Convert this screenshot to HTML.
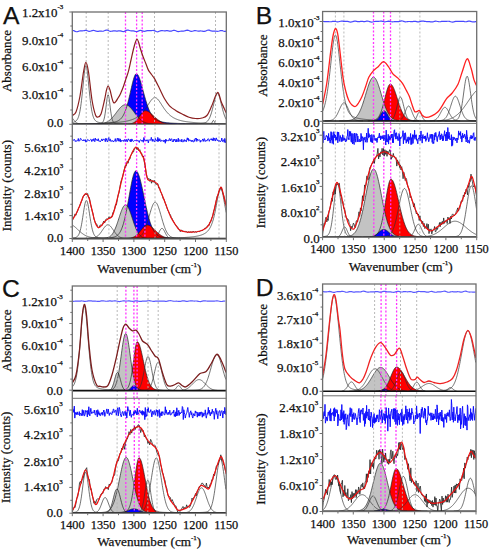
<!DOCTYPE html>
<html><head><meta charset="utf-8"><style>
html,body{margin:0;padding:0;background:#fff;}
svg{display:block;}
text{font-family:"Liberation Serif", serif;fill:#111;stroke:#111;stroke-width:0.25px;}
</style></head><body>
<svg width="492" height="550" viewBox="0 0 492 550">
<rect width="492" height="550" fill="#fff"/>
<clipPath id="clipAT"><rect x="72.3" y="12" width="154" height="112.3"/></clipPath>
<g clip-path="url(#clipAT)">
<path d="M72.3,124.02 L72.7,124.02 L73.1,124.01 L73.5,124.01 L73.9,124.01 L74.3,124 L74.7,124 L75.1,123.99 L75.5,123.99 L75.9,123.99 L76.3,123.98 L76.7,123.98 L77.1,123.97 L77.5,123.97 L77.9,123.96 L78.3,123.96 L78.7,123.96 L79.1,123.95 L79.5,123.95 L79.9,123.94 L80.3,123.94 L80.7,123.93 L81.1,123.93 L81.5,123.92 L81.9,123.91 L82.3,123.91 L82.7,123.9 L83.1,123.9 L83.5,123.89 L83.9,123.89 L84.3,123.88 L84.7,123.87 L85.1,123.87 L85.5,123.86 L85.9,123.85 L86.3,123.85 L86.7,123.84 L87.1,123.83 L87.5,123.82 L87.9,123.82 L88.3,123.81 L88.7,123.8 L89.1,123.79 L89.5,123.78 L89.9,123.77 L90.3,123.77 L90.7,123.76 L91.1,123.75 L91.5,123.74 L91.9,123.73 L92.3,123.72 L92.7,123.71 L93.1,123.7 L93.5,123.69 L93.9,123.67 L94.3,123.66 L94.7,123.65 L95.1,123.64 L95.5,123.63 L95.9,123.61 L96.3,123.6 L96.7,123.59 L97.1,123.57 L97.5,123.56 L97.9,123.54 L98.3,123.53 L98.7,123.51 L99.1,123.49 L99.5,123.48 L99.9,123.46 L100.3,123.44 L100.7,123.42 L101.1,123.41 L101.5,123.39 L101.9,123.37 L102.3,123.34 L102.7,123.32 L103.1,123.3 L103.5,123.28 L103.9,123.25 L104.3,123.23 L104.7,123.2 L105.1,123.18 L105.5,123.15 L105.9,123.12 L106.3,123.09 L106.7,123.06 L107.1,123.03 L107.5,122.99 L107.9,122.96 L108.3,122.92 L108.7,122.88 L109.1,122.84 L109.5,122.8 L109.9,122.76 L110.3,122.71 L110.7,122.66 L111.1,122.61 L111.5,122.56 L111.9,122.5 L112.3,122.44 L112.7,122.38 L113.1,122.31 L113.5,122.24 L113.9,122.16 L114.3,122.08 L114.7,121.99 L115.1,121.89 L115.5,121.78 L115.9,121.66 L116.3,121.54 L116.7,121.4 L117.1,121.24 L117.5,121.07 L117.9,120.88 L118.3,120.68 L118.7,120.45 L119.1,120.2 L119.5,119.92 L119.9,119.61 L120.3,119.27 L120.7,118.89 L121.1,118.48 L121.5,118.02 L121.9,117.52 L122.3,116.96 L122.7,116.36 L123.1,115.7 L123.5,114.98 L123.9,114.2 L124.3,113.36 L124.7,112.44 L125.1,111.46 L125.5,110.41 L125.9,109.29 L126.3,108.09 L126.7,106.82 L127.1,105.48 L127.5,104.07 L127.9,102.59 L128.3,101.05 L128.7,99.46 L129.1,97.81 L129.5,96.11 L129.9,94.38 L130.3,92.63 L130.7,90.86 L131.1,89.08 L131.5,87.32 L131.9,85.58 L132.3,83.89 L132.7,82.26 L133.1,80.72 L133.5,79.28 L133.9,77.96 L134.3,76.79 L134.7,75.8 L135.1,74.98 L135.5,74.37 L135.9,73.98 L136.3,73.81 L136.7,73.85 L137.1,74.05 L137.5,74.41 L137.9,74.92 L138.3,75.58 L138.7,76.38 L139.1,77.3 L139.5,78.33 L139.9,79.47 L140.3,80.69 L140.7,81.99 L141.1,83.35 L141.5,84.76 L141.9,86.2 L142.3,87.68 L142.7,89.17 L143.1,90.67 L143.5,92.17 L143.9,93.65 L144.3,95.13 L144.7,96.58 L145.1,98 L145.5,99.39 L145.9,100.75 L146.3,102.06 L146.7,103.33 L147.1,104.56 L147.5,105.73 L147.9,106.86 L148.3,107.93 L148.7,108.95 L149.1,109.93 L149.5,110.85 L149.9,111.71 L150.3,112.53 L150.7,113.3 L151.1,114.02 L151.5,114.7 L151.9,115.33 L152.3,115.92 L152.7,116.46 L153.1,116.97 L153.5,117.44 L153.9,117.87 L154.3,118.27 L154.7,118.64 L155.1,118.98 L155.5,119.29 L155.9,119.58 L156.3,119.85 L156.7,120.09 L157.1,120.31 L157.5,120.52 L157.9,120.71 L158.3,120.88 L158.7,121.04 L159.1,121.19 L159.5,121.32 L159.9,121.45 L160.3,121.56 L160.7,121.67 L161.1,121.77 L161.5,121.86 L161.9,121.95 L162.3,122.03 L162.7,122.1 L163.1,122.17 L163.5,122.24 L163.9,122.3 L164.3,122.36 L164.7,122.41 L165.1,122.47 L165.5,122.51 L165.9,122.56 L166.3,122.61 L166.7,122.65 L167.1,122.69 L167.5,122.73 L167.9,122.77 L168.3,122.81 L168.7,122.84 L169.1,122.87 L169.5,122.91 L169.9,122.94 L170.3,122.97 L170.7,123 L171.1,123.03 L171.5,123.05 L171.9,123.08 L172.3,123.11 L172.7,123.13 L173.1,123.15 L173.5,123.18 L173.9,123.2 L174.3,123.22 L174.7,123.24 L175.1,123.26 L175.5,123.28 L175.9,123.3 L176.3,123.32 L176.7,123.34 L177.1,123.36 L177.5,123.38 L177.9,123.39 L178.3,123.41 L178.7,123.43 L179.1,123.44 L179.5,123.46 L179.9,123.47 L180.3,123.49 L180.7,123.5 L181.1,123.51 L181.5,123.53 L181.9,123.54 L182.3,123.55 L182.7,123.56 L183.1,123.58 L183.5,123.59 L183.9,123.6 L184.3,123.61 L184.7,123.62 L185.1,123.63 L185.5,123.64 L185.9,123.65 L186.3,123.66 L186.7,123.67 L187.1,123.68 L187.5,123.69 L187.9,123.7 L188.3,123.71 L188.7,123.72 L189.1,123.73 L189.5,123.74 L189.9,123.74 L190.3,123.75 L190.7,123.76 L191.1,123.77 L191.5,123.78 L191.9,123.78 L192.3,123.79 L192.7,123.8 L193.1,123.8 L193.5,123.81 L193.9,123.82 L194.3,123.82 L194.7,123.83 L195.1,123.84 L195.5,123.84 L195.9,123.85 L196.3,123.85 L196.7,123.86 L197.1,123.87 L197.5,123.87 L197.9,123.88 L198.3,123.88 L198.7,123.89 L199.1,123.89 L199.5,123.9 L199.9,123.9 L200.3,123.91 L200.7,123.91 L201.1,123.92 L201.5,123.92 L201.9,123.93 L202.3,123.93 L202.7,123.93 L203.1,123.94 L203.5,123.94 L203.9,123.95 L204.3,123.95 L204.7,123.96 L205.1,123.96 L205.5,123.96 L205.9,123.97 L206.3,123.97 L206.7,123.97 L207.1,123.98 L207.5,123.98 L207.9,123.98 L208.3,123.99 L208.7,123.99 L209.1,124 L209.5,124 L209.9,124 L210.3,124 L210.7,124.01 L211.1,124.01 L211.5,124.01 L211.9,124.02 L212.3,124.02 L212.7,124.02 L213.1,124.03 L213.5,124.03 L213.9,124.03 L214.3,124.03 L214.7,124.04 L215.1,124.04 L215.5,124.04 L215.9,124.04 L216.3,124.05 L216.7,124.05 L217.1,124.05 L217.5,124.05 L217.9,124.06 L218.3,124.06 L218.7,124.06 L219.1,124.06 L219.5,124.07 L219.9,124.07 L220.3,124.07 L220.7,124.07 L221.1,124.07 L221.5,124.08 L221.9,124.08 L222.3,124.08 L222.7,124.08 L223.1,124.08 L223.5,124.09 L223.9,124.09 L224.3,124.09 L224.7,124.09 L225.1,124.09 L225.5,124.1 L225.9,124.1 L226.3,124.1 L226.3,124.3 L72.3,124.3 Z" fill="#0000ff" stroke="none"/>
<path d="M97.9,124.13 L98.3,124.11 L98.7,124.08 L99.1,124.05 L99.5,124.01 L99.9,123.97 L100.3,123.93 L100.7,123.88 L101.1,123.82 L101.5,123.76 L101.9,123.69 L102.3,123.62 L102.7,123.53 L103.1,123.44 L103.5,123.34 L103.9,123.23 L104.3,123.11 L104.7,122.97 L105.1,122.83 L105.5,122.67 L105.9,122.51 L106.3,122.32 L106.7,122.13 L107.1,121.91 L107.5,121.69 L107.9,121.44 L108.3,121.18 L108.7,120.91 L109.1,120.61 L109.5,120.3 L109.9,119.97 L110.3,119.63 L110.7,119.26 L111.1,118.88 L111.5,118.48 L111.9,118.07 L112.3,117.64 L112.7,117.19 L113.1,116.73 L113.5,116.25 L113.9,115.77 L114.3,115.27 L114.7,114.76 L115.1,114.24 L115.5,113.72 L115.9,113.19 L116.3,112.65 L116.7,112.12 L117.1,111.59 L117.5,111.06 L117.9,110.54 L118.3,110.02 L118.7,109.52 L119.1,109.03 L119.5,108.55 L119.9,108.09 L120.3,107.66 L120.7,107.24 L121.1,106.85 L121.5,106.49 L121.9,106.15 L122.3,105.85 L122.7,105.58 L123.1,105.34 L123.5,105.14 L123.9,104.98 L124.3,104.85 L124.7,104.76 L125.1,104.71 L125.5,104.7 L125.9,104.73 L126.3,104.8 L126.7,104.91 L127.1,105.05 L127.5,105.24 L127.9,105.46 L128.3,105.71 L128.7,106 L129.1,106.32 L129.5,106.67 L129.9,107.04 L130.3,107.45 L130.7,107.87 L131.1,108.32 L131.5,108.79 L131.9,109.27 L132.3,109.77 L132.7,110.28 L133.1,110.8 L133.5,111.32 L133.9,111.86 L134.3,112.39 L134.7,112.92 L135.1,113.45 L135.5,113.98 L135.9,114.5 L136.3,115.01 L136.7,115.52 L137.1,116.01 L137.5,116.49 L137.9,116.96 L138.3,117.42 L138.7,117.85 L139.1,118.28 L139.5,118.68 L139.9,119.07 L140.3,119.45 L140.7,119.8 L141.1,120.14 L141.5,120.46 L141.9,120.76 L142.3,121.05 L142.7,121.31 L143.1,121.57 L143.5,121.8 L143.9,122.02 L144.3,122.23 L144.7,122.42 L145.1,122.59 L145.5,122.75 L145.9,122.9 L146.3,123.04 L146.7,123.17 L147.1,123.28 L147.5,123.39 L147.9,123.49 L148.3,123.57 L148.7,123.65 L149.1,123.73 L149.5,123.79 L149.9,123.85 L150.3,123.9 L150.7,123.95 L151.1,123.99 L151.5,124.03 L151.9,124.06 L152.3,124.09 L152.7,124.12 L153.1,124.14 L153.1,124.3 L97.9,124.3 Z" fill="#c3c3c3" stroke="none"/>
<path d="M125.5,124.15 L125.9,124.14 L126.3,124.12 L126.7,124.11 L127.1,124.09 L127.5,124.07 L127.9,124.05 L128.3,124.02 L128.7,123.99 L129.1,123.95 L129.5,123.9 L129.9,123.84 L130.3,123.78 L130.7,123.7 L131.1,123.62 L131.5,123.51 L131.9,123.4 L132.3,123.26 L132.7,123.11 L133.1,122.93 L133.5,122.74 L133.9,122.51 L134.3,122.27 L134.7,121.99 L135.1,121.69 L135.5,121.35 L135.9,120.99 L136.3,120.59 L136.7,120.17 L137.1,119.71 L137.5,119.23 L137.9,118.72 L138.3,118.19 L138.7,117.64 L139.1,117.07 L139.5,116.49 L139.9,115.91 L140.3,115.32 L140.7,114.74 L141.1,114.18 L141.5,113.63 L141.9,113.11 L142.3,112.62 L142.7,112.17 L143.1,111.77 L143.5,111.43 L143.9,111.15 L144.3,110.93 L144.7,110.78 L145.1,110.71 L145.5,110.7 L145.9,110.74 L146.3,110.8 L146.7,110.89 L147.1,111.01 L147.5,111.17 L147.9,111.35 L148.3,111.55 L148.7,111.78 L149.1,112.04 L149.5,112.31 L149.9,112.61 L150.3,112.92 L150.7,113.25 L151.1,113.59 L151.5,113.94 L151.9,114.3 L152.3,114.67 L152.7,115.05 L153.1,115.43 L153.5,115.81 L153.9,116.19 L154.3,116.57 L154.7,116.94 L155.1,117.32 L155.5,117.68 L155.9,118.04 L156.3,118.39 L156.7,118.74 L157.1,119.07 L157.5,119.39 L157.9,119.7 L158.3,120 L158.7,120.29 L159.1,120.56 L159.5,120.82 L159.9,121.07 L160.3,121.31 L160.7,121.53 L161.1,121.74 L161.5,121.94 L161.9,122.13 L162.3,122.3 L162.7,122.46 L163.1,122.61 L163.5,122.75 L163.9,122.88 L164.3,123 L164.7,123.11 L165.1,123.22 L165.5,123.31 L165.9,123.39 L166.3,123.47 L166.7,123.54 L167.1,123.61 L167.5,123.67 L167.9,123.72 L168.3,123.77 L168.7,123.81 L169.1,123.85 L169.5,123.89 L169.9,123.92 L170.3,123.95 L170.7,123.98 L171.1,124 L171.5,124.02 L171.9,124.04 L172.3,124.06 L172.7,124.07 L173.1,124.09 L173.5,124.1 L173.9,124.11 L174.3,124.12 L174.7,124.13 L175.1,124.14 L175.5,124.14 L175.5,124.3 L125.5,124.3 Z" fill="#ff0000" stroke="none"/>
<path d="M72.3,124.02 L72.7,124.02 L73.1,124.01 L73.5,124.01 L73.9,124.01 L74.3,124 L74.7,124 L75.1,123.99 L75.5,123.99 L75.9,123.99 L76.3,123.98 L76.7,123.98 L77.1,123.97 L77.5,123.97 L77.9,123.96 L78.3,123.96 L78.7,123.96 L79.1,123.95 L79.5,123.95 L79.9,123.94 L80.3,123.94 L80.7,123.93 L81.1,123.93 L81.5,123.92 L81.9,123.91 L82.3,123.91 L82.7,123.9 L83.1,123.9 L83.5,123.89 L83.9,123.89 L84.3,123.88 L84.7,123.87 L85.1,123.87 L85.5,123.86 L85.9,123.85 L86.3,123.85 L86.7,123.84 L87.1,123.83 L87.5,123.82 L87.9,123.82 L88.3,123.81 L88.7,123.8 L89.1,123.79 L89.5,123.78 L89.9,123.77 L90.3,123.77 L90.7,123.76 L91.1,123.75 L91.5,123.74 L91.9,123.73 L92.3,123.72 L92.7,123.71 L93.1,123.7 L93.5,123.69 L93.9,123.67 L94.3,123.66 L94.7,123.65 L95.1,123.64 L95.5,123.63 L95.9,123.61 L96.3,123.6 L96.7,123.59 L97.1,123.57 L97.5,123.56 L97.9,123.54 L98.3,123.53 L98.7,123.51 L99.1,123.49 L99.5,123.48 L99.9,123.46 L100.3,123.44 L100.7,123.42 L101.1,123.41 L101.5,123.39 L101.9,123.37 L102.3,123.34 L102.7,123.32 L103.1,123.3 L103.5,123.28 L103.9,123.25 L104.3,123.23 L104.7,123.2 L105.1,123.18 L105.5,123.15 L105.9,123.12 L106.3,123.09 L106.7,123.06 L107.1,123.03 L107.5,122.99 L107.9,122.96 L108.3,122.92 L108.7,122.88 L109.1,122.84 L109.5,122.8 L109.9,122.76 L110.3,122.71 L110.7,122.66 L111.1,122.61 L111.5,122.56 L111.9,122.5 L112.3,122.44 L112.7,122.38 L113.1,122.31 L113.5,122.24 L113.9,122.16 L114.3,122.08 L114.7,121.99 L115.1,121.89 L115.5,121.78 L115.9,121.66 L116.3,121.54 L116.7,121.4 L117.1,121.24 L117.5,121.07 L117.9,120.88 L118.3,120.68 L118.7,120.45 L119.1,120.2 L119.5,119.92 L119.9,119.61 L120.3,119.27 L120.7,118.89 L121.1,118.48 L121.5,118.02 L121.9,117.52 L122.3,116.96 L122.7,116.36 L123.1,115.7 L123.5,114.98 L123.9,114.2 L124.3,113.36 L124.7,112.44 L125.1,111.46 L125.5,110.41 L125.9,109.29 L126.3,108.09 L126.7,106.82 L127.1,105.48 L127.5,104.07 L127.9,102.59 L128.3,101.05 L128.7,99.46 L129.1,97.81 L129.5,96.11 L129.9,94.38 L130.3,92.63 L130.7,90.86 L131.1,89.08 L131.5,87.32 L131.9,85.58 L132.3,83.89 L132.7,82.26 L133.1,80.72 L133.5,79.28 L133.9,77.96 L134.3,76.79 L134.7,75.8 L135.1,74.98 L135.5,74.37 L135.9,73.98 L136.3,73.81 L136.7,73.85 L137.1,74.05 L137.5,74.41 L137.9,74.92 L138.3,75.58 L138.7,76.38 L139.1,77.3 L139.5,78.33 L139.9,79.47 L140.3,80.69 L140.7,81.99 L141.1,83.35 L141.5,84.76 L141.9,86.2 L142.3,87.68 L142.7,89.17 L143.1,90.67 L143.5,92.17 L143.9,93.65 L144.3,95.13 L144.7,96.58 L145.1,98 L145.5,99.39 L145.9,100.75 L146.3,102.06 L146.7,103.33 L147.1,104.56 L147.5,105.73 L147.9,106.86 L148.3,107.93 L148.7,108.95 L149.1,109.93 L149.5,110.85 L149.9,111.71 L150.3,112.53 L150.7,113.3 L151.1,114.02 L151.5,114.7 L151.9,115.33 L152.3,115.92 L152.7,116.46 L153.1,116.97 L153.5,117.44 L153.9,117.87 L154.3,118.27 L154.7,118.64 L155.1,118.98 L155.5,119.29 L155.9,119.58 L156.3,119.85 L156.7,120.09 L157.1,120.31 L157.5,120.52 L157.9,120.71 L158.3,120.88 L158.7,121.04 L159.1,121.19 L159.5,121.32 L159.9,121.45 L160.3,121.56 L160.7,121.67 L161.1,121.77 L161.5,121.86 L161.9,121.95 L162.3,122.03 L162.7,122.1 L163.1,122.17 L163.5,122.24 L163.9,122.3 L164.3,122.36 L164.7,122.41 L165.1,122.47 L165.5,122.51 L165.9,122.56 L166.3,122.61 L166.7,122.65 L167.1,122.69 L167.5,122.73 L167.9,122.77 L168.3,122.81 L168.7,122.84 L169.1,122.87 L169.5,122.91 L169.9,122.94 L170.3,122.97 L170.7,123 L171.1,123.03 L171.5,123.05 L171.9,123.08 L172.3,123.11 L172.7,123.13 L173.1,123.15 L173.5,123.18 L173.9,123.2 L174.3,123.22 L174.7,123.24 L175.1,123.26 L175.5,123.28 L175.9,123.3 L176.3,123.32 L176.7,123.34 L177.1,123.36 L177.5,123.38 L177.9,123.39 L178.3,123.41 L178.7,123.43 L179.1,123.44 L179.5,123.46 L179.9,123.47 L180.3,123.49 L180.7,123.5 L181.1,123.51 L181.5,123.53 L181.9,123.54 L182.3,123.55 L182.7,123.56 L183.1,123.58 L183.5,123.59 L183.9,123.6 L184.3,123.61 L184.7,123.62 L185.1,123.63 L185.5,123.64 L185.9,123.65 L186.3,123.66 L186.7,123.67 L187.1,123.68 L187.5,123.69 L187.9,123.7 L188.3,123.71 L188.7,123.72 L189.1,123.73 L189.5,123.74 L189.9,123.74 L190.3,123.75 L190.7,123.76 L191.1,123.77 L191.5,123.78 L191.9,123.78 L192.3,123.79 L192.7,123.8 L193.1,123.8 L193.5,123.81 L193.9,123.82 L194.3,123.82 L194.7,123.83 L195.1,123.84 L195.5,123.84 L195.9,123.85 L196.3,123.85 L196.7,123.86 L197.1,123.87 L197.5,123.87 L197.9,123.88 L198.3,123.88 L198.7,123.89 L199.1,123.89 L199.5,123.9 L199.9,123.9 L200.3,123.91 L200.7,123.91 L201.1,123.92 L201.5,123.92 L201.9,123.93 L202.3,123.93 L202.7,123.93 L203.1,123.94 L203.5,123.94 L203.9,123.95 L204.3,123.95 L204.7,123.96 L205.1,123.96 L205.5,123.96 L205.9,123.97 L206.3,123.97 L206.7,123.97 L207.1,123.98 L207.5,123.98 L207.9,123.98 L208.3,123.99 L208.7,123.99 L209.1,124 L209.5,124 L209.9,124 L210.3,124 L210.7,124.01 L211.1,124.01 L211.5,124.01 L211.9,124.02 L212.3,124.02 L212.7,124.02 L213.1,124.03 L213.5,124.03 L213.9,124.03 L214.3,124.03 L214.7,124.04 L215.1,124.04 L215.5,124.04 L215.9,124.04 L216.3,124.05 L216.7,124.05 L217.1,124.05 L217.5,124.05 L217.9,124.06 L218.3,124.06 L218.7,124.06 L219.1,124.06 L219.5,124.07 L219.9,124.07 L220.3,124.07 L220.7,124.07 L221.1,124.07 L221.5,124.08 L221.9,124.08 L222.3,124.08 L222.7,124.08 L223.1,124.08 L223.5,124.09 L223.9,124.09 L224.3,124.09 L224.7,124.09 L225.1,124.09 L225.5,124.1 L225.9,124.1 L226.3,124.1" fill="none" stroke="#222" stroke-width="0.7"/>
<path d="M97.9,124.13 L98.3,124.11 L98.7,124.08 L99.1,124.05 L99.5,124.01 L99.9,123.97 L100.3,123.93 L100.7,123.88 L101.1,123.82 L101.5,123.76 L101.9,123.69 L102.3,123.62 L102.7,123.53 L103.1,123.44 L103.5,123.34 L103.9,123.23 L104.3,123.11 L104.7,122.97 L105.1,122.83 L105.5,122.67 L105.9,122.51 L106.3,122.32 L106.7,122.13 L107.1,121.91 L107.5,121.69 L107.9,121.44 L108.3,121.18 L108.7,120.91 L109.1,120.61 L109.5,120.3 L109.9,119.97 L110.3,119.63 L110.7,119.26 L111.1,118.88 L111.5,118.48 L111.9,118.07 L112.3,117.64 L112.7,117.19 L113.1,116.73 L113.5,116.25 L113.9,115.77 L114.3,115.27 L114.7,114.76 L115.1,114.24 L115.5,113.72 L115.9,113.19 L116.3,112.65 L116.7,112.12 L117.1,111.59 L117.5,111.06 L117.9,110.54 L118.3,110.02 L118.7,109.52 L119.1,109.03 L119.5,108.55 L119.9,108.09 L120.3,107.66 L120.7,107.24 L121.1,106.85 L121.5,106.49 L121.9,106.15 L122.3,105.85 L122.7,105.58 L123.1,105.34 L123.5,105.14 L123.9,104.98 L124.3,104.85 L124.7,104.76 L125.1,104.71 L125.5,104.7 L125.9,104.73 L126.3,104.8 L126.7,104.91 L127.1,105.05 L127.5,105.24 L127.9,105.46 L128.3,105.71 L128.7,106 L129.1,106.32 L129.5,106.67 L129.9,107.04 L130.3,107.45 L130.7,107.87 L131.1,108.32 L131.5,108.79 L131.9,109.27 L132.3,109.77 L132.7,110.28 L133.1,110.8 L133.5,111.32 L133.9,111.86 L134.3,112.39 L134.7,112.92 L135.1,113.45 L135.5,113.98 L135.9,114.5 L136.3,115.01 L136.7,115.52 L137.1,116.01 L137.5,116.49 L137.9,116.96 L138.3,117.42 L138.7,117.85 L139.1,118.28 L139.5,118.68 L139.9,119.07 L140.3,119.45 L140.7,119.8 L141.1,120.14 L141.5,120.46 L141.9,120.76 L142.3,121.05 L142.7,121.31 L143.1,121.57 L143.5,121.8 L143.9,122.02 L144.3,122.23 L144.7,122.42 L145.1,122.59 L145.5,122.75 L145.9,122.9 L146.3,123.04 L146.7,123.17 L147.1,123.28 L147.5,123.39 L147.9,123.49 L148.3,123.57 L148.7,123.65 L149.1,123.73 L149.5,123.79 L149.9,123.85 L150.3,123.9 L150.7,123.95 L151.1,123.99 L151.5,124.03 L151.9,124.06 L152.3,124.09 L152.7,124.12 L153.1,124.14" fill="none" stroke="#222" stroke-width="0.7"/>
<path d="M125.5,124.15 L125.9,124.14 L126.3,124.12 L126.7,124.11 L127.1,124.09 L127.5,124.07 L127.9,124.05 L128.3,124.02 L128.7,123.99 L129.1,123.95 L129.5,123.9 L129.9,123.84 L130.3,123.78 L130.7,123.7 L131.1,123.62 L131.5,123.51 L131.9,123.4 L132.3,123.26 L132.7,123.11 L133.1,122.93 L133.5,122.74 L133.9,122.51 L134.3,122.27 L134.7,121.99 L135.1,121.69 L135.5,121.35 L135.9,120.99 L136.3,120.59 L136.7,120.17 L137.1,119.71 L137.5,119.23 L137.9,118.72 L138.3,118.19 L138.7,117.64 L139.1,117.07 L139.5,116.49 L139.9,115.91 L140.3,115.32 L140.7,114.74 L141.1,114.18 L141.5,113.63 L141.9,113.11 L142.3,112.62 L142.7,112.17 L143.1,111.77 L143.5,111.43 L143.9,111.15 L144.3,110.93 L144.7,110.78 L145.1,110.71 L145.5,110.7 L145.9,110.74 L146.3,110.8 L146.7,110.89 L147.1,111.01 L147.5,111.17 L147.9,111.35 L148.3,111.55 L148.7,111.78 L149.1,112.04 L149.5,112.31 L149.9,112.61 L150.3,112.92 L150.7,113.25 L151.1,113.59 L151.5,113.94 L151.9,114.3 L152.3,114.67 L152.7,115.05 L153.1,115.43 L153.5,115.81 L153.9,116.19 L154.3,116.57 L154.7,116.94 L155.1,117.32 L155.5,117.68 L155.9,118.04 L156.3,118.39 L156.7,118.74 L157.1,119.07 L157.5,119.39 L157.9,119.7 L158.3,120 L158.7,120.29 L159.1,120.56 L159.5,120.82 L159.9,121.07 L160.3,121.31 L160.7,121.53 L161.1,121.74 L161.5,121.94 L161.9,122.13 L162.3,122.3 L162.7,122.46 L163.1,122.61 L163.5,122.75 L163.9,122.88 L164.3,123 L164.7,123.11 L165.1,123.22 L165.5,123.31 L165.9,123.39 L166.3,123.47 L166.7,123.54 L167.1,123.61 L167.5,123.67 L167.9,123.72 L168.3,123.77 L168.7,123.81 L169.1,123.85 L169.5,123.89 L169.9,123.92 L170.3,123.95 L170.7,123.98 L171.1,124 L171.5,124.02 L171.9,124.04 L172.3,124.06 L172.7,124.07 L173.1,124.09 L173.5,124.1 L173.9,124.11 L174.3,124.12 L174.7,124.13 L175.1,124.14 L175.5,124.14" fill="none" stroke="#222" stroke-width="0.7"/>
<path d="M72.3,122.6 L72.7,122.5 L73.1,122.39 L73.5,122.27 L73.9,122.13 L74.3,121.97 L74.7,121.79 L75.1,121.59 L75.5,121.34 L75.9,121.05 L76.3,120.7 L76.7,120.28 L77.1,119.76 L77.5,119.13 L77.9,118.36 L78.3,117.41 L78.7,116.27 L79.1,114.9 L79.5,113.27 L79.9,111.34 L80.3,109.11 L80.7,106.54 L81.1,103.64 L81.5,100.4 L81.9,96.87 L82.3,93.07 L82.7,89.08 L83.1,84.98 L83.5,80.88 L83.9,76.93 L84.3,73.3 L84.7,70.17 L85.1,67.76 L85.5,66.23 L85.9,65.7 L86.3,66.23 L86.7,67.76 L87.1,70.17 L87.5,73.3 L87.9,76.93 L88.3,80.88 L88.7,84.98 L89.1,89.08 L89.5,93.07 L89.9,96.87 L90.3,100.4 L90.7,103.64 L91.1,106.54 L91.5,109.11 L91.9,111.34 L92.3,113.27 L92.7,114.9 L93.1,116.27 L93.5,117.41 L93.9,118.36 L94.3,119.13 L94.7,119.76 L95.1,120.28 L95.5,120.7 L95.9,121.05 L96.3,121.34 L96.7,121.59 L97.1,121.79 L97.5,121.97 L97.9,122.13 L98.3,122.27 L98.7,122.39 L99.1,122.5 L99.5,122.6 L99.9,122.69 L100.3,122.77 L100.7,122.85 L101.1,122.92 L101.5,122.99 L101.9,123.05 L102.3,123.11 L102.7,123.16 L103.1,123.21 L103.5,123.26 L103.9,123.3 L104.3,123.34 L104.7,123.38 L105.1,123.42 L105.5,123.45 L105.9,123.48 L106.3,123.51 L106.7,123.54 L107.1,123.57 L107.5,123.6 L107.9,123.62 L108.3,123.64 L108.7,123.67 L109.1,123.69 L109.5,123.71 L109.9,123.73 L110.3,123.74 L110.7,123.76 L111.1,123.78 L111.5,123.79 L111.9,123.81 L112.3,123.82 L112.7,123.84 L113.1,123.85 L113.5,123.86 L113.9,123.88 L114.3,123.89 L114.7,123.9 L115.1,123.91 L115.5,123.92 L115.9,123.93 L116.3,123.94 L116.7,123.95 L117.1,123.96 L117.5,123.97 L117.9,123.97 L118.3,123.98 L118.7,123.99 L119.1,124 L119.5,124 L119.9,124.01 L120.3,124.02 L120.7,124.02 L121.1,124.03 L121.5,124.04 L121.9,124.04 L122.3,124.05 L122.7,124.05 L123.1,124.06 L123.5,124.06 L123.9,124.07 L124.3,124.07 L124.7,124.08 L125.1,124.08 L125.5,124.09 L125.9,124.09 L126.3,124.09 L126.7,124.1 L127.1,124.1 L127.5,124.11 L127.9,124.11 L128.3,124.11 L128.7,124.12 L129.1,124.12 L129.5,124.12 L129.9,124.13 L130.3,124.13 L130.7,124.13 L131.1,124.14 L131.5,124.14 L131.9,124.14 L132.3,124.14 L132.7,124.15 L133.1,124.15" fill="none" stroke="#333" stroke-width="0.7"/>
<path d="M89.9,124.15 L90.3,124.14 L90.7,124.13 L91.1,124.13 L91.5,124.12 L91.9,124.11 L92.3,124.1 L92.7,124.09 L93.1,124.08 L93.5,124.07 L93.9,124.05 L94.3,124.04 L94.7,124.02 L95.1,124.01 L95.5,123.99 L95.9,123.97 L96.3,123.95 L96.7,123.92 L97.1,123.9 L97.5,123.87 L97.9,123.83 L98.3,123.8 L98.7,123.76 L99.1,123.71 L99.5,123.66 L99.9,123.59 L100.3,123.52 L100.7,123.43 L101.1,123.31 L101.5,123.15 L101.9,122.94 L102.3,122.64 L102.7,122.22 L103.1,121.61 L103.5,120.78 L103.9,119.63 L104.3,118.12 L104.7,116.19 L105.1,113.82 L105.5,111.03 L105.9,107.9 L106.3,104.59 L106.7,101.31 L107.1,98.36 L107.5,96.1 L107.9,94.86 L108.3,94.86 L108.7,96.1 L109.1,98.36 L109.5,101.31 L109.9,104.59 L110.3,107.9 L110.7,111.03 L111.1,113.82 L111.5,116.19 L111.9,118.12 L112.3,119.63 L112.7,120.78 L113.1,121.61 L113.5,122.22 L113.9,122.64 L114.3,122.94 L114.7,123.15 L115.1,123.31 L115.5,123.43 L115.9,123.52 L116.3,123.59 L116.7,123.66 L117.1,123.71 L117.5,123.76 L117.9,123.8 L118.3,123.83 L118.7,123.87 L119.1,123.9 L119.5,123.92 L119.9,123.95 L120.3,123.97 L120.7,123.99 L121.1,124.01 L121.5,124.02 L121.9,124.04 L122.3,124.05 L122.7,124.07 L123.1,124.08 L123.5,124.09 L123.9,124.1 L124.3,124.11 L124.7,124.12 L125.1,124.13 L125.5,124.13 L125.9,124.14 L126.3,124.15" fill="none" stroke="#333" stroke-width="0.7"/>
<path d="M72.3,123.88 L72.7,123.88 L73.1,123.87 L73.5,123.87 L73.9,123.86 L74.3,123.86 L74.7,123.86 L75.1,123.85 L75.5,123.85 L75.9,123.84 L76.3,123.84 L76.7,123.83 L77.1,123.83 L77.5,123.82 L77.9,123.82 L78.3,123.81 L78.7,123.81 L79.1,123.8 L79.5,123.8 L79.9,123.79 L80.3,123.79 L80.7,123.78 L81.1,123.78 L81.5,123.77 L81.9,123.77 L82.3,123.76 L82.7,123.75 L83.1,123.75 L83.5,123.74 L83.9,123.74 L84.3,123.73 L84.7,123.72 L85.1,123.72 L85.5,123.71 L85.9,123.7 L86.3,123.7 L86.7,123.69 L87.1,123.68 L87.5,123.68 L87.9,123.67 L88.3,123.66 L88.7,123.65 L89.1,123.65 L89.5,123.64 L89.9,123.63 L90.3,123.62 L90.7,123.61 L91.1,123.61 L91.5,123.6 L91.9,123.59 L92.3,123.58 L92.7,123.57 L93.1,123.56 L93.5,123.55 L93.9,123.54 L94.3,123.53 L94.7,123.52 L95.1,123.51 L95.5,123.5 L95.9,123.49 L96.3,123.48 L96.7,123.47 L97.1,123.46 L97.5,123.45 L97.9,123.44 L98.3,123.43 L98.7,123.41 L99.1,123.4 L99.5,123.39 L99.9,123.38 L100.3,123.36 L100.7,123.35 L101.1,123.34 L101.5,123.32 L101.9,123.31 L102.3,123.29 L102.7,123.28 L103.1,123.26 L103.5,123.25 L103.9,123.23 L104.3,123.22 L104.7,123.2 L105.1,123.18 L105.5,123.16 L105.9,123.15 L106.3,123.13 L106.7,123.11 L107.1,123.09 L107.5,123.07 L107.9,123.05 L108.3,123.03 L108.7,123.01 L109.1,122.99 L109.5,122.97 L109.9,122.95 L110.3,122.92 L110.7,122.9 L111.1,122.87 L111.5,122.85 L111.9,122.82 L112.3,122.8 L112.7,122.77 L113.1,122.74 L113.5,122.72 L113.9,122.69 L114.3,122.66 L114.7,122.63 L115.1,122.59 L115.5,122.56 L115.9,122.53 L116.3,122.49 L116.7,122.46 L117.1,122.42 L117.5,122.39 L117.9,122.35 L118.3,122.31 L118.7,122.27 L119.1,122.23 L119.5,122.18 L119.9,122.14 L120.3,122.09 L120.7,122.04 L121.1,121.99 L121.5,121.94 L121.9,121.89 L122.3,121.84 L122.7,121.78 L123.1,121.72 L123.5,121.66 L123.9,121.6 L124.3,121.54 L124.7,121.47 L125.1,121.4 L125.5,121.33 L125.9,121.26 L126.3,121.18 L126.7,121.1 L127.1,121.02 L127.5,120.93 L127.9,120.84 L128.3,120.74 L128.7,120.65 L129.1,120.54 L129.5,120.44 L129.9,120.33 L130.3,120.21 L130.7,120.09 L131.1,119.97 L131.5,119.83 L131.9,119.7 L132.3,119.55 L132.7,119.4 L133.1,119.25 L133.5,119.08 L133.9,118.91 L134.3,118.73 L134.7,118.55 L135.1,118.35 L135.5,118.14 L135.9,117.93 L136.3,117.71 L136.7,117.47 L137.1,117.22 L137.5,116.97 L137.9,116.7 L138.3,116.42 L138.7,116.12 L139.1,115.82 L139.5,115.5 L139.9,115.16 L140.3,114.81 L140.7,114.45 L141.1,114.07 L141.5,113.67 L141.9,113.26 L142.3,112.83 L142.7,112.39 L143.1,111.92 L143.5,111.45 L143.9,110.95 L144.3,110.44 L144.7,109.91 L145.1,109.36 L145.5,108.8 L145.9,108.23 L146.3,107.64 L146.7,107.04 L147.1,106.43 L147.5,105.81 L147.9,105.18 L148.3,104.55 L148.7,103.92 L149.1,103.3 L149.5,102.68 L149.9,102.07 L150.3,101.48 L150.7,100.91 L151.1,100.37 L151.5,99.87 L151.9,99.4 L152.3,98.97 L152.7,98.6 L153.1,98.28 L153.5,98.01 L153.9,97.81 L154.3,97.68 L154.7,97.61 L155.1,97.61 L155.5,97.68 L155.9,97.81 L156.3,98.01 L156.7,98.28 L157.1,98.6 L157.5,98.97 L157.9,99.4 L158.3,99.87 L158.7,100.37 L159.1,100.91 L159.5,101.48 L159.9,102.07 L160.3,102.68 L160.7,103.3 L161.1,103.92 L161.5,104.55 L161.9,105.18 L162.3,105.81 L162.7,106.43 L163.1,107.04 L163.5,107.64 L163.9,108.23 L164.3,108.8 L164.7,109.36 L165.1,109.91 L165.5,110.44 L165.9,110.95 L166.3,111.45 L166.7,111.92 L167.1,112.39 L167.5,112.83 L167.9,113.26 L168.3,113.67 L168.7,114.07 L169.1,114.45 L169.5,114.81 L169.9,115.16 L170.3,115.5 L170.7,115.82 L171.1,116.12 L171.5,116.42 L171.9,116.7 L172.3,116.97 L172.7,117.22 L173.1,117.47 L173.5,117.71 L173.9,117.93 L174.3,118.14 L174.7,118.35 L175.1,118.55 L175.5,118.73 L175.9,118.91 L176.3,119.08 L176.7,119.25 L177.1,119.4 L177.5,119.55 L177.9,119.7 L178.3,119.83 L178.7,119.97 L179.1,120.09 L179.5,120.21 L179.9,120.33 L180.3,120.44 L180.7,120.54 L181.1,120.65 L181.5,120.74 L181.9,120.84 L182.3,120.93 L182.7,121.02 L183.1,121.1 L183.5,121.18 L183.9,121.26 L184.3,121.33 L184.7,121.4 L185.1,121.47 L185.5,121.54 L185.9,121.6 L186.3,121.66 L186.7,121.72 L187.1,121.78 L187.5,121.84 L187.9,121.89 L188.3,121.94 L188.7,121.99 L189.1,122.04 L189.5,122.09 L189.9,122.14 L190.3,122.18 L190.7,122.23 L191.1,122.27 L191.5,122.31 L191.9,122.35 L192.3,122.39 L192.7,122.42 L193.1,122.46 L193.5,122.49 L193.9,122.53 L194.3,122.56 L194.7,122.59 L195.1,122.63 L195.5,122.66 L195.9,122.69 L196.3,122.72 L196.7,122.74 L197.1,122.77 L197.5,122.8 L197.9,122.82 L198.3,122.85 L198.7,122.87 L199.1,122.9 L199.5,122.92 L199.9,122.95 L200.3,122.97 L200.7,122.99 L201.1,123.01 L201.5,123.03 L201.9,123.05 L202.3,123.07 L202.7,123.09 L203.1,123.11 L203.5,123.13 L203.9,123.15 L204.3,123.16 L204.7,123.18 L205.1,123.2 L205.5,123.22 L205.9,123.23 L206.3,123.25 L206.7,123.26 L207.1,123.28 L207.5,123.29 L207.9,123.31 L208.3,123.32 L208.7,123.34 L209.1,123.35 L209.5,123.36 L209.9,123.38 L210.3,123.39 L210.7,123.4 L211.1,123.41 L211.5,123.43 L211.9,123.44 L212.3,123.45 L212.7,123.46 L213.1,123.47 L213.5,123.48 L213.9,123.49 L214.3,123.5 L214.7,123.51 L215.1,123.52 L215.5,123.53 L215.9,123.54 L216.3,123.55 L216.7,123.56 L217.1,123.57 L217.5,123.58 L217.9,123.59 L218.3,123.6 L218.7,123.61 L219.1,123.61 L219.5,123.62 L219.9,123.63 L220.3,123.64 L220.7,123.65 L221.1,123.65 L221.5,123.66 L221.9,123.67 L222.3,123.68 L222.7,123.68 L223.1,123.69 L223.5,123.7 L223.9,123.7 L224.3,123.71 L224.7,123.72 L225.1,123.72 L225.5,123.73 L225.9,123.74 L226.3,123.74" fill="none" stroke="#333" stroke-width="0.7"/>
<path d="M178.7,124.15 L179.1,124.15 L179.5,124.14 L179.9,124.14 L180.3,124.14 L180.7,124.13 L181.1,124.13 L181.5,124.13 L181.9,124.12 L182.3,124.12 L182.7,124.11 L183.1,124.11 L183.5,124.11 L183.9,124.1 L184.3,124.1 L184.7,124.09 L185.1,124.09 L185.5,124.08 L185.9,124.08 L186.3,124.07 L186.7,124.06 L187.1,124.06 L187.5,124.05 L187.9,124.04 L188.3,124.04 L188.7,124.03 L189.1,124.02 L189.5,124.02 L189.9,124.01 L190.3,124 L190.7,123.99 L191.1,123.98 L191.5,123.97 L191.9,123.96 L192.3,123.95 L192.7,123.94 L193.1,123.93 L193.5,123.92 L193.9,123.9 L194.3,123.89 L194.7,123.88 L195.1,123.86 L195.5,123.85 L195.9,123.83 L196.3,123.81 L196.7,123.8 L197.1,123.78 L197.5,123.76 L197.9,123.74 L198.3,123.71 L198.7,123.69 L199.1,123.66 L199.5,123.64 L199.9,123.61 L200.3,123.58 L200.7,123.54 L201.1,123.5 L201.5,123.46 L201.9,123.42 L202.3,123.37 L202.7,123.31 L203.1,123.24 L203.5,123.16 L203.9,123.08 L204.3,122.97 L204.7,122.85 L205.1,122.71 L205.5,122.54 L205.9,122.34 L206.3,122.11 L206.7,121.83 L207.1,121.5 L207.5,121.11 L207.9,120.67 L208.3,120.14 L208.7,119.54 L209.1,118.85 L209.5,118.07 L209.9,117.19 L210.3,116.2 L210.7,115.11 L211.1,113.91 L211.5,112.6 L211.9,111.21 L212.3,109.72 L212.7,108.16 L213.1,106.55 L213.5,104.89 L213.9,103.23 L214.3,101.59 L214.7,100 L215.1,98.5 L215.5,97.13 L215.9,95.93 L216.3,94.94 L216.7,94.21 L217.1,93.75 L217.5,93.6 L217.9,93.75 L218.3,94.21 L218.7,94.94 L219.1,95.93 L219.5,97.13 L219.9,98.5 L220.3,100 L220.7,101.59 L221.1,103.23 L221.5,104.89 L221.9,106.55 L222.3,108.16 L222.7,109.72 L223.1,111.21 L223.5,112.6 L223.9,113.91 L224.3,115.11 L224.7,116.2 L225.1,117.19 L225.5,118.07 L225.9,118.85 L226.3,119.54" fill="none" stroke="#333" stroke-width="0.7"/>
<path d="M210.7,124.1 L211.1,123.85 L211.5,123.41 L211.9,122.75 L212.3,121.93 L212.7,121.11 L213.1,120.54 L213.5,120.42 L213.9,120.78 L214.3,121.5 L214.7,122.35 L215.1,123.11 L215.5,123.66 L215.9,124" fill="none" stroke="#333" stroke-width="0.7"/>
<path d="M72.3,118.04 L72.7,118.57 L73.1,119.11 L73.5,119.65 L73.9,120.17 L74.3,120.67 L74.7,121.14 L75.1,121.57 L75.5,121.96 L75.9,122.3 L76.3,122.61 L76.7,122.87 L77.1,123.09 L77.5,123.28 L77.9,123.44 L78.3,123.56 L78.7,123.67 L79.1,123.76 L79.5,123.83 L79.9,123.88 L80.3,123.93 L80.7,123.97 L81.1,124 L81.5,124.02 L81.9,124.04 L82.3,124.06 L82.7,124.08 L83.1,124.09 L83.5,124.1 L83.9,124.12 L84.3,124.13 L84.7,124.13 L85.1,124.14 L85.5,124.15" fill="none" stroke="#333" stroke-width="0.7"/>
<line x1="86.2" y1="12" x2="86.2" y2="124.3" stroke="#b0b0b0" stroke-width="0.9" stroke-dasharray="2,2"/>
<line x1="108.2" y1="12" x2="108.2" y2="124.3" stroke="#b0b0b0" stroke-width="0.9" stroke-dasharray="2,2"/>
<line x1="154.5" y1="12" x2="154.5" y2="124.3" stroke="#b0b0b0" stroke-width="0.9" stroke-dasharray="2,2"/>
<line x1="215.5" y1="12" x2="215.5" y2="124.3" stroke="#b0b0b0" stroke-width="0.9" stroke-dasharray="2,2"/>
<line x1="125.5" y1="12" x2="125.5" y2="124.3" stroke="#ff33ff" stroke-width="1.3" stroke-dasharray="2,1.8"/>
<line x1="136.6" y1="12" x2="136.6" y2="124.3" stroke="#ff33ff" stroke-width="1.3" stroke-dasharray="2,1.8"/>
<line x1="142.2" y1="12" x2="142.2" y2="124.3" stroke="#ff33ff" stroke-width="1.3" stroke-dasharray="2,1.8"/>
<line x1="72.3" y1="124.3" x2="226.3" y2="124.3" stroke="#111" stroke-width="1.6"/>
<path d="M72.3,115.5 C72.92,114.92 74.72,115.25 76,112 C77.28,108.75 78.75,102.67 80,96 C81.25,89.33 82.52,77.6 83.5,72 C84.48,66.4 85.07,62.4 85.9,62.4 C86.73,62.4 87.48,65.73 88.5,72 C89.52,78.27 90.83,92.83 92,100 C93.17,107.17 94.5,112.17 95.5,115 C96.5,117.83 97.08,117.17 98,117 C98.92,116.83 99.92,116.83 101,114 C102.08,111.17 103.58,104 104.5,100 C105.42,96 105.9,92.33 106.5,90 C107.1,87.67 107.52,86 108.1,86 C108.68,86 109.07,87.22 110,90 C110.93,92.78 112.27,101.52 113.7,102.7 C115.13,103.88 117.38,98.8 118.6,97.1 C119.82,95.4 120.17,94.35 121,92.5 C121.83,90.65 122.77,88.32 123.6,86 C124.43,83.68 125.18,81.08 126,78.6 C126.82,76.12 127.67,74.2 128.5,71.1 C129.33,68 130.17,63.68 131,60 C131.83,56.32 132.75,52 133.5,49 C134.25,46 134.92,43.67 135.5,42 C136.08,40.33 136.5,39 137,39 C137.5,39 137.92,40.33 138.5,42 C139.08,43.67 139.75,46.58 140.5,49 C141.25,51.42 142.08,54 143,56.5 C143.92,59 145.12,61.77 146,64 C146.88,66.23 147.38,68.15 148.3,69.9 C149.22,71.65 150.47,73.05 151.5,74.5 C152.53,75.95 153.17,76.27 154.5,78.6 C155.83,80.93 157.85,85.18 159.5,88.5 C161.15,91.82 162.73,95.62 164.4,98.5 C166.07,101.38 167.57,103.77 169.5,105.8 C171.43,107.83 173.83,109.3 176,110.7 C178.17,112.1 180.33,113.12 182.5,114.2 C184.67,115.28 186.83,116.48 189,117.2 C191.17,117.92 193.33,118.37 195.5,118.5 C197.67,118.63 200.1,118.5 202,118 C203.9,117.5 205.27,117.53 206.9,115.5 C208.53,113.47 210.03,109.63 211.8,105.8 C213.57,101.97 215.88,93.05 217.5,92.5 C219.12,91.95 220.03,99.08 221.5,102.5 C222.97,105.92 225.5,111.25 226.3,113" fill="none" stroke="#8a1f1f" stroke-width="1.2"/>
<path d="M72.3,30.31 L73.3,30.47 L74.3,30.91 L75.3,31.42 L76.3,31.73 L77.3,31.68 L78.3,31.36 L79.3,30.99 L80.3,30.78 L81.3,30.76 L82.3,30.81 L83.3,30.77 L84.3,30.61 L85.3,30.45 L86.3,30.45 L87.3,30.7 L88.3,31.06 L89.3,31.31 L90.3,31.26 L91.3,30.93 L92.3,30.55 L93.3,30.37 L94.3,30.51 L95.3,30.86 L96.3,31.21 L97.3,31.36 L98.3,31.3 L99.3,31.18 L100.3,31.14 L101.3,31.2 L102.3,31.25 L103.3,31.11 L104.3,30.75 L105.3,30.31 L106.3,30.05 L107.3,30.14 L108.3,30.54 L109.3,31.01 L110.3,31.29 L111.3,31.27 L112.3,31.06 L113.3,30.86 L114.3,30.83 L115.3,30.95 L116.3,31.07 L117.3,31.05 L118.3,30.89 L119.3,30.75 L120.3,30.8 L121.3,31.06 L122.3,31.38 L123.3,31.52 L124.3,31.32 L125.3,30.86 L126.3,30.38 L127.3,30.13 L128.3,30.21 L129.3,30.5 L130.3,30.77 L131.3,30.9 L132.3,30.9 L133.3,30.92 L134.3,31.08 L135.3,31.34 L136.3,31.51 L137.3,31.44 L138.3,31.1 L139.3,30.68 L140.3,30.44 L141.3,30.52 L142.3,30.86 L143.3,31.2 L144.3,31.33 L145.3,31.17 L146.3,30.87 L147.3,30.63 L148.3,30.58 L149.3,30.67 L150.3,30.72 L151.3,30.64 L152.3,30.49 L153.3,30.44 L154.3,30.64 L155.3,31.08 L156.3,31.55 L157.3,31.78 L158.3,31.65 L159.3,31.24 L160.3,30.81 L161.3,30.58 L162.3,30.62 L163.3,30.77 L164.3,30.86 L165.3,30.8 L166.3,30.67 L167.3,30.63 L168.3,30.79 L169.3,31.04 L170.3,31.19 L171.3,31.08 L172.3,30.75 L173.3,30.4 L174.3,30.29 L175.3,30.52 L176.3,30.97 L177.3,31.4 L178.3,31.57 L179.3,31.47 L180.3,31.24 L181.3,31.07 L182.3,31.04 L183.3,31.04 L184.3,30.93 L185.3,30.65 L186.3,30.32 L187.3,30.16 L188.3,30.31 L189.3,30.72 L190.3,31.16 L191.3,31.38 L192.3,31.27 L193.3,30.95 L194.3,30.67 L195.3,30.61 L196.3,30.78 L197.3,31 L198.3,31.11 L199.3,31.06 L200.3,30.97 L201.3,30.99 L202.3,31.18 L203.3,31.4 L204.3,31.44 L205.3,31.18 L206.3,30.68 L207.3,30.22 L208.3,30.03 L209.3,30.2 L210.3,30.59 L211.3,30.95 L212.3,31.11 L213.3,31.07 L214.3,31 L215.3,31.03 L216.3,31.18 L217.3,31.3 L218.3,31.24 L219.3,30.97 L220.3,30.65 L221.3,30.51 L222.3,30.67 L223.3,31.04 L224.3,31.38 L225.3,31.45 L226.3,31.2" fill="none" stroke="#4848ff" stroke-width="1.2"/>
</g>
<line x1="69.3" y1="12" x2="72.3" y2="12" stroke="#6e6e6e" stroke-width="1"/>
<text x="63.3" y="16.6" font-size="12.9" text-anchor="end">1.2x10<tspan font-size="7" dy="-7.3">-3</tspan></text>
<line x1="69.3" y1="40" x2="72.3" y2="40" stroke="#6e6e6e" stroke-width="1"/>
<text x="63.3" y="44.6" font-size="12.9" text-anchor="end">9.0x10<tspan font-size="7" dy="-7.3">-4</tspan></text>
<line x1="69.3" y1="68" x2="72.3" y2="68" stroke="#6e6e6e" stroke-width="1"/>
<text x="63.3" y="71.4" font-size="12.9" text-anchor="end">6.0x10<tspan font-size="7" dy="-7.3">-4</tspan></text>
<line x1="69.3" y1="96" x2="72.3" y2="96" stroke="#6e6e6e" stroke-width="1"/>
<text x="63.3" y="99.4" font-size="12.9" text-anchor="end">3.0x10<tspan font-size="7" dy="-7.3">-4</tspan></text>
<line x1="69.3" y1="124.3" x2="72.3" y2="124.3" stroke="#6e6e6e" stroke-width="1"/>
<text x="63.3" y="126.6" font-size="12.9" text-anchor="end">0.0</text>
<line x1="70.3" y1="26" x2="72.3" y2="26" stroke="#6e6e6e" stroke-width="1"/>
<line x1="70.3" y1="54" x2="72.3" y2="54" stroke="#6e6e6e" stroke-width="1"/>
<line x1="70.3" y1="82" x2="72.3" y2="82" stroke="#6e6e6e" stroke-width="1"/>
<line x1="70.3" y1="110" x2="72.3" y2="110" stroke="#6e6e6e" stroke-width="1"/>
<clipPath id="clipAB"><rect x="72.3" y="124.3" width="154" height="114.7"/></clipPath>
<g clip-path="url(#clipAB)">
<path d="M75.5,238.45 L75.9,238.45 L76.3,238.45 L76.7,238.44 L77.1,238.44 L77.5,238.44 L77.9,238.44 L78.3,238.43 L78.7,238.43 L79.1,238.43 L79.5,238.43 L79.9,238.43 L80.3,238.42 L80.7,238.42 L81.1,238.42 L81.5,238.42 L81.9,238.41 L82.3,238.41 L82.7,238.41 L83.1,238.4 L83.5,238.4 L83.9,238.4 L84.3,238.4 L84.7,238.39 L85.1,238.39 L85.5,238.39 L85.9,238.38 L86.3,238.38 L86.7,238.38 L87.1,238.37 L87.5,238.37 L87.9,238.36 L88.3,238.36 L88.7,238.36 L89.1,238.35 L89.5,238.35 L89.9,238.34 L90.3,238.34 L90.7,238.33 L91.1,238.33 L91.5,238.33 L91.9,238.32 L92.3,238.32 L92.7,238.31 L93.1,238.31 L93.5,238.3 L93.9,238.29 L94.3,238.29 L94.7,238.28 L95.1,238.28 L95.5,238.27 L95.9,238.26 L96.3,238.26 L96.7,238.25 L97.1,238.24 L97.5,238.24 L97.9,238.23 L98.3,238.22 L98.7,238.21 L99.1,238.21 L99.5,238.2 L99.9,238.19 L100.3,238.18 L100.7,238.17 L101.1,238.16 L101.5,238.15 L101.9,238.14 L102.3,238.13 L102.7,238.12 L103.1,238.11 L103.5,238.1 L103.9,238.09 L104.3,238.07 L104.7,238.06 L105.1,238.05 L105.5,238.03 L105.9,238.02 L106.3,238 L106.7,237.98 L107.1,237.96 L107.5,237.94 L107.9,237.92 L108.3,237.9 L108.7,237.87 L109.1,237.85 L109.5,237.82 L109.9,237.78 L110.3,237.75 L110.7,237.7 L111.1,237.66 L111.5,237.61 L111.9,237.55 L112.3,237.49 L112.7,237.41 L113.1,237.33 L113.5,237.24 L113.9,237.13 L114.3,237.01 L114.7,236.87 L115.1,236.72 L115.5,236.54 L115.9,236.34 L116.3,236.12 L116.7,235.86 L117.1,235.57 L117.5,235.25 L117.9,234.89 L118.3,234.48 L118.7,234.03 L119.1,233.52 L119.5,232.96 L119.9,232.34 L120.3,231.66 L120.7,230.91 L121.1,230.08 L121.5,229.18 L121.9,228.2 L122.3,227.13 L122.7,225.98 L123.1,224.74 L123.5,223.4 L123.9,221.98 L124.3,220.46 L124.7,218.86 L125.1,217.16 L125.5,215.37 L125.9,213.5 L126.3,211.56 L126.7,209.53 L127.1,207.44 L127.5,205.29 L127.9,203.1 L128.3,200.86 L128.7,198.6 L129.1,196.33 L129.5,194.05 L129.9,191.79 L130.3,189.56 L130.7,187.38 L131.1,185.26 L131.5,183.23 L131.9,181.29 L132.3,179.47 L132.7,177.78 L133.1,176.25 L133.5,174.88 L133.9,173.7 L134.3,172.71 L134.7,171.92 L135.1,171.36 L135.5,171.01 L135.9,170.9 L136.3,170.98 L136.7,171.23 L137.1,171.64 L137.5,172.2 L137.9,172.92 L138.3,173.79 L138.7,174.79 L139.1,175.93 L139.5,177.19 L139.9,178.56 L140.3,180.03 L140.7,181.6 L141.1,183.25 L141.5,184.97 L141.9,186.75 L142.3,188.58 L142.7,190.44 L143.1,192.34 L143.5,194.26 L143.9,196.19 L144.3,198.11 L144.7,200.03 L145.1,201.94 L145.5,203.82 L145.9,205.67 L146.3,207.49 L146.7,209.26 L147.1,210.98 L147.5,212.66 L147.9,214.28 L148.3,215.84 L148.7,217.34 L149.1,218.77 L149.5,220.14 L149.9,221.45 L150.3,222.69 L150.7,223.86 L151.1,224.97 L151.5,226.01 L151.9,226.99 L152.3,227.91 L152.7,228.77 L153.1,229.57 L153.5,230.31 L153.9,230.99 L154.3,231.63 L154.7,232.22 L155.1,232.76 L155.5,233.25 L155.9,233.71 L156.3,234.12 L156.7,234.5 L157.1,234.85 L157.5,235.16 L157.9,235.44 L158.3,235.7 L158.7,235.93 L159.1,236.15 L159.5,236.34 L159.9,236.51 L160.3,236.66 L160.7,236.8 L161.1,236.92 L161.5,237.04 L161.9,237.14 L162.3,237.23 L162.7,237.31 L163.1,237.38 L163.5,237.45 L163.9,237.51 L164.3,237.56 L164.7,237.61 L165.1,237.65 L165.5,237.69 L165.9,237.73 L166.3,237.76 L166.7,237.79 L167.1,237.82 L167.5,237.84 L167.9,237.87 L168.3,237.89 L168.7,237.91 L169.1,237.93 L169.5,237.95 L169.9,237.96 L170.3,237.98 L170.7,237.99 L171.1,238.01 L171.5,238.02 L171.9,238.03 L172.3,238.05 L172.7,238.06 L173.1,238.07 L173.5,238.08 L173.9,238.09 L174.3,238.1 L174.7,238.11 L175.1,238.12 L175.5,238.13 L175.9,238.14 L176.3,238.15 L176.7,238.16 L177.1,238.16 L177.5,238.17 L177.9,238.18 L178.3,238.19 L178.7,238.2 L179.1,238.2 L179.5,238.21 L179.9,238.22 L180.3,238.22 L180.7,238.23 L181.1,238.24 L181.5,238.24 L181.9,238.25 L182.3,238.25 L182.7,238.26 L183.1,238.26 L183.5,238.27 L183.9,238.27 L184.3,238.28 L184.7,238.29 L185.1,238.29 L185.5,238.29 L185.9,238.3 L186.3,238.3 L186.7,238.31 L187.1,238.31 L187.5,238.32 L187.9,238.32 L188.3,238.33 L188.7,238.33 L189.1,238.33 L189.5,238.34 L189.9,238.34 L190.3,238.34 L190.7,238.35 L191.1,238.35 L191.5,238.36 L191.9,238.36 L192.3,238.36 L192.7,238.37 L193.1,238.37 L193.5,238.37 L193.9,238.37 L194.3,238.38 L194.7,238.38 L195.1,238.38 L195.5,238.39 L195.9,238.39 L196.3,238.39 L196.7,238.39 L197.1,238.4 L197.5,238.4 L197.9,238.4 L198.3,238.4 L198.7,238.41 L199.1,238.41 L199.5,238.41 L199.9,238.41 L200.3,238.42 L200.7,238.42 L201.1,238.42 L201.5,238.42 L201.9,238.42 L202.3,238.43 L202.7,238.43 L203.1,238.43 L203.5,238.43 L203.9,238.43 L204.3,238.44 L204.7,238.44 L205.1,238.44 L205.5,238.44 L205.9,238.44 L206.3,238.45 L206.7,238.45 L207.1,238.45 L207.1,238.6 L75.5,238.6 Z" fill="#0000ff" stroke="none"/>
<path d="M103.9,238.44 L104.3,238.41 L104.7,238.37 L105.1,238.32 L105.5,238.26 L105.9,238.19 L106.3,238.11 L106.7,238.02 L107.1,237.92 L107.5,237.79 L107.9,237.65 L108.3,237.48 L108.7,237.29 L109.1,237.08 L109.5,236.84 L109.9,236.56 L110.3,236.25 L110.7,235.91 L111.1,235.52 L111.5,235.09 L111.9,234.62 L112.3,234.1 L112.7,233.52 L113.1,232.9 L113.5,232.22 L113.9,231.49 L114.3,230.71 L114.7,229.87 L115.1,228.97 L115.5,228.03 L115.9,227.03 L116.3,225.98 L116.7,224.89 L117.1,223.76 L117.5,222.59 L117.9,221.4 L118.3,220.18 L118.7,218.95 L119.1,217.71 L119.5,216.48 L119.9,215.26 L120.3,214.06 L120.7,212.89 L121.1,211.76 L121.5,210.69 L121.9,209.68 L122.3,208.74 L122.7,207.89 L123.1,207.12 L123.5,206.46 L123.9,205.89 L124.3,205.44 L124.7,205.11 L125.1,204.9 L125.5,204.8 L125.9,204.83 L126.3,204.99 L126.7,205.26 L127.1,205.66 L127.5,206.16 L127.9,206.78 L128.3,207.49 L128.7,208.31 L129.1,209.2 L129.5,210.18 L129.9,211.22 L130.3,212.32 L130.7,213.47 L131.1,214.65 L131.5,215.87 L131.9,217.1 L132.3,218.33 L132.7,219.57 L133.1,220.79 L133.5,222 L133.9,223.18 L134.3,224.33 L134.7,225.44 L135.1,226.51 L135.5,227.53 L135.9,228.51 L136.3,229.43 L136.7,230.3 L137.1,231.11 L137.5,231.87 L137.9,232.57 L138.3,233.22 L138.7,233.82 L139.1,234.36 L139.5,234.86 L139.9,235.31 L140.3,235.72 L140.7,236.08 L141.1,236.41 L141.5,236.7 L141.9,236.96 L142.3,237.19 L142.7,237.39 L143.1,237.57 L143.5,237.72 L143.9,237.86 L144.3,237.97 L144.7,238.07 L145.1,238.16 L145.5,238.23 L145.9,238.29 L146.3,238.34 L146.7,238.39 L147.1,238.43 L147.1,238.6 L103.9,238.6 Z" fill="#c3c3c3" stroke="none"/>
<path d="M124.3,238.45 L124.7,238.44 L125.1,238.43 L125.5,238.42 L125.9,238.4 L126.3,238.39 L126.7,238.37 L127.1,238.35 L127.5,238.33 L127.9,238.3 L128.3,238.26 L128.7,238.23 L129.1,238.18 L129.5,238.14 L129.9,238.08 L130.3,238.01 L130.7,237.94 L131.1,237.86 L131.5,237.76 L131.9,237.65 L132.3,237.53 L132.7,237.4 L133.1,237.24 L133.5,237.07 L133.9,236.89 L134.3,236.68 L134.7,236.46 L135.1,236.21 L135.5,235.94 L135.9,235.65 L136.3,235.33 L136.7,234.99 L137.1,234.63 L137.5,234.25 L137.9,233.85 L138.3,233.42 L138.7,232.98 L139.1,232.52 L139.5,232.04 L139.9,231.55 L140.3,231.06 L140.7,230.55 L141.1,230.04 L141.5,229.54 L141.9,229.03 L142.3,228.54 L142.7,228.06 L143.1,227.6 L143.5,227.17 L143.9,226.76 L144.3,226.38 L144.7,226.04 L145.1,225.75 L145.5,225.49 L145.9,225.29 L146.3,225.14 L146.7,225.04 L147.1,225 L147.5,225.01 L147.9,225.05 L148.3,225.13 L148.7,225.24 L149.1,225.39 L149.5,225.56 L149.9,225.77 L150.3,226 L150.7,226.26 L151.1,226.55 L151.5,226.85 L151.9,227.18 L152.3,227.52 L152.7,227.88 L153.1,228.25 L153.5,228.63 L153.9,229.02 L154.3,229.42 L154.7,229.82 L155.1,230.22 L155.5,230.62 L155.9,231.02 L156.3,231.41 L156.7,231.8 L157.1,232.18 L157.5,232.56 L157.9,232.92 L158.3,233.27 L158.7,233.62 L159.1,233.95 L159.5,234.26 L159.9,234.57 L160.3,234.86 L160.7,235.13 L161.1,235.39 L161.5,235.64 L161.9,235.87 L162.3,236.09 L162.7,236.29 L163.1,236.49 L163.5,236.66 L163.9,236.83 L164.3,236.98 L164.7,237.13 L165.1,237.26 L165.5,237.38 L165.9,237.49 L166.3,237.59 L166.7,237.68 L167.1,237.76 L167.5,237.84 L167.9,237.91 L168.3,237.97 L168.7,238.03 L169.1,238.08 L169.5,238.12 L169.9,238.16 L170.3,238.2 L170.7,238.23 L171.1,238.26 L171.5,238.29 L171.9,238.31 L172.3,238.33 L172.7,238.35 L173.1,238.37 L173.5,238.38 L173.9,238.4 L174.3,238.41 L174.7,238.42 L175.1,238.43 L175.5,238.44 L175.9,238.44 L175.9,238.6 L124.3,238.6 Z" fill="#ff0000" stroke="none"/>
<path d="M75.5,238.45 L75.9,238.45 L76.3,238.45 L76.7,238.44 L77.1,238.44 L77.5,238.44 L77.9,238.44 L78.3,238.43 L78.7,238.43 L79.1,238.43 L79.5,238.43 L79.9,238.43 L80.3,238.42 L80.7,238.42 L81.1,238.42 L81.5,238.42 L81.9,238.41 L82.3,238.41 L82.7,238.41 L83.1,238.4 L83.5,238.4 L83.9,238.4 L84.3,238.4 L84.7,238.39 L85.1,238.39 L85.5,238.39 L85.9,238.38 L86.3,238.38 L86.7,238.38 L87.1,238.37 L87.5,238.37 L87.9,238.36 L88.3,238.36 L88.7,238.36 L89.1,238.35 L89.5,238.35 L89.9,238.34 L90.3,238.34 L90.7,238.33 L91.1,238.33 L91.5,238.33 L91.9,238.32 L92.3,238.32 L92.7,238.31 L93.1,238.31 L93.5,238.3 L93.9,238.29 L94.3,238.29 L94.7,238.28 L95.1,238.28 L95.5,238.27 L95.9,238.26 L96.3,238.26 L96.7,238.25 L97.1,238.24 L97.5,238.24 L97.9,238.23 L98.3,238.22 L98.7,238.21 L99.1,238.21 L99.5,238.2 L99.9,238.19 L100.3,238.18 L100.7,238.17 L101.1,238.16 L101.5,238.15 L101.9,238.14 L102.3,238.13 L102.7,238.12 L103.1,238.11 L103.5,238.1 L103.9,238.09 L104.3,238.07 L104.7,238.06 L105.1,238.05 L105.5,238.03 L105.9,238.02 L106.3,238 L106.7,237.98 L107.1,237.96 L107.5,237.94 L107.9,237.92 L108.3,237.9 L108.7,237.87 L109.1,237.85 L109.5,237.82 L109.9,237.78 L110.3,237.75 L110.7,237.7 L111.1,237.66 L111.5,237.61 L111.9,237.55 L112.3,237.49 L112.7,237.41 L113.1,237.33 L113.5,237.24 L113.9,237.13 L114.3,237.01 L114.7,236.87 L115.1,236.72 L115.5,236.54 L115.9,236.34 L116.3,236.12 L116.7,235.86 L117.1,235.57 L117.5,235.25 L117.9,234.89 L118.3,234.48 L118.7,234.03 L119.1,233.52 L119.5,232.96 L119.9,232.34 L120.3,231.66 L120.7,230.91 L121.1,230.08 L121.5,229.18 L121.9,228.2 L122.3,227.13 L122.7,225.98 L123.1,224.74 L123.5,223.4 L123.9,221.98 L124.3,220.46 L124.7,218.86 L125.1,217.16 L125.5,215.37 L125.9,213.5 L126.3,211.56 L126.7,209.53 L127.1,207.44 L127.5,205.29 L127.9,203.1 L128.3,200.86 L128.7,198.6 L129.1,196.33 L129.5,194.05 L129.9,191.79 L130.3,189.56 L130.7,187.38 L131.1,185.26 L131.5,183.23 L131.9,181.29 L132.3,179.47 L132.7,177.78 L133.1,176.25 L133.5,174.88 L133.9,173.7 L134.3,172.71 L134.7,171.92 L135.1,171.36 L135.5,171.01 L135.9,170.9 L136.3,170.98 L136.7,171.23 L137.1,171.64 L137.5,172.2 L137.9,172.92 L138.3,173.79 L138.7,174.79 L139.1,175.93 L139.5,177.19 L139.9,178.56 L140.3,180.03 L140.7,181.6 L141.1,183.25 L141.5,184.97 L141.9,186.75 L142.3,188.58 L142.7,190.44 L143.1,192.34 L143.5,194.26 L143.9,196.19 L144.3,198.11 L144.7,200.03 L145.1,201.94 L145.5,203.82 L145.9,205.67 L146.3,207.49 L146.7,209.26 L147.1,210.98 L147.5,212.66 L147.9,214.28 L148.3,215.84 L148.7,217.34 L149.1,218.77 L149.5,220.14 L149.9,221.45 L150.3,222.69 L150.7,223.86 L151.1,224.97 L151.5,226.01 L151.9,226.99 L152.3,227.91 L152.7,228.77 L153.1,229.57 L153.5,230.31 L153.9,230.99 L154.3,231.63 L154.7,232.22 L155.1,232.76 L155.5,233.25 L155.9,233.71 L156.3,234.12 L156.7,234.5 L157.1,234.85 L157.5,235.16 L157.9,235.44 L158.3,235.7 L158.7,235.93 L159.1,236.15 L159.5,236.34 L159.9,236.51 L160.3,236.66 L160.7,236.8 L161.1,236.92 L161.5,237.04 L161.9,237.14 L162.3,237.23 L162.7,237.31 L163.1,237.38 L163.5,237.45 L163.9,237.51 L164.3,237.56 L164.7,237.61 L165.1,237.65 L165.5,237.69 L165.9,237.73 L166.3,237.76 L166.7,237.79 L167.1,237.82 L167.5,237.84 L167.9,237.87 L168.3,237.89 L168.7,237.91 L169.1,237.93 L169.5,237.95 L169.9,237.96 L170.3,237.98 L170.7,237.99 L171.1,238.01 L171.5,238.02 L171.9,238.03 L172.3,238.05 L172.7,238.06 L173.1,238.07 L173.5,238.08 L173.9,238.09 L174.3,238.1 L174.7,238.11 L175.1,238.12 L175.5,238.13 L175.9,238.14 L176.3,238.15 L176.7,238.16 L177.1,238.16 L177.5,238.17 L177.9,238.18 L178.3,238.19 L178.7,238.2 L179.1,238.2 L179.5,238.21 L179.9,238.22 L180.3,238.22 L180.7,238.23 L181.1,238.24 L181.5,238.24 L181.9,238.25 L182.3,238.25 L182.7,238.26 L183.1,238.26 L183.5,238.27 L183.9,238.27 L184.3,238.28 L184.7,238.29 L185.1,238.29 L185.5,238.29 L185.9,238.3 L186.3,238.3 L186.7,238.31 L187.1,238.31 L187.5,238.32 L187.9,238.32 L188.3,238.33 L188.7,238.33 L189.1,238.33 L189.5,238.34 L189.9,238.34 L190.3,238.34 L190.7,238.35 L191.1,238.35 L191.5,238.36 L191.9,238.36 L192.3,238.36 L192.7,238.37 L193.1,238.37 L193.5,238.37 L193.9,238.37 L194.3,238.38 L194.7,238.38 L195.1,238.38 L195.5,238.39 L195.9,238.39 L196.3,238.39 L196.7,238.39 L197.1,238.4 L197.5,238.4 L197.9,238.4 L198.3,238.4 L198.7,238.41 L199.1,238.41 L199.5,238.41 L199.9,238.41 L200.3,238.42 L200.7,238.42 L201.1,238.42 L201.5,238.42 L201.9,238.42 L202.3,238.43 L202.7,238.43 L203.1,238.43 L203.5,238.43 L203.9,238.43 L204.3,238.44 L204.7,238.44 L205.1,238.44 L205.5,238.44 L205.9,238.44 L206.3,238.45 L206.7,238.45 L207.1,238.45" fill="none" stroke="#222" stroke-width="0.7"/>
<path d="M103.9,238.44 L104.3,238.41 L104.7,238.37 L105.1,238.32 L105.5,238.26 L105.9,238.19 L106.3,238.11 L106.7,238.02 L107.1,237.92 L107.5,237.79 L107.9,237.65 L108.3,237.48 L108.7,237.29 L109.1,237.08 L109.5,236.84 L109.9,236.56 L110.3,236.25 L110.7,235.91 L111.1,235.52 L111.5,235.09 L111.9,234.62 L112.3,234.1 L112.7,233.52 L113.1,232.9 L113.5,232.22 L113.9,231.49 L114.3,230.71 L114.7,229.87 L115.1,228.97 L115.5,228.03 L115.9,227.03 L116.3,225.98 L116.7,224.89 L117.1,223.76 L117.5,222.59 L117.9,221.4 L118.3,220.18 L118.7,218.95 L119.1,217.71 L119.5,216.48 L119.9,215.26 L120.3,214.06 L120.7,212.89 L121.1,211.76 L121.5,210.69 L121.9,209.68 L122.3,208.74 L122.7,207.89 L123.1,207.12 L123.5,206.46 L123.9,205.89 L124.3,205.44 L124.7,205.11 L125.1,204.9 L125.5,204.8 L125.9,204.83 L126.3,204.99 L126.7,205.26 L127.1,205.66 L127.5,206.16 L127.9,206.78 L128.3,207.49 L128.7,208.31 L129.1,209.2 L129.5,210.18 L129.9,211.22 L130.3,212.32 L130.7,213.47 L131.1,214.65 L131.5,215.87 L131.9,217.1 L132.3,218.33 L132.7,219.57 L133.1,220.79 L133.5,222 L133.9,223.18 L134.3,224.33 L134.7,225.44 L135.1,226.51 L135.5,227.53 L135.9,228.51 L136.3,229.43 L136.7,230.3 L137.1,231.11 L137.5,231.87 L137.9,232.57 L138.3,233.22 L138.7,233.82 L139.1,234.36 L139.5,234.86 L139.9,235.31 L140.3,235.72 L140.7,236.08 L141.1,236.41 L141.5,236.7 L141.9,236.96 L142.3,237.19 L142.7,237.39 L143.1,237.57 L143.5,237.72 L143.9,237.86 L144.3,237.97 L144.7,238.07 L145.1,238.16 L145.5,238.23 L145.9,238.29 L146.3,238.34 L146.7,238.39 L147.1,238.43" fill="none" stroke="#222" stroke-width="0.7"/>
<path d="M124.3,238.45 L124.7,238.44 L125.1,238.43 L125.5,238.42 L125.9,238.4 L126.3,238.39 L126.7,238.37 L127.1,238.35 L127.5,238.33 L127.9,238.3 L128.3,238.26 L128.7,238.23 L129.1,238.18 L129.5,238.14 L129.9,238.08 L130.3,238.01 L130.7,237.94 L131.1,237.86 L131.5,237.76 L131.9,237.65 L132.3,237.53 L132.7,237.4 L133.1,237.24 L133.5,237.07 L133.9,236.89 L134.3,236.68 L134.7,236.46 L135.1,236.21 L135.5,235.94 L135.9,235.65 L136.3,235.33 L136.7,234.99 L137.1,234.63 L137.5,234.25 L137.9,233.85 L138.3,233.42 L138.7,232.98 L139.1,232.52 L139.5,232.04 L139.9,231.55 L140.3,231.06 L140.7,230.55 L141.1,230.04 L141.5,229.54 L141.9,229.03 L142.3,228.54 L142.7,228.06 L143.1,227.6 L143.5,227.17 L143.9,226.76 L144.3,226.38 L144.7,226.04 L145.1,225.75 L145.5,225.49 L145.9,225.29 L146.3,225.14 L146.7,225.04 L147.1,225 L147.5,225.01 L147.9,225.05 L148.3,225.13 L148.7,225.24 L149.1,225.39 L149.5,225.56 L149.9,225.77 L150.3,226 L150.7,226.26 L151.1,226.55 L151.5,226.85 L151.9,227.18 L152.3,227.52 L152.7,227.88 L153.1,228.25 L153.5,228.63 L153.9,229.02 L154.3,229.42 L154.7,229.82 L155.1,230.22 L155.5,230.62 L155.9,231.02 L156.3,231.41 L156.7,231.8 L157.1,232.18 L157.5,232.56 L157.9,232.92 L158.3,233.27 L158.7,233.62 L159.1,233.95 L159.5,234.26 L159.9,234.57 L160.3,234.86 L160.7,235.13 L161.1,235.39 L161.5,235.64 L161.9,235.87 L162.3,236.09 L162.7,236.29 L163.1,236.49 L163.5,236.66 L163.9,236.83 L164.3,236.98 L164.7,237.13 L165.1,237.26 L165.5,237.38 L165.9,237.49 L166.3,237.59 L166.7,237.68 L167.1,237.76 L167.5,237.84 L167.9,237.91 L168.3,237.97 L168.7,238.03 L169.1,238.08 L169.5,238.12 L169.9,238.16 L170.3,238.2 L170.7,238.23 L171.1,238.26 L171.5,238.29 L171.9,238.31 L172.3,238.33 L172.7,238.35 L173.1,238.37 L173.5,238.38 L173.9,238.4 L174.3,238.41 L174.7,238.42 L175.1,238.43 L175.5,238.44 L175.9,238.44" fill="none" stroke="#222" stroke-width="0.7"/>
<path d="M72.3,238.03 L72.7,237.99 L73.1,237.95 L73.5,237.91 L73.9,237.86 L74.3,237.79 L74.7,237.72 L75.1,237.63 L75.5,237.52 L75.9,237.37 L76.3,237.2 L76.7,236.97 L77.1,236.69 L77.5,236.33 L77.9,235.88 L78.3,235.32 L78.7,234.63 L79.1,233.8 L79.5,232.79 L79.9,231.6 L80.3,230.21 L80.7,228.6 L81.1,226.78 L81.5,224.74 L81.9,222.52 L82.3,220.12 L82.7,217.59 L83.1,214.99 L83.5,212.36 L83.9,209.79 L84.3,207.37 L84.7,205.17 L85.1,203.29 L85.5,201.82 L85.9,200.85 L86.3,200.42 L86.7,200.56 L87.1,201.27 L87.5,202.5 L87.9,204.18 L88.3,206.23 L88.7,208.56 L89.1,211.07 L89.5,213.67 L89.9,216.3 L90.3,218.87 L90.7,221.34 L91.1,223.65 L91.5,225.79 L91.9,227.72 L92.3,229.43 L92.7,230.93 L93.1,232.22 L93.5,233.32 L93.9,234.24 L94.3,234.99 L94.7,235.61 L95.1,236.12 L95.5,236.52 L95.9,236.84 L96.3,237.09 L96.7,237.29 L97.1,237.45 L97.5,237.57 L97.9,237.68 L98.3,237.76 L98.7,237.83 L99.1,237.88 L99.5,237.93 L99.9,237.97 L100.3,238.01 L100.7,238.04 L101.1,238.07 L101.5,238.1 L101.9,238.12 L102.3,238.14 L102.7,238.17 L103.1,238.19 L103.5,238.2 L103.9,238.22 L104.3,238.24 L104.7,238.25 L105.1,238.27 L105.5,238.28 L105.9,238.29 L106.3,238.3 L106.7,238.31 L107.1,238.32 L107.5,238.33 L107.9,238.34 L108.3,238.35 L108.7,238.36 L109.1,238.37 L109.5,238.38 L109.9,238.38 L110.3,238.39 L110.7,238.4 L111.1,238.4 L111.5,238.41 L111.9,238.42 L112.3,238.42 L112.7,238.43 L113.1,238.43 L113.5,238.44 L113.9,238.44 L114.3,238.45" fill="none" stroke="#333" stroke-width="0.7"/>
<path d="M88.3,238.44 L88.7,238.43 L89.1,238.41 L89.5,238.4 L89.9,238.38 L90.3,238.36 L90.7,238.33 L91.1,238.3 L91.5,238.26 L91.9,238.22 L92.3,238.17 L92.7,238.11 L93.1,238.04 L93.5,237.95 L93.9,237.86 L94.3,237.75 L94.7,237.62 L95.1,237.47 L95.5,237.31 L95.9,237.12 L96.3,236.9 L96.7,236.67 L97.1,236.4 L97.5,236.11 L97.9,235.78 L98.3,235.43 L98.7,235.04 L99.1,234.63 L99.5,234.18 L99.9,233.7 L100.3,233.2 L100.7,232.67 L101.1,232.12 L101.5,231.56 L101.9,230.97 L102.3,230.38 L102.7,229.79 L103.1,229.2 L103.5,228.61 L103.9,228.05 L104.3,227.5 L104.7,226.99 L105.1,226.52 L105.5,226.09 L105.9,225.71 L106.3,225.39 L106.7,225.14 L107.1,224.95 L107.5,224.84 L107.9,224.8 L108.3,224.84 L108.7,224.95 L109.1,225.14 L109.5,225.39 L109.9,225.71 L110.3,226.09 L110.7,226.52 L111.1,226.99 L111.5,227.5 L111.9,228.05 L112.3,228.61 L112.7,229.2 L113.1,229.79 L113.5,230.38 L113.9,230.97 L114.3,231.56 L114.7,232.12 L115.1,232.67 L115.5,233.2 L115.9,233.7 L116.3,234.18 L116.7,234.63 L117.1,235.04 L117.5,235.43 L117.9,235.78 L118.3,236.11 L118.7,236.4 L119.1,236.67 L119.5,236.9 L119.9,237.12 L120.3,237.31 L120.7,237.47 L121.1,237.62 L121.5,237.75 L121.9,237.86 L122.3,237.95 L122.7,238.04 L123.1,238.11 L123.5,238.17 L123.9,238.22 L124.3,238.26 L124.7,238.3 L125.1,238.33 L125.5,238.36 L125.9,238.38 L126.3,238.4 L126.7,238.41 L127.1,238.43 L127.5,238.44" fill="none" stroke="#333" stroke-width="0.7"/>
<path d="M72.3,225.16 L72.7,225.37 L73.1,225.6 L73.5,225.86 L73.9,226.14 L74.3,226.43 L74.7,226.75 L75.1,227.08 L75.5,227.43 L75.9,227.79 L76.3,228.15 L76.7,228.52 L77.1,228.9 L77.5,229.28 L77.9,229.66 L78.3,230.03 L78.7,230.41 L79.1,230.78 L79.5,231.15 L79.9,231.51 L80.3,231.86 L80.7,232.21 L81.1,232.55 L81.5,232.87 L81.9,233.19 L82.3,233.49 L82.7,233.79 L83.1,234.07 L83.5,234.34 L83.9,234.6 L84.3,234.85 L84.7,235.08 L85.1,235.3 L85.5,235.51 L85.9,235.71 L86.3,235.9 L86.7,236.07 L87.1,236.24 L87.5,236.39 L87.9,236.54 L88.3,236.67 L88.7,236.8 L89.1,236.91 L89.5,237.02 L89.9,237.12 L90.3,237.22 L90.7,237.3 L91.1,237.38 L91.5,237.46 L91.9,237.52 L92.3,237.58 L92.7,237.64 L93.1,237.69 L93.5,237.74 L93.9,237.79 L94.3,237.83 L94.7,237.87 L95.1,237.9 L95.5,237.93 L95.9,237.96 L96.3,237.99 L96.7,238.01 L97.1,238.04 L97.5,238.06 L97.9,238.08 L98.3,238.1 L98.7,238.11 L99.1,238.13 L99.5,238.14 L99.9,238.16 L100.3,238.17 L100.7,238.18 L101.1,238.19 L101.5,238.21 L101.9,238.22 L102.3,238.23 L102.7,238.23 L103.1,238.24 L103.5,238.25 L103.9,238.26 L104.3,238.27 L104.7,238.28 L105.1,238.28 L105.5,238.29 L105.9,238.3 L106.3,238.3 L106.7,238.31 L107.1,238.31 L107.5,238.32 L107.9,238.33 L108.3,238.33 L108.7,238.34 L109.1,238.34 L109.5,238.35 L109.9,238.35 L110.3,238.36 L110.7,238.36 L111.1,238.37 L111.5,238.37 L111.9,238.37 L112.3,238.38 L112.7,238.38 L113.1,238.39 L113.5,238.39 L113.9,238.39 L114.3,238.4 L114.7,238.4 L115.1,238.4 L115.5,238.41 L115.9,238.41 L116.3,238.41 L116.7,238.42 L117.1,238.42 L117.5,238.42 L117.9,238.42 L118.3,238.43 L118.7,238.43 L119.1,238.43 L119.5,238.44 L119.9,238.44 L120.3,238.44 L120.7,238.44 L121.1,238.45 L121.5,238.45 L121.9,238.45" fill="none" stroke="#333" stroke-width="0.7"/>
<path d="M120.7,238.45 L121.1,238.44 L121.5,238.44 L121.9,238.44 L122.3,238.43 L122.7,238.43 L123.1,238.43 L123.5,238.42 L123.9,238.42 L124.3,238.41 L124.7,238.41 L125.1,238.4 L125.5,238.4 L125.9,238.39 L126.3,238.39 L126.7,238.38 L127.1,238.37 L127.5,238.37 L127.9,238.36 L128.3,238.35 L128.7,238.35 L129.1,238.34 L129.5,238.33 L129.9,238.32 L130.3,238.31 L130.7,238.3 L131.1,238.29 L131.5,238.27 L131.9,238.26 L132.3,238.24 L132.7,238.22 L133.1,238.2 L133.5,238.18 L133.9,238.15 L134.3,238.12 L134.7,238.08 L135.1,238.04 L135.5,237.99 L135.9,237.93 L136.3,237.86 L136.7,237.78 L137.1,237.69 L137.5,237.59 L137.9,237.46 L138.3,237.32 L138.7,237.16 L139.1,236.97 L139.5,236.75 L139.9,236.51 L140.3,236.23 L140.7,235.91 L141.1,235.55 L141.5,235.15 L141.9,234.7 L142.3,234.2 L142.7,233.64 L143.1,233.02 L143.5,232.35 L143.9,231.61 L144.3,230.8 L144.7,229.93 L145.1,229 L145.5,228 L145.9,226.93 L146.3,225.8 L146.7,224.61 L147.1,223.37 L147.5,222.08 L147.9,220.74 L148.3,219.37 L148.7,217.97 L149.1,216.56 L149.5,215.15 L149.9,213.74 L150.3,212.35 L150.7,210.99 L151.1,209.69 L151.5,208.44 L151.9,207.27 L152.3,206.19 L152.7,205.22 L153.1,204.36 L153.5,203.63 L153.9,203.05 L154.3,202.61 L154.7,202.33 L155.1,202.21 L155.5,202.25 L155.9,202.45 L156.3,202.81 L156.7,203.32 L157.1,203.98 L157.5,204.77 L157.9,205.69 L158.3,206.72 L158.7,207.85 L159.1,209.05 L159.5,210.33 L159.9,211.67 L160.3,213.04 L160.7,214.44 L161.1,215.85 L161.5,217.27 L161.9,218.67 L162.3,220.06 L162.7,221.41 L163.1,222.73 L163.5,224 L163.9,225.21 L164.3,226.37 L164.7,227.47 L165.1,228.51 L165.5,229.47 L165.9,230.38 L166.3,231.21 L166.7,231.99 L167.1,232.69 L167.5,233.34 L167.9,233.92 L168.3,234.45 L168.7,234.93 L169.1,235.36 L169.5,235.74 L169.9,236.07 L170.3,236.37 L170.7,236.64 L171.1,236.87 L171.5,237.07 L171.9,237.24 L172.3,237.4 L172.7,237.53 L173.1,237.64 L173.5,237.74 L173.9,237.82 L174.3,237.9 L174.7,237.96 L175.1,238.01 L175.5,238.06 L175.9,238.1 L176.3,238.14 L176.7,238.17 L177.1,238.19 L177.5,238.21 L177.9,238.23 L178.3,238.25 L178.7,238.27 L179.1,238.28 L179.5,238.29 L179.9,238.31 L180.3,238.32 L180.7,238.33 L181.1,238.33 L181.5,238.34 L181.9,238.35 L182.3,238.36 L182.7,238.37 L183.1,238.37 L183.5,238.38 L183.9,238.38 L184.3,238.39 L184.7,238.4 L185.1,238.4 L185.5,238.41 L185.9,238.41 L186.3,238.41 L186.7,238.42 L187.1,238.42 L187.5,238.43 L187.9,238.43 L188.3,238.44 L188.7,238.44 L189.1,238.44 L189.5,238.45 L189.9,238.45" fill="none" stroke="#333" stroke-width="0.7"/>
<path d="M153.5,238.39 L153.9,238.29 L154.3,238.17 L154.7,238.01 L155.1,237.8 L155.5,237.54 L155.9,237.21 L156.3,236.81 L156.7,236.33 L157.1,235.78 L157.5,235.15 L157.9,234.45 L158.3,233.7 L158.7,232.9 L159.1,232.09 L159.5,231.3 L159.9,230.54 L160.3,229.86 L160.7,229.28 L161.1,228.83 L161.5,228.54 L161.9,228.41 L162.3,228.45 L162.7,228.66 L163.1,229.04 L163.5,229.56 L163.9,230.19 L164.3,230.91 L164.7,231.69 L165.1,232.5 L165.5,233.3 L165.9,234.08 L166.3,234.81 L166.7,235.47 L167.1,236.06 L167.5,236.58 L167.9,237.01 L168.3,237.38 L168.7,237.68 L169.1,237.91 L169.5,238.1 L169.9,238.24 L170.3,238.34 L170.7,238.42" fill="none" stroke="#333" stroke-width="0.7"/>
<path d="M122.7,238.45 L123.1,238.45 L123.5,238.45 L123.9,238.45 L124.3,238.44 L124.7,238.44 L125.1,238.44 L125.5,238.44 L125.9,238.44 L126.3,238.44 L126.7,238.44 L127.1,238.43 L127.5,238.43 L127.9,238.43 L128.3,238.43 L128.7,238.43 L129.1,238.43 L129.5,238.43 L129.9,238.42 L130.3,238.42 L130.7,238.42 L131.1,238.42 L131.5,238.42 L131.9,238.42 L132.3,238.41 L132.7,238.41 L133.1,238.41 L133.5,238.41 L133.9,238.41 L134.3,238.41 L134.7,238.4 L135.1,238.4 L135.5,238.4 L135.9,238.4 L136.3,238.4 L136.7,238.39 L137.1,238.39 L137.5,238.39 L137.9,238.39 L138.3,238.39 L138.7,238.38 L139.1,238.38 L139.5,238.38 L139.9,238.38 L140.3,238.38 L140.7,238.37 L141.1,238.37 L141.5,238.37 L141.9,238.37 L142.3,238.36 L142.7,238.36 L143.1,238.36 L143.5,238.36 L143.9,238.35 L144.3,238.35 L144.7,238.35 L145.1,238.35 L145.5,238.34 L145.9,238.34 L146.3,238.34 L146.7,238.34 L147.1,238.33 L147.5,238.33 L147.9,238.33 L148.3,238.32 L148.7,238.32 L149.1,238.32 L149.5,238.31 L149.9,238.31 L150.3,238.31 L150.7,238.3 L151.1,238.3 L151.5,238.3 L151.9,238.29 L152.3,238.29 L152.7,238.29 L153.1,238.28 L153.5,238.28 L153.9,238.28 L154.3,238.27 L154.7,238.27 L155.1,238.26 L155.5,238.26 L155.9,238.26 L156.3,238.25 L156.7,238.25 L157.1,238.24 L157.5,238.24 L157.9,238.23 L158.3,238.23 L158.7,238.22 L159.1,238.22 L159.5,238.21 L159.9,238.21 L160.3,238.2 L160.7,238.2 L161.1,238.19 L161.5,238.19 L161.9,238.18 L162.3,238.18 L162.7,238.17 L163.1,238.17 L163.5,238.16 L163.9,238.15 L164.3,238.15 L164.7,238.14 L165.1,238.13 L165.5,238.13 L165.9,238.12 L166.3,238.11 L166.7,238.11 L167.1,238.1 L167.5,238.09 L167.9,238.08 L168.3,238.08 L168.7,238.07 L169.1,238.06 L169.5,238.05 L169.9,238.04 L170.3,238.03 L170.7,238.02 L171.1,238.02 L171.5,238.01 L171.9,238 L172.3,237.99 L172.7,237.98 L173.1,237.97 L173.5,237.95 L173.9,237.94 L174.3,237.93 L174.7,237.92 L175.1,237.91 L175.5,237.9 L175.9,237.89 L176.3,237.87 L176.7,237.86 L177.1,237.85 L177.5,237.83 L177.9,237.82 L178.3,237.8 L178.7,237.79 L179.1,237.77 L179.5,237.76 L179.9,237.74 L180.3,237.72 L180.7,237.71 L181.1,237.69 L181.5,237.67 L181.9,237.65 L182.3,237.63 L182.7,237.61 L183.1,237.59 L183.5,237.57 L183.9,237.55 L184.3,237.53 L184.7,237.5 L185.1,237.48 L185.5,237.45 L185.9,237.43 L186.3,237.4 L186.7,237.37 L187.1,237.34 L187.5,237.31 L187.9,237.28 L188.3,237.25 L188.7,237.22 L189.1,237.18 L189.5,237.15 L189.9,237.11 L190.3,237.07 L190.7,237.03 L191.1,236.99 L191.5,236.95 L191.9,236.91 L192.3,236.86 L192.7,236.81 L193.1,236.76 L193.5,236.71 L193.9,236.65 L194.3,236.6 L194.7,236.54 L195.1,236.48 L195.5,236.41 L195.9,236.34 L196.3,236.27 L196.7,236.2 L197.1,236.12 L197.5,236.04 L197.9,235.95 L198.3,235.86 L198.7,235.77 L199.1,235.67 L199.5,235.57 L199.9,235.46 L200.3,235.34 L200.7,235.22 L201.1,235.09 L201.5,234.95 L201.9,234.8 L202.3,234.65 L202.7,234.49 L203.1,234.31 L203.5,234.13 L203.9,233.93 L204.3,233.72 L204.7,233.49 L205.1,233.24 L205.5,232.98 L205.9,232.69 L206.3,232.39 L206.7,232.05 L207.1,231.69 L207.5,231.3 L207.9,230.87 L208.3,230.41 L208.7,229.9 L209.1,229.34 L209.5,228.74 L209.9,228.07 L210.3,227.35 L210.7,226.56 L211.1,225.69 L211.5,224.74 L211.9,223.71 L212.3,222.59 L212.7,221.37 L213.1,220.05 L213.5,218.62 L213.9,217.08 L214.3,215.43 L214.7,213.66 L215.1,211.78 L215.5,209.79 L215.9,207.7 L216.3,205.53 L216.7,203.29 L217.1,201.03 L217.5,198.76 L217.9,196.55 L218.3,194.45 L218.7,192.53 L219.1,190.85 L219.5,189.49 L219.9,188.5 L220.3,187.93 L220.7,187.81 L221.1,188.16 L221.5,188.94 L221.9,190.13 L222.3,191.66 L222.7,193.47 L223.1,195.49 L223.5,197.65 L223.9,199.89 L224.3,202.16 L224.7,204.42 L225.1,206.63 L225.5,208.76 L225.9,210.8 L226.3,212.73" fill="none" stroke="#333" stroke-width="0.7"/>
<line x1="86.4" y1="124.3" x2="86.4" y2="239" stroke="#b0b0b0" stroke-width="0.9" stroke-dasharray="2,2"/>
<line x1="108.9" y1="124.3" x2="108.9" y2="239" stroke="#b0b0b0" stroke-width="0.9" stroke-dasharray="2,2"/>
<line x1="155" y1="124.3" x2="155" y2="239" stroke="#b0b0b0" stroke-width="0.9" stroke-dasharray="2,2"/>
<line x1="219" y1="124.3" x2="219" y2="239" stroke="#b0b0b0" stroke-width="0.9" stroke-dasharray="2,2"/>
<line x1="125.5" y1="124.3" x2="125.5" y2="239" stroke="#ff33ff" stroke-width="1.3" stroke-dasharray="2,1.8"/>
<line x1="136.6" y1="124.3" x2="136.6" y2="239" stroke="#ff33ff" stroke-width="1.3" stroke-dasharray="2,1.8"/>
<line x1="144.9" y1="124.3" x2="144.9" y2="239" stroke="#ff33ff" stroke-width="1.3" stroke-dasharray="2,1.8"/>
<line x1="72.3" y1="238.6" x2="226.3" y2="238.6" stroke="#111" stroke-width="1.8"/>
<path d="M72.3,220.85 L73.2,217.7 L74.1,216.97 L75,213.91 L75.9,215.21 L76.8,212.6 L77.7,210.77 L78.6,208.03 L79.5,206.7 L80.4,203.92 L81.3,201.71 L82.2,199.86 L83.1,196.69 L84,195.31 L84.9,195.1 L85.8,193.64 L86.7,194.85 L87.6,193.52 L88.5,197.78 L89.4,197.61 L90.3,203.76 L91.2,207.23 L92.1,210.58 L93,213.78 L93.9,218.72 L94.8,221.18 L95.7,223.48 L96.6,223.93 L97.5,226.18 L98.4,227.81 L99.3,226.95 L100.2,225.03 L101.1,225.07 L102,225.66 L102.9,223.11 L103.8,221.08 L104.7,223.02 L105.6,219.95 L106.5,218.82 L107.4,219.23 L108.3,218.37 L109.2,216.76 L110.1,218.11 L111,216.54 L111.9,217.2 L112.8,212.9 L113.7,211.26 L114.6,209 L115.5,204.57 L116.4,204.91 L117.3,199.7 L118.2,194.99 L119.1,192.6 L120,186.45 L120.9,181.66 L121.8,179.17 L122.7,176.56 L123.6,172.56 L124.5,168.52 L125.4,165.15 L126.3,165.91 L127.2,161.24 L128.1,163.2 L129,159.23 L129.9,159.13 L130.8,155.37 L131.7,154.14 L132.6,151.65 L133.5,152.04 L134.4,148.63 L135.3,148.3 L136.2,147.28 L137.1,149.75 L138,147.69 L138.9,150.89 L139.8,149.72 L140.7,153.08 L141.6,153.09 L142.5,156.96 L143.4,155.95 L144.3,162.05 L145.2,166.03 L146.1,173.4 L147,176.57 L147.9,179.6 L148.8,178.36 L149.7,181.36 L150.6,179.09 L151.5,183.23 L152.4,180.61 L153.3,182.23 L154.2,180.29 L155.1,183.04 L156,184.52 L156.9,183.91 L157.8,183.67 L158.7,188.12 L159.6,187.87 L160.5,191.61 L161.4,193.11 L162.3,195.61 L163.2,198.86 L164.1,199.32 L165,202.44 L165.9,204.52 L166.8,207.51 L167.7,210.1 L168.6,211.45 L169.5,213.77 L170.4,214.57 L171.3,217.73 L172.2,218.62 L173.1,220.98 L174,222.48 L174.9,224.43 L175.8,224.91 L176.7,226.58 L177.6,226.9 L178.5,228.96 L179.4,229.58 L180.3,231.68 L181.2,230 L182.1,230.7 L183,231 L183.9,231.56 L184.8,231.39 L185.7,231.46 L186.6,231.56 L187.5,232.56 L188.4,231.9 L189.3,232.37 L190.2,231.74 L191.1,232.44 L192,231.74 L192.9,231.85 L193.8,231.35 L194.7,232.44 L195.6,231.64 L196.5,232.37 L197.4,231.42 L198.3,231.4 L199.2,231.59 L200.1,231.45 L201,230.51 L201.9,230.65 L202.8,230.39 L203.7,229.35 L204.6,228.38 L205.5,228.73 L206.4,226.92 L207.3,226.82 L208.2,224.94 L209.1,225.59 L210,222.01 L210.9,221.69 L211.8,217.97 L212.7,216 L213.6,211.14 L214.5,208.98 L215.4,205.08 L216.3,200.21 L217.2,196.06 L218.1,195.37 L219,191.51 L219.9,190.25 L220.8,186.92 L221.7,188.97 L222.6,192.39 L223.5,194.87 L224.4,198.45 L225.3,202.19 L226.2,205.1" fill="none" stroke="#222" stroke-width="0.8"/>
<path d="M72.3,220 C72.92,219 74.72,216.5 76,214 C77.28,211.5 78.75,208 80,205 C81.25,202 82.43,197.87 83.5,196 C84.57,194.13 85.48,193.47 86.4,193.8 C87.32,194.13 88.07,195.3 89,198 C89.93,200.7 91,206 92,210 C93,214 93.93,219.07 95,222 C96.07,224.93 97.23,227.1 98.4,227.6 C99.57,228.1 100.9,226.08 102,225 C103.1,223.92 104,222.1 105,221.1 C106,220.1 106.78,219.85 108,219 C109.22,218.15 110.97,218.5 112.3,216 C113.63,213.5 114.78,208.48 116,204 C117.22,199.52 118.52,193.6 119.6,189.1 C120.68,184.6 121.53,180.77 122.5,177 C123.47,173.23 124.43,169.22 125.4,166.5 C126.37,163.78 127.2,162.95 128.3,160.7 C129.4,158.45 130.8,155.25 132,153 C133.2,150.75 134.33,147.7 135.5,147.2 C136.67,146.7 137.92,148.7 139,150 C140.08,151.3 141.12,153.22 142,155 C142.88,156.78 143.43,156.83 144.3,160.7 C145.17,164.57 146.25,174.9 147.2,178.2 C148.15,181.5 149.03,180.02 150,180.5 C150.97,180.98 151.77,180.52 153,181.1 C154.23,181.68 156.18,182.42 157.4,184 C158.62,185.58 159.37,188.43 160.3,190.6 C161.23,192.77 162.05,194.6 163,197 C163.95,199.4 164.73,201.72 166,205 C167.27,208.28 169.1,213.53 170.6,216.7 C172.1,219.87 173.55,221.82 175,224 C176.45,226.18 177.47,228.47 179.3,229.8 C181.13,231.13 183.45,231.63 186,232 C188.55,232.37 192.27,232.17 194.6,232 C196.93,231.83 198.18,231.58 200,231 C201.82,230.42 204.17,229.3 205.5,228.5 C206.83,227.7 207.17,227.37 208,226.2 C208.83,225.03 209.68,223.33 210.5,221.5 C211.32,219.67 211.88,218.88 212.9,215.2 C213.92,211.52 215.28,204.07 216.6,199.4 C217.92,194.73 219.65,187.93 220.8,187.2 C221.95,186.47 222.58,191.75 223.5,195 C224.42,198.25 225.83,204.75 226.3,206.7" fill="none" stroke="#ee1111" stroke-width="1.2"/>
<path d="M72.3,140.02 L72.8,140.85 L73.3,140.06 L73.8,139.96 L74.3,139.3 L74.8,140.07 L75.3,141.5 L75.8,140.76 L76.3,141.42 L76.8,140.57 L77.3,140.73 L77.8,140.5 L78.3,138.5 L78.8,141.22 L79.3,140.85 L79.8,140.84 L80.3,138.47 L80.8,138.42 L81.3,139.34 L81.8,139.79 L82.3,140.63 L82.8,140.25 L83.3,140.86 L83.8,139.61 L84.3,140.63 L84.8,140.73 L85.3,139.59 L85.8,142.15 L86.3,140.9 L86.8,141.59 L87.3,139.63 L87.8,139.5 L88.3,139.93 L88.8,140.19 L89.3,140.98 L89.8,140.57 L90.3,139.82 L90.8,139.27 L91.3,139.74 L91.8,141.62 L92.3,139.43 L92.8,140.56 L93.3,140.76 L93.8,138.69 L94.3,140.35 L94.8,141.71 L95.3,138.12 L95.8,139.95 L96.3,140.19 L96.8,139.42 L97.3,140.84 L97.8,140.23 L98.3,138.72 L98.8,141.19 L99.3,141.02 L99.8,141.32 L100.3,141.86 L100.8,140.69 L101.3,140.43 L101.8,138.9 L102.3,140.96 L102.8,139.64 L103.3,139.81 L103.8,138.93 L104.3,139.25 L104.8,139.73 L105.3,141.69 L105.8,138.11 L106.3,138.73 L106.8,140.56 L107.3,141.86 L107.8,140.92 L108.3,138.25 L108.8,137.58 L109.3,140.69 L109.8,139.5 L110.3,139.09 L110.8,141.36 L111.3,141.49 L111.8,140.47 L112.3,140.57 L112.8,140.77 L113.3,142.02 L113.8,140.97 L114.3,140.86 L114.8,140.89 L115.3,138.61 L115.8,141.68 L116.3,141.33 L116.8,140.87 L117.3,138.17 L117.8,139.62 L118.3,141.21 L118.8,138.34 L119.3,140.1 L119.8,141.4 L120.3,138.88 L120.8,142.04 L121.3,140.9 L121.8,140.14 L122.3,140.65 L122.8,141 L123.3,140.43 L123.8,141.54 L124.3,139.59 L124.8,139.85 L125.3,141.43 L125.8,140.33 L126.3,139.35 L126.8,141.32 L127.3,141.88 L127.8,139.82 L128.3,138.81 L128.8,140.15 L129.3,140.14 L129.8,139.98 L130.3,141.82 L130.8,139.19 L131.3,141.66 L131.8,138.93 L132.3,139.45 L132.8,140.98 L133.3,141.52 L133.8,141.23 L134.3,140.67 L134.8,140.45 L135.3,140.46 L135.8,140.92 L136.3,140.11 L136.8,140.6 L137.3,140.92 L137.8,140.3 L138.3,141.13 L138.8,140.91 L139.3,142.47 L139.8,140.65 L140.3,139.84 L140.8,139.9 L141.3,140.29 L141.8,141.3 L142.3,139.94 L142.8,140.72 L143.3,142.28 L143.8,137.53 L144.3,139.09 L144.8,140.56 L145.3,140.73 L145.8,140.56 L146.3,139.83 L146.8,141.01 L147.3,140.6 L147.8,139.74 L148.3,142.92 L148.8,140.68 L149.3,139.7 L149.8,140.19 L150.3,140.06 L150.8,140.23 L151.3,137.35 L151.8,139.77 L152.3,141.39 L152.8,139.04 L153.3,140.23 L153.8,141.33 L154.3,141.22 L154.8,141.91 L155.3,138.46 L155.8,139.92 L156.3,139.93 L156.8,140.97 L157.3,141.48 L157.8,137.4 L158.3,141.48 L158.8,138.74 L159.3,141.04 L159.8,138.69 L160.3,140.49 L160.8,141.59 L161.3,140.14 L161.8,140.51 L162.3,141.16 L162.8,140.45 L163.3,140.2 L163.8,141.96 L164.3,141.43 L164.8,139.98 L165.3,143.26 L165.8,139.06 L166.3,141.29 L166.8,140.01 L167.3,140.44 L167.8,141.06 L168.3,140.54 L168.8,140.99 L169.3,138.65 L169.8,138.67 L170.3,140.96 L170.8,139.26 L171.3,139.19 L171.8,138.71 L172.3,141.67 L172.8,141.11 L173.3,141.89 L173.8,139.29 L174.3,140.3 L174.8,139.07 L175.3,141.13 L175.8,142.02 L176.3,139.34 L176.8,141.99 L177.3,141.37 L177.8,140.11 L178.3,138.17 L178.8,141.82 L179.3,140.2 L179.8,139.65 L180.3,140.73 L180.8,140.74 L181.3,141.92 L181.8,139.2 L182.3,141.53 L182.8,141.91 L183.3,141.87 L183.8,140.1 L184.3,139.5 L184.8,141.4 L185.3,140.42 L185.8,140.43 L186.3,141.84 L186.8,140.02 L187.3,137.82 L187.8,139.88 L188.3,138.3 L188.8,141.18 L189.3,140.64 L189.8,139.64 L190.3,140.29 L190.8,141.2 L191.3,140.39 L191.8,141.73 L192.3,140.23 L192.8,141.42 L193.3,141.91 L193.8,142.04 L194.3,139.57 L194.8,141.25 L195.3,138.27 L195.8,139.13 L196.3,138.18 L196.8,141.45 L197.3,138.97 L197.8,140.29 L198.3,140.09 L198.8,140.27 L199.3,139.66 L199.8,140.55 L200.3,142.23 L200.8,140.35 L201.3,140.87 L201.8,141.38 L202.3,140.09 L202.8,138.94 L203.3,139.7 L203.8,141.46 L204.3,138.52 L204.8,139.65 L205.3,141.39 L205.8,141.16 L206.3,140.31 L206.8,141.17 L207.3,140.48 L207.8,139.03 L208.3,138.61 L208.8,139.61 L209.3,141.3 L209.8,139.69 L210.3,139.33 L210.8,139.47 L211.3,138.65 L211.8,140.17 L212.3,139.03 L212.8,140.69 L213.3,137.75 L213.8,140.65 L214.3,139.61 L214.8,138.2 L215.3,141.08 L215.8,140 L216.3,137.89 L216.8,139.35 L217.3,140.61 L217.8,139.8 L218.3,141.14 L218.8,141.11 L219.3,141.02 L219.8,140.65 L220.3,141.74 L220.8,141.01 L221.3,140.79 L221.8,138.05 L222.3,141.27 L222.8,141.71 L223.3,139.98 L223.8,139.79 L224.3,142.4 L224.8,138.4 L225.3,140.81 L225.8,142.92 L226.3,139.3" fill="none" stroke="#1515ff" stroke-width="1.0"/>
</g>
<line x1="69.3" y1="147.5" x2="72.3" y2="147.5" stroke="#6e6e6e" stroke-width="1"/>
<text x="63.3" y="152.1" font-size="12.9" text-anchor="end">5.6x10<tspan font-size="7" dy="-7.3">3</tspan></text>
<line x1="69.3" y1="170.2" x2="72.3" y2="170.2" stroke="#6e6e6e" stroke-width="1"/>
<text x="63.3" y="174.8" font-size="12.9" text-anchor="end">4.2x10<tspan font-size="7" dy="-7.3">3</tspan></text>
<line x1="69.3" y1="192.9" x2="72.3" y2="192.9" stroke="#6e6e6e" stroke-width="1"/>
<text x="63.3" y="197.5" font-size="12.9" text-anchor="end">2.8x10<tspan font-size="7" dy="-7.3">3</tspan></text>
<line x1="69.3" y1="215.6" x2="72.3" y2="215.6" stroke="#6e6e6e" stroke-width="1"/>
<text x="63.3" y="220.2" font-size="12.9" text-anchor="end">1.4x10<tspan font-size="7" dy="-7.3">3</tspan></text>
<line x1="69.3" y1="238.5" x2="72.3" y2="238.5" stroke="#6e6e6e" stroke-width="1"/>
<text x="63.3" y="242.1" font-size="12.9" text-anchor="end">0.0</text>
<line x1="70.3" y1="158.85" x2="72.3" y2="158.85" stroke="#6e6e6e" stroke-width="1"/>
<line x1="70.3" y1="181.55" x2="72.3" y2="181.55" stroke="#6e6e6e" stroke-width="1"/>
<line x1="70.3" y1="204.25" x2="72.3" y2="204.25" stroke="#6e6e6e" stroke-width="1"/>
<line x1="70.3" y1="226.95" x2="72.3" y2="226.95" stroke="#6e6e6e" stroke-width="1"/>
<line x1="70.3" y1="136.15" x2="72.3" y2="136.15" stroke="#6e6e6e" stroke-width="1"/>
<rect x="72.3" y="12" width="154" height="227" fill="none" stroke="#6e6e6e" stroke-width="1.3"/>
<line x1="72.3" y1="124.3" x2="226.3" y2="124.3" stroke="#6e6e6e" stroke-width="1"/>
<line x1="72.3" y1="239" x2="72.3" y2="242" stroke="#6e6e6e" stroke-width="1"/>
<text x="72.3" y="255" font-size="12.3" text-anchor="middle">1400</text>
<line x1="87.7" y1="239" x2="87.7" y2="241" stroke="#6e6e6e" stroke-width="1"/>
<line x1="103.1" y1="239" x2="103.1" y2="242" stroke="#6e6e6e" stroke-width="1"/>
<text x="103.1" y="255" font-size="12.3" text-anchor="middle">1350</text>
<line x1="118.5" y1="239" x2="118.5" y2="241" stroke="#6e6e6e" stroke-width="1"/>
<line x1="133.9" y1="239" x2="133.9" y2="242" stroke="#6e6e6e" stroke-width="1"/>
<text x="133.9" y="255" font-size="12.3" text-anchor="middle">1300</text>
<line x1="149.3" y1="239" x2="149.3" y2="241" stroke="#6e6e6e" stroke-width="1"/>
<line x1="164.7" y1="239" x2="164.7" y2="242" stroke="#6e6e6e" stroke-width="1"/>
<text x="164.7" y="255" font-size="12.3" text-anchor="middle">1250</text>
<line x1="180.1" y1="239" x2="180.1" y2="241" stroke="#6e6e6e" stroke-width="1"/>
<line x1="195.5" y1="239" x2="195.5" y2="242" stroke="#6e6e6e" stroke-width="1"/>
<text x="195.5" y="255" font-size="12.3" text-anchor="middle">1200</text>
<line x1="210.9" y1="239" x2="210.9" y2="241" stroke="#6e6e6e" stroke-width="1"/>
<line x1="226.3" y1="239" x2="226.3" y2="242" stroke="#6e6e6e" stroke-width="1"/>
<text x="226.3" y="255" font-size="12.3" text-anchor="middle">1150</text>
<text x="149.3" y="272.8" font-size="13.2" text-anchor="middle">Wavenumber (cm<tspan font-size="7" dy="-6">-1</tspan><tspan dy="6">)</tspan></text>
<text transform="translate(11.2,61) rotate(-90)" font-size="13" text-anchor="middle">Absorbance</text>
<text transform="translate(10.8,185.7) rotate(-90)" font-size="13" text-anchor="middle">Intensity (counts)</text>
<text x="2.9" y="23.6" font-size="24.7" style="font-family:'Liberation Sans', sans-serif" fill="#000" stroke="#000" stroke-width="0.35">A</text>
<clipPath id="clipBT"><rect x="322.6" y="11.5" width="154.1" height="111.9"/></clipPath>
<g clip-path="url(#clipBT)">
<path d="M367.8,120.85 L368.2,120.84 L368.6,120.83 L369,120.82 L369.4,120.81 L369.8,120.8 L370.2,120.78 L370.6,120.76 L371,120.73 L371.4,120.7 L371.8,120.67 L372.2,120.63 L372.6,120.58 L373,120.51 L373.4,120.44 L373.8,120.35 L374.2,120.24 L374.6,120.12 L375,119.96 L375.4,119.79 L375.8,119.58 L376.2,119.33 L376.6,119.05 L377,118.72 L377.4,118.34 L377.8,117.91 L378.2,117.41 L378.6,116.85 L379,116.23 L379.4,115.52 L379.8,114.74 L380.2,113.88 L380.6,112.94 L381,111.91 L381.4,110.8 L381.8,109.6 L382.2,108.33 L382.6,106.98 L383,105.56 L383.4,104.08 L383.8,102.55 L384.2,100.98 L384.6,99.39 L385,97.78 L385.4,96.18 L385.8,94.61 L386.2,93.07 L386.6,91.6 L387,90.21 L387.4,88.92 L387.8,87.75 L388.2,86.72 L388.6,85.84 L389,85.13 L389.4,84.6 L389.8,84.25 L390.2,84.11 L390.6,84.13 L391,84.29 L391.4,84.56 L391.8,84.94 L392.2,85.44 L392.6,86.05 L393,86.76 L393.4,87.56 L393.8,88.44 L394.2,89.41 L394.6,90.44 L395,91.53 L395.4,92.68 L395.8,93.86 L396.2,95.08 L396.6,96.32 L397,97.57 L397.4,98.83 L397.8,100.08 L398.2,101.32 L398.6,102.55 L399,103.75 L399.4,104.93 L399.8,106.06 L400.2,107.16 L400.6,108.22 L401,109.23 L401.4,110.19 L401.8,111.1 L402.2,111.96 L402.6,112.77 L403,113.53 L403.4,114.24 L403.8,114.89 L404.2,115.5 L404.6,116.06 L405,116.57 L405.4,117.04 L405.8,117.46 L406.2,117.85 L406.6,118.2 L407,118.52 L407.4,118.8 L407.8,119.05 L408.2,119.28 L408.6,119.48 L409,119.66 L409.4,119.81 L409.8,119.95 L410.2,120.07 L410.6,120.18 L411,120.27 L411.4,120.36 L411.8,120.43 L412.2,120.49 L412.6,120.54 L413,120.59 L413.4,120.63 L413.8,120.66 L414.2,120.69 L414.6,120.72 L415,120.74 L415.4,120.76 L415.8,120.77 L416.2,120.79 L416.6,120.8 L417,120.81 L417.4,120.82 L417.8,120.83 L418.2,120.84 L418.6,120.84 L419,120.85 L419,121 L367.8,121 Z" fill="#ff0000" stroke="none"/>
<path d="M339.4,120.85 L339.8,120.84 L340.2,120.84 L340.6,120.84 L341,120.83 L341.4,120.82 L341.8,120.82 L342.2,120.81 L342.6,120.8 L343,120.8 L343.4,120.79 L343.8,120.78 L344.2,120.77 L344.6,120.75 L345,120.74 L345.4,120.72 L345.8,120.7 L346.2,120.68 L346.6,120.66 L347,120.63 L347.4,120.6 L347.8,120.56 L348.2,120.52 L348.6,120.48 L349,120.42 L349.4,120.36 L349.8,120.29 L350.2,120.22 L350.6,120.13 L351,120.03 L351.4,119.91 L351.8,119.79 L352.2,119.64 L352.6,119.48 L353,119.3 L353.4,119.1 L353.8,118.87 L354.2,118.62 L354.6,118.35 L355,118.04 L355.4,117.71 L355.8,117.34 L356.2,116.93 L356.6,116.49 L357,116 L357.4,115.48 L357.8,114.91 L358.2,114.3 L358.6,113.64 L359,112.93 L359.4,112.18 L359.8,111.37 L360.2,110.52 L360.6,109.61 L361,108.66 L361.4,107.65 L361.8,106.6 L362.2,105.5 L362.6,104.36 L363,103.18 L363.4,101.96 L363.8,100.71 L364.2,99.42 L364.6,98.12 L365,96.79 L365.4,95.45 L365.8,94.11 L366.2,92.76 L366.6,91.42 L367,90.1 L367.4,88.8 L367.8,87.53 L368.2,86.3 L368.6,85.11 L369,83.98 L369.4,82.91 L369.8,81.92 L370.2,81 L370.6,80.17 L371,79.43 L371.4,78.78 L371.8,78.25 L372.2,77.81 L372.6,77.5 L373,77.29 L373.4,77.2 L373.8,77.23 L374.2,77.38 L374.6,77.64 L375,78.02 L375.4,78.5 L375.8,79.09 L376.2,79.79 L376.6,80.57 L377,81.45 L377.4,82.41 L377.8,83.44 L378.2,84.54 L378.6,85.7 L379,86.91 L379.4,88.16 L379.8,89.45 L380.2,90.76 L380.6,92.09 L381,93.43 L381.4,94.78 L381.8,96.12 L382.2,97.46 L382.6,98.77 L383,100.07 L383.4,101.34 L383.8,102.57 L384.2,103.78 L384.6,104.94 L385,106.06 L385.4,107.13 L385.8,108.16 L386.2,109.14 L386.6,110.07 L387,110.95 L387.4,111.78 L387.8,112.56 L388.2,113.29 L388.6,113.98 L389,114.61 L389.4,115.2 L389.8,115.75 L390.2,116.25 L390.6,116.71 L391,117.14 L391.4,117.52 L391.8,117.88 L392.2,118.2 L392.6,118.49 L393,118.75 L393.4,118.99 L393.8,119.2 L394.2,119.39 L394.6,119.56 L395,119.72 L395.4,119.85 L395.8,119.97 L396.2,120.08 L396.6,120.17 L397,120.26 L397.4,120.33 L397.8,120.4 L398.2,120.45 L398.6,120.5 L399,120.55 L399.4,120.58 L399.8,120.62 L400.2,120.65 L400.6,120.67 L401,120.69 L401.4,120.71 L401.8,120.73 L402.2,120.75 L402.6,120.76 L403,120.77 L403.4,120.78 L403.8,120.79 L404.2,120.8 L404.6,120.81 L405,120.82 L405.4,120.82 L405.8,120.83 L406.2,120.83 L406.6,120.84 L407,120.84 L407.4,120.85 L407.4,121 L339.4,121 Z" fill="#c3c3c3" stroke="none"/>
<path d="M373.8,120.84 L374.2,120.78 L374.6,120.71 L375,120.61 L375.4,120.48 L375.8,120.32 L376.2,120.12 L376.6,119.88 L377,119.59 L377.4,119.25 L377.8,118.86 L378.2,118.4 L378.6,117.89 L379,117.33 L379.4,116.72 L379.8,116.07 L380.2,115.39 L380.6,114.7 L381,114.01 L381.4,113.34 L381.8,112.71 L382.2,112.15 L382.6,111.66 L383,111.27 L383.4,110.99 L383.8,110.84 L384.2,110.8 L384.6,110.9 L385,111.12 L385.4,111.46 L385.8,111.89 L386.2,112.42 L386.6,113.02 L387,113.67 L387.4,114.35 L387.8,115.04 L388.2,115.73 L388.6,116.4 L389,117.03 L389.4,117.62 L389.8,118.15 L390.2,118.64 L390.6,119.06 L391,119.43 L391.4,119.74 L391.8,120.01 L392.2,120.23 L392.6,120.4 L393,120.55 L393.4,120.66 L393.8,120.75 L394.2,120.81 L394.2,121 L373.8,121 Z" fill="#0000ff" stroke="none"/>
<path d="M367.8,120.85 L368.2,120.84 L368.6,120.83 L369,120.82 L369.4,120.81 L369.8,120.8 L370.2,120.78 L370.6,120.76 L371,120.73 L371.4,120.7 L371.8,120.67 L372.2,120.63 L372.6,120.58 L373,120.51 L373.4,120.44 L373.8,120.35 L374.2,120.24 L374.6,120.12 L375,119.96 L375.4,119.79 L375.8,119.58 L376.2,119.33 L376.6,119.05 L377,118.72 L377.4,118.34 L377.8,117.91 L378.2,117.41 L378.6,116.85 L379,116.23 L379.4,115.52 L379.8,114.74 L380.2,113.88 L380.6,112.94 L381,111.91 L381.4,110.8 L381.8,109.6 L382.2,108.33 L382.6,106.98 L383,105.56 L383.4,104.08 L383.8,102.55 L384.2,100.98 L384.6,99.39 L385,97.78 L385.4,96.18 L385.8,94.61 L386.2,93.07 L386.6,91.6 L387,90.21 L387.4,88.92 L387.8,87.75 L388.2,86.72 L388.6,85.84 L389,85.13 L389.4,84.6 L389.8,84.25 L390.2,84.11 L390.6,84.13 L391,84.29 L391.4,84.56 L391.8,84.94 L392.2,85.44 L392.6,86.05 L393,86.76 L393.4,87.56 L393.8,88.44 L394.2,89.41 L394.6,90.44 L395,91.53 L395.4,92.68 L395.8,93.86 L396.2,95.08 L396.6,96.32 L397,97.57 L397.4,98.83 L397.8,100.08 L398.2,101.32 L398.6,102.55 L399,103.75 L399.4,104.93 L399.8,106.06 L400.2,107.16 L400.6,108.22 L401,109.23 L401.4,110.19 L401.8,111.1 L402.2,111.96 L402.6,112.77 L403,113.53 L403.4,114.24 L403.8,114.89 L404.2,115.5 L404.6,116.06 L405,116.57 L405.4,117.04 L405.8,117.46 L406.2,117.85 L406.6,118.2 L407,118.52 L407.4,118.8 L407.8,119.05 L408.2,119.28 L408.6,119.48 L409,119.66 L409.4,119.81 L409.8,119.95 L410.2,120.07 L410.6,120.18 L411,120.27 L411.4,120.36 L411.8,120.43 L412.2,120.49 L412.6,120.54 L413,120.59 L413.4,120.63 L413.8,120.66 L414.2,120.69 L414.6,120.72 L415,120.74 L415.4,120.76 L415.8,120.77 L416.2,120.79 L416.6,120.8 L417,120.81 L417.4,120.82 L417.8,120.83 L418.2,120.84 L418.6,120.84 L419,120.85" fill="none" stroke="#222" stroke-width="0.7"/>
<path d="M339.4,120.85 L339.8,120.84 L340.2,120.84 L340.6,120.84 L341,120.83 L341.4,120.82 L341.8,120.82 L342.2,120.81 L342.6,120.8 L343,120.8 L343.4,120.79 L343.8,120.78 L344.2,120.77 L344.6,120.75 L345,120.74 L345.4,120.72 L345.8,120.7 L346.2,120.68 L346.6,120.66 L347,120.63 L347.4,120.6 L347.8,120.56 L348.2,120.52 L348.6,120.48 L349,120.42 L349.4,120.36 L349.8,120.29 L350.2,120.22 L350.6,120.13 L351,120.03 L351.4,119.91 L351.8,119.79 L352.2,119.64 L352.6,119.48 L353,119.3 L353.4,119.1 L353.8,118.87 L354.2,118.62 L354.6,118.35 L355,118.04 L355.4,117.71 L355.8,117.34 L356.2,116.93 L356.6,116.49 L357,116 L357.4,115.48 L357.8,114.91 L358.2,114.3 L358.6,113.64 L359,112.93 L359.4,112.18 L359.8,111.37 L360.2,110.52 L360.6,109.61 L361,108.66 L361.4,107.65 L361.8,106.6 L362.2,105.5 L362.6,104.36 L363,103.18 L363.4,101.96 L363.8,100.71 L364.2,99.42 L364.6,98.12 L365,96.79 L365.4,95.45 L365.8,94.11 L366.2,92.76 L366.6,91.42 L367,90.1 L367.4,88.8 L367.8,87.53 L368.2,86.3 L368.6,85.11 L369,83.98 L369.4,82.91 L369.8,81.92 L370.2,81 L370.6,80.17 L371,79.43 L371.4,78.78 L371.8,78.25 L372.2,77.81 L372.6,77.5 L373,77.29 L373.4,77.2 L373.8,77.23 L374.2,77.38 L374.6,77.64 L375,78.02 L375.4,78.5 L375.8,79.09 L376.2,79.79 L376.6,80.57 L377,81.45 L377.4,82.41 L377.8,83.44 L378.2,84.54 L378.6,85.7 L379,86.91 L379.4,88.16 L379.8,89.45 L380.2,90.76 L380.6,92.09 L381,93.43 L381.4,94.78 L381.8,96.12 L382.2,97.46 L382.6,98.77 L383,100.07 L383.4,101.34 L383.8,102.57 L384.2,103.78 L384.6,104.94 L385,106.06 L385.4,107.13 L385.8,108.16 L386.2,109.14 L386.6,110.07 L387,110.95 L387.4,111.78 L387.8,112.56 L388.2,113.29 L388.6,113.98 L389,114.61 L389.4,115.2 L389.8,115.75 L390.2,116.25 L390.6,116.71 L391,117.14 L391.4,117.52 L391.8,117.88 L392.2,118.2 L392.6,118.49 L393,118.75 L393.4,118.99 L393.8,119.2 L394.2,119.39 L394.6,119.56 L395,119.72 L395.4,119.85 L395.8,119.97 L396.2,120.08 L396.6,120.17 L397,120.26 L397.4,120.33 L397.8,120.4 L398.2,120.45 L398.6,120.5 L399,120.55 L399.4,120.58 L399.8,120.62 L400.2,120.65 L400.6,120.67 L401,120.69 L401.4,120.71 L401.8,120.73 L402.2,120.75 L402.6,120.76 L403,120.77 L403.4,120.78 L403.8,120.79 L404.2,120.8 L404.6,120.81 L405,120.82 L405.4,120.82 L405.8,120.83 L406.2,120.83 L406.6,120.84 L407,120.84 L407.4,120.85" fill="none" stroke="#222" stroke-width="0.7"/>
<path d="M373.8,120.84 L374.2,120.78 L374.6,120.71 L375,120.61 L375.4,120.48 L375.8,120.32 L376.2,120.12 L376.6,119.88 L377,119.59 L377.4,119.25 L377.8,118.86 L378.2,118.4 L378.6,117.89 L379,117.33 L379.4,116.72 L379.8,116.07 L380.2,115.39 L380.6,114.7 L381,114.01 L381.4,113.34 L381.8,112.71 L382.2,112.15 L382.6,111.66 L383,111.27 L383.4,110.99 L383.8,110.84 L384.2,110.8 L384.6,110.9 L385,111.12 L385.4,111.46 L385.8,111.89 L386.2,112.42 L386.6,113.02 L387,113.67 L387.4,114.35 L387.8,115.04 L388.2,115.73 L388.6,116.4 L389,117.03 L389.4,117.62 L389.8,118.15 L390.2,118.64 L390.6,119.06 L391,119.43 L391.4,119.74 L391.8,120.01 L392.2,120.23 L392.6,120.4 L393,120.55 L393.4,120.66 L393.8,120.75 L394.2,120.81" fill="none" stroke="#222" stroke-width="0.7"/>
<path d="M322.6,111.18 L323,110.3 L323.4,109.32 L323.8,108.22 L324.2,107 L324.6,105.63 L325,104.13 L325.4,102.46 L325.8,100.63 L326.2,98.63 L326.6,96.46 L327,94.1 L327.4,91.56 L327.8,88.84 L328.2,85.95 L328.6,82.89 L329,79.66 L329.4,76.3 L329.8,72.82 L330.2,69.23 L330.6,65.58 L331,61.9 L331.4,58.23 L331.8,54.61 L332.2,51.12 L332.6,47.79 L333,44.71 L333.4,41.94 L333.8,39.55 L334.2,37.61 L334.6,36.18 L335,35.3 L335.4,35 L335.8,35.3 L336.2,36.18 L336.6,37.61 L337,39.55 L337.4,41.94 L337.8,44.71 L338.2,47.79 L338.6,51.12 L339,54.61 L339.4,58.23 L339.8,61.9 L340.2,65.58 L340.6,69.23 L341,72.82 L341.4,76.3 L341.8,79.66 L342.2,82.89 L342.6,85.95 L343,88.84 L343.4,91.56 L343.8,94.1 L344.2,96.46 L344.6,98.63 L345,100.63 L345.4,102.46 L345.8,104.13 L346.2,105.63 L346.6,107 L347,108.22 L347.4,109.32 L347.8,110.3 L348.2,111.18 L348.6,111.96 L349,112.66 L349.4,113.27 L349.8,113.82 L350.2,114.31 L350.6,114.75 L351,115.13 L351.4,115.48 L351.8,115.79 L352.2,116.07 L352.6,116.32 L353,116.55 L353.4,116.76 L353.8,116.95 L354.2,117.12 L354.6,117.28 L355,117.43 L355.4,117.57 L355.8,117.7 L356.2,117.82 L356.6,117.94 L357,118.04 L357.4,118.14 L357.8,118.24 L358.2,118.33 L358.6,118.42 L359,118.5 L359.4,118.58 L359.8,118.65 L360.2,118.72 L360.6,118.79 L361,118.86 L361.4,118.92 L361.8,118.98 L362.2,119.03 L362.6,119.09 L363,119.14 L363.4,119.19 L363.8,119.24 L364.2,119.29 L364.6,119.33 L365,119.37 L365.4,119.41 L365.8,119.45 L366.2,119.49 L366.6,119.53 L367,119.57 L367.4,119.6 L367.8,119.63 L368.2,119.66 L368.6,119.7 L369,119.73 L369.4,119.75 L369.8,119.78 L370.2,119.81 L370.6,119.84 L371,119.86 L371.4,119.89 L371.8,119.91 L372.2,119.93 L372.6,119.95 L373,119.98 L373.4,120 L373.8,120.02 L374.2,120.04 L374.6,120.06 L375,120.07 L375.4,120.09 L375.8,120.11 L376.2,120.13 L376.6,120.14 L377,120.16 L377.4,120.17 L377.8,120.19 L378.2,120.2 L378.6,120.22 L379,120.23 L379.4,120.25 L379.8,120.26 L380.2,120.27 L380.6,120.29 L381,120.3 L381.4,120.31 L381.8,120.32 L382.2,120.33 L382.6,120.34 L383,120.35 L383.4,120.36 L383.8,120.38 L384.2,120.39 L384.6,120.4 L385,120.4 L385.4,120.41 L385.8,120.42 L386.2,120.43 L386.6,120.44 L387,120.45 L387.4,120.46 L387.8,120.47 L388.2,120.47 L388.6,120.48 L389,120.49 L389.4,120.5 L389.8,120.5 L390.2,120.51 L390.6,120.52 L391,120.52 L391.4,120.53 L391.8,120.54 L392.2,120.54 L392.6,120.55 L393,120.56 L393.4,120.56 L393.8,120.57 L394.2,120.57 L394.6,120.58 L395,120.59 L395.4,120.59 L395.8,120.6 L396.2,120.6 L396.6,120.61 L397,120.61 L397.4,120.62 L397.8,120.62 L398.2,120.63 L398.6,120.63 L399,120.64 L399.4,120.64 L399.8,120.64 L400.2,120.65 L400.6,120.65 L401,120.66 L401.4,120.66 L401.8,120.67 L402.2,120.67 L402.6,120.67 L403,120.68 L403.4,120.68 L403.8,120.68 L404.2,120.69 L404.6,120.69 L405,120.7 L405.4,120.7 L405.8,120.7 L406.2,120.71 L406.6,120.71 L407,120.71 L407.4,120.72 L407.8,120.72 L408.2,120.72 L408.6,120.72 L409,120.73 L409.4,120.73 L409.8,120.73 L410.2,120.74 L410.6,120.74 L411,120.74 L411.4,120.74 L411.8,120.75 L412.2,120.75 L412.6,120.75 L413,120.75 L413.4,120.76 L413.8,120.76 L414.2,120.76 L414.6,120.76 L415,120.77 L415.4,120.77 L415.8,120.77 L416.2,120.77 L416.6,120.78 L417,120.78 L417.4,120.78 L417.8,120.78 L418.2,120.78 L418.6,120.79 L419,120.79 L419.4,120.79 L419.8,120.79 L420.2,120.79 L420.6,120.8 L421,120.8 L421.4,120.8 L421.8,120.8 L422.2,120.8 L422.6,120.81 L423,120.81 L423.4,120.81 L423.8,120.81 L424.2,120.81 L424.6,120.81 L425,120.82 L425.4,120.82 L425.8,120.82 L426.2,120.82 L426.6,120.82 L427,120.82 L427.4,120.83 L427.8,120.83 L428.2,120.83 L428.6,120.83 L429,120.83 L429.4,120.83 L429.8,120.83 L430.2,120.84 L430.6,120.84 L431,120.84 L431.4,120.84 L431.8,120.84 L432.2,120.84 L432.6,120.84 L433,120.84 L433.4,120.85 L433.8,120.85 L434.2,120.85 L434.6,120.85" fill="none" stroke="#333" stroke-width="0.7"/>
<path d="M325,120.85 L325.4,120.84 L325.8,120.83 L326.2,120.82 L326.6,120.81 L327,120.79 L327.4,120.78 L327.8,120.76 L328.2,120.73 L328.6,120.7 L329,120.66 L329.4,120.62 L329.8,120.57 L330.2,120.5 L330.6,120.42 L331,120.32 L331.4,120.21 L331.8,120.07 L332.2,119.91 L332.6,119.72 L333,119.5 L333.4,119.24 L333.8,118.94 L334.2,118.59 L334.6,118.2 L335,117.76 L335.4,117.26 L335.8,116.72 L336.2,116.11 L336.6,115.45 L337,114.74 L337.4,113.98 L337.8,113.18 L338.2,112.33 L338.6,111.46 L339,110.56 L339.4,109.65 L339.8,108.74 L340.2,107.85 L340.6,106.98 L341,106.16 L341.4,105.4 L341.8,104.71 L342.2,104.1 L342.6,103.6 L343,103.21 L343.4,102.95 L343.8,102.82 L344.2,102.82 L344.6,102.95 L345,103.21 L345.4,103.6 L345.8,104.1 L346.2,104.71 L346.6,105.4 L347,106.16 L347.4,106.98 L347.8,107.85 L348.2,108.74 L348.6,109.65 L349,110.56 L349.4,111.46 L349.8,112.33 L350.2,113.18 L350.6,113.98 L351,114.74 L351.4,115.45 L351.8,116.11 L352.2,116.72 L352.6,117.26 L353,117.76 L353.4,118.2 L353.8,118.59 L354.2,118.94 L354.6,119.24 L355,119.5 L355.4,119.72 L355.8,119.91 L356.2,120.07 L356.6,120.21 L357,120.32 L357.4,120.42 L357.8,120.5 L358.2,120.57 L358.6,120.62 L359,120.66 L359.4,120.7 L359.8,120.73 L360.2,120.76 L360.6,120.78 L361,120.79 L361.4,120.81 L361.8,120.82 L362.2,120.83 L362.6,120.84 L363,120.85" fill="none" stroke="#333" stroke-width="0.7"/>
<path d="M385,120.85 L385.4,120.84 L385.8,120.83 L386.2,120.82 L386.6,120.81 L387,120.79 L387.4,120.78 L387.8,120.76 L388.2,120.73 L388.6,120.7 L389,120.66 L389.4,120.61 L389.8,120.53 L390.2,120.44 L390.6,120.32 L391,120.16 L391.4,119.96 L391.8,119.7 L392.2,119.37 L392.6,118.95 L393,118.44 L393.4,117.82 L393.8,117.08 L394.2,116.21 L394.6,115.2 L395,114.04 L395.4,112.75 L395.8,111.33 L396.2,109.8 L396.6,108.18 L397,106.52 L397.4,104.84 L397.8,103.2 L398.2,101.64 L398.6,100.23 L399,99.02 L399.4,98.06 L399.8,97.39 L400.2,97.04 L400.6,97.04 L401,97.39 L401.4,98.06 L401.8,99.02 L402.2,100.23 L402.6,101.64 L403,103.2 L403.4,104.84 L403.8,106.52 L404.2,108.18 L404.6,109.8 L405,111.33 L405.4,112.75 L405.8,114.04 L406.2,115.2 L406.6,116.21 L407,117.08 L407.4,117.82 L407.8,118.44 L408.2,118.95 L408.6,119.37 L409,119.7 L409.4,119.96 L409.8,120.16 L410.2,120.32 L410.6,120.44 L411,120.53 L411.4,120.61 L411.8,120.66 L412.2,120.7 L412.6,120.73 L413,120.76 L413.4,120.78 L413.8,120.79 L414.2,120.81 L414.6,120.82 L415,120.83 L415.4,120.84 L415.8,120.85" fill="none" stroke="#333" stroke-width="0.7"/>
<path d="M396.2,120.84 L396.6,120.82 L397,120.8 L397.4,120.77 L397.8,120.73 L398.2,120.68 L398.6,120.62 L399,120.53 L399.4,120.42 L399.8,120.27 L400.2,120.09 L400.6,119.86 L401,119.57 L401.4,119.22 L401.8,118.79 L402.2,118.29 L402.6,117.7 L403,117.02 L403.4,116.26 L403.8,115.41 L404.2,114.49 L404.6,113.5 L405,112.47 L405.4,111.42 L405.8,110.38 L406.2,109.38 L406.6,108.45 L407,107.62 L407.4,106.94 L407.8,106.43 L408.2,106.11 L408.6,106 L409,106.11 L409.4,106.43 L409.8,106.94 L410.2,107.62 L410.6,108.45 L411,109.38 L411.4,110.38 L411.8,111.42 L412.2,112.47 L412.6,113.5 L413,114.49 L413.4,115.41 L413.8,116.26 L414.2,117.02 L414.6,117.7 L415,118.29 L415.4,118.79 L415.8,119.22 L416.2,119.57 L416.6,119.86 L417,120.09 L417.4,120.27 L417.8,120.42 L418.2,120.53 L418.6,120.62 L419,120.68 L419.4,120.73 L419.8,120.77 L420.2,120.8 L420.6,120.82 L421,120.84" fill="none" stroke="#333" stroke-width="0.7"/>
<path d="M413,120.84 L413.4,120.74 L413.8,120.59 L414.2,120.38 L414.6,120.08 L415,119.69 L415.4,119.18 L415.8,118.55 L416.2,117.8 L416.6,116.95 L417,116.03 L417.4,115.08 L417.8,114.16 L418.2,113.34 L418.6,112.67 L419,112.21 L419.4,112.01 L419.8,112.08 L420.2,112.41 L420.6,112.98 L421,113.73 L421.4,114.61 L421.8,115.56 L422.2,116.5 L422.6,117.39 L423,118.19 L423.4,118.88 L423.8,119.45 L424.2,119.9 L424.6,120.24 L425,120.49 L425.4,120.67 L425.8,120.79" fill="none" stroke="#333" stroke-width="0.7"/>
<path d="M429.8,120.84 L430.2,120.83 L430.6,120.81 L431,120.78 L431.4,120.76 L431.8,120.72 L432.2,120.68 L432.6,120.62 L433,120.55 L433.4,120.47 L433.8,120.36 L434.2,120.24 L434.6,120.09 L435,119.91 L435.4,119.69 L435.8,119.44 L436.2,119.15 L436.6,118.81 L437,118.42 L437.4,117.99 L437.8,117.5 L438.2,116.96 L438.6,116.37 L439,115.73 L439.4,115.05 L439.8,114.33 L440.2,113.59 L440.6,112.83 L441,112.06 L441.4,111.3 L441.8,110.56 L442.2,109.87 L442.6,109.22 L443,108.65 L443.4,108.16 L443.8,107.77 L444.2,107.49 L444.6,107.34 L445,107.3 L445.4,107.4 L445.8,107.62 L446.2,107.95 L446.6,108.39 L447,108.92 L447.4,109.54 L447.8,110.21 L448.2,110.93 L448.6,111.68 L449,112.44 L449.4,113.21 L449.8,113.96 L450.2,114.7 L450.6,115.4 L451,116.05 L451.4,116.67 L451.8,117.23 L452.2,117.75 L452.6,118.21 L453,118.62 L453.4,118.98 L453.8,119.3 L454.2,119.57 L454.6,119.8 L455,120 L455.4,120.17 L455.8,120.3 L456.2,120.42 L456.6,120.51 L457,120.59 L457.4,120.65 L457.8,120.7 L458.2,120.74 L458.6,120.77 L459,120.8 L459.4,120.82 L459.8,120.84 L460.2,120.85" fill="none" stroke="#333" stroke-width="0.7"/>
<path d="M433.8,120.85 L434.2,120.84 L434.6,120.84 L435,120.83 L435.4,120.82 L435.8,120.82 L436.2,120.81 L436.6,120.8 L437,120.79 L437.4,120.77 L437.8,120.76 L438.2,120.74 L438.6,120.73 L439,120.7 L439.4,120.67 L439.8,120.64 L440.2,120.6 L440.6,120.55 L441,120.49 L441.4,120.42 L441.8,120.33 L442.2,120.22 L442.6,120.09 L443,119.93 L443.4,119.75 L443.8,119.52 L444.2,119.26 L444.6,118.95 L445,118.59 L445.4,118.17 L445.8,117.69 L446.2,117.14 L446.6,116.52 L447,115.82 L447.4,115.05 L447.8,114.21 L448.2,113.28 L448.6,112.28 L449,111.22 L449.4,110.09 L449.8,108.9 L450.2,107.68 L450.6,106.43 L451,105.16 L451.4,103.91 L451.8,102.68 L452.2,101.5 L452.6,100.38 L453,99.36 L453.4,98.44 L453.8,97.67 L454.2,97.04 L454.6,96.58 L455,96.29 L455.4,96.2 L455.8,96.29 L456.2,96.58 L456.6,97.04 L457,97.67 L457.4,98.44 L457.8,99.36 L458.2,100.38 L458.6,101.5 L459,102.68 L459.4,103.91 L459.8,105.16 L460.2,106.43 L460.6,107.68 L461,108.9 L461.4,110.09 L461.8,111.22 L462.2,112.28 L462.6,113.28 L463,114.21 L463.4,115.05 L463.8,115.82 L464.2,116.52 L464.6,117.14 L465,117.69 L465.4,118.17 L465.8,118.59 L466.2,118.95 L466.6,119.26 L467,119.52 L467.4,119.75 L467.8,119.93 L468.2,120.09 L468.6,120.22 L469,120.33 L469.4,120.42 L469.8,120.49 L470.2,120.55 L470.6,120.6 L471,120.64 L471.4,120.67 L471.8,120.7 L472.2,120.73 L472.6,120.74 L473,120.76 L473.4,120.77 L473.8,120.79 L474.2,120.8 L474.6,120.81 L475,120.82 L475.4,120.82 L475.8,120.83 L476.2,120.84 L476.6,120.84" fill="none" stroke="#333" stroke-width="0.7"/>
<path d="M444.6,120.85 L445,120.84 L445.4,120.84 L445.8,120.83 L446.2,120.83 L446.6,120.82 L447,120.81 L447.4,120.81 L447.8,120.8 L448.2,120.79 L448.6,120.78 L449,120.77 L449.4,120.76 L449.8,120.75 L450.2,120.74 L450.6,120.73 L451,120.71 L451.4,120.7 L451.8,120.68 L452.2,120.66 L452.6,120.64 L453,120.62 L453.4,120.59 L453.8,120.56 L454.2,120.51 L454.6,120.46 L455,120.39 L455.4,120.3 L455.8,120.19 L456.2,120.04 L456.6,119.85 L457,119.61 L457.4,119.3 L457.8,118.9 L458.2,118.4 L458.6,117.77 L459,117 L459.4,116.06 L459.8,114.93 L460.2,113.6 L460.6,112.04 L461,110.24 L461.4,108.2 L461.8,105.93 L462.2,103.45 L462.6,100.76 L463,97.93 L463.4,94.99 L463.8,92.01 L464.2,89.06 L464.6,86.23 L465,83.59 L465.4,81.25 L465.8,79.28 L466.2,77.76 L466.6,76.76 L467,76.32 L467.4,76.46 L467.8,77.19 L468.2,78.45 L468.6,80.21 L469,82.38 L469.4,84.88 L469.8,87.63 L470.2,90.53 L470.6,93.5 L471,96.47 L471.4,99.36 L471.8,102.13 L472.2,104.72 L472.6,107.1 L473,109.25 L473.4,111.17 L473.8,112.84 L474.2,114.29 L474.6,115.52 L475,116.55 L475.4,117.4 L475.8,118.1 L476.2,118.66 L476.6,119.11" fill="none" stroke="#333" stroke-width="0.7"/>
<path d="M437.4,120.85 L437.8,120.83 L438.2,120.82 L438.6,120.8 L439,120.78 L439.4,120.76 L439.8,120.73 L440.2,120.71 L440.6,120.68 L441,120.65 L441.4,120.62 L441.8,120.58 L442.2,120.55 L442.6,120.51 L443,120.46 L443.4,120.42 L443.8,120.37 L444.2,120.31 L444.6,120.25 L445,120.19 L445.4,120.12 L445.8,120.05 L446.2,119.97 L446.6,119.89 L447,119.8 L447.4,119.71 L447.8,119.61 L448.2,119.5 L448.6,119.39 L449,119.27 L449.4,119.14 L449.8,119.01 L450.2,118.86 L450.6,118.71 L451,118.55 L451.4,118.39 L451.8,118.21 L452.2,118.02 L452.6,117.82 L453,117.61 L453.4,117.4 L453.8,117.17 L454.2,116.93 L454.6,116.68 L455,116.42 L455.4,116.14 L455.8,115.86 L456.2,115.56 L456.6,115.25 L457,114.92 L457.4,114.59 L457.8,114.24 L458.2,113.88 L458.6,113.51 L459,113.12 L459.4,112.72 L459.8,112.31 L460.2,111.89 L460.6,111.45 L461,111 L461.4,110.54 L461.8,110.07 L462.2,109.58 L462.6,109.09 L463,108.58 L463.4,108.07 L463.8,107.54 L464.2,107.01 L464.6,106.46 L465,105.91 L465.4,105.35 L465.8,104.79 L466.2,104.21 L466.6,103.64 L467,103.06 L467.4,102.47 L467.8,101.88 L468.2,101.3 L468.6,100.71 L469,100.12 L469.4,99.53 L469.8,98.95 L470.2,98.36 L470.6,97.79 L471,97.22 L471.4,96.66 L471.8,96.1 L472.2,95.56 L472.6,95.02 L473,94.5 L473.4,93.99 L473.8,93.49 L474.2,93.01 L474.6,92.55 L475,92.1 L475.4,91.67 L475.8,91.26 L476.2,90.87 L476.6,90.51" fill="none" stroke="#333" stroke-width="0.7"/>
<line x1="335.4" y1="11.5" x2="335.4" y2="123.4" stroke="#b0b0b0" stroke-width="0.9" stroke-dasharray="2,2"/>
<line x1="343.9" y1="11.5" x2="343.9" y2="123.4" stroke="#b0b0b0" stroke-width="0.9" stroke-dasharray="2,2"/>
<line x1="399.8" y1="11.5" x2="399.8" y2="123.4" stroke="#b0b0b0" stroke-width="0.9" stroke-dasharray="2,2"/>
<line x1="419.9" y1="11.5" x2="419.9" y2="123.4" stroke="#b0b0b0" stroke-width="0.9" stroke-dasharray="2,2"/>
<line x1="373.5" y1="11.5" x2="373.5" y2="123.4" stroke="#ff33ff" stroke-width="1.3" stroke-dasharray="2,1.8"/>
<line x1="383.7" y1="11.5" x2="383.7" y2="123.4" stroke="#ff33ff" stroke-width="1.3" stroke-dasharray="2,1.8"/>
<line x1="390.5" y1="11.5" x2="390.5" y2="123.4" stroke="#ff33ff" stroke-width="1.3" stroke-dasharray="2,1.8"/>
<line x1="322.6" y1="121" x2="476.7" y2="121" stroke="#111" stroke-width="1.6"/>
<path d="M322.6,104.5 C323.3,100.92 325.47,91.68 326.8,83 C328.13,74.32 329.57,60.23 330.6,52.4 C331.63,44.57 332.2,39.97 333,36 C333.8,32.03 334.65,29.1 335.4,28.6 C336.15,28.1 336.87,30.3 337.5,33 C338.13,35.7 338.28,37.42 339.2,44.8 C340.12,52.18 341.87,69.43 343,77.3 C344.13,85.17 345.05,88.18 346,92 C346.95,95.82 347.7,98.03 348.7,100.2 C349.7,102.37 350.88,103.95 352,105 C353.12,106.05 354.32,106.83 355.4,106.5 C356.48,106.17 357.38,104.7 358.5,103 C359.62,101.3 360.93,98.97 362.1,96.3 C363.27,93.63 364.38,90.17 365.5,87 C366.62,83.83 367.47,80.03 368.8,77.3 C370.13,74.57 371.9,72.42 373.5,70.6 C375.1,68.78 376.75,67.9 378.4,66.4 C380.05,64.9 381.77,61.62 383.4,61.6 C385.03,61.58 386.62,64.27 388.2,66.3 C389.78,68.33 391.32,71.87 392.9,73.8 C394.48,75.73 396.1,76.3 397.7,77.9 C399.3,79.5 401.02,81.23 402.5,83.4 C403.98,85.57 405.47,88.75 406.6,90.9 C407.73,93.05 408.4,94.03 409.3,96.3 C410.2,98.57 411.1,101.97 412,104.5 C412.9,107.03 413.78,110.37 414.7,111.5 C415.62,112.63 416.7,111.45 417.5,111.3 C418.3,111.15 418.72,109.95 419.5,110.6 C420.28,111.25 421.07,114.07 422.2,115.2 C423.33,116.33 424.7,117.3 426.3,117.4 C427.9,117.5 429.9,116.7 431.8,115.8 C433.7,114.9 436,113.62 437.7,112 C439.4,110.38 440.55,108.28 442,106.1 C443.45,103.92 444.7,101.08 446.4,98.9 C448.1,96.72 450.27,95.43 452.2,93 C454.13,90.57 456.3,87.93 458,84.3 C459.7,80.67 460.88,75.45 462.4,71.2 C463.92,66.95 465.65,59.28 467.1,58.8 C468.55,58.32 469.95,64.78 471.1,68.3 C472.25,71.82 473.07,76.98 474,79.9 C474.93,82.82 476.25,84.82 476.7,85.8" fill="none" stroke="#ff2020" stroke-width="1.3"/>
<path d="M322.6,21.22 L323.6,21.51 L324.6,21.68 L325.6,21.7 L326.6,21.63 L327.6,21.59 L328.6,21.64 L329.6,21.73 L330.6,21.74 L331.6,21.61 L332.6,21.4 L333.6,21.25 L334.6,21.28 L335.6,21.49 L336.6,21.74 L337.6,21.86 L338.6,21.76 L339.6,21.5 L340.6,21.23 L341.6,21.11 L342.6,21.16 L343.6,21.29 L344.6,21.38 L345.6,21.4 L346.6,21.38 L347.6,21.46 L348.6,21.65 L349.6,21.9 L350.6,22.04 L351.6,21.97 L352.6,21.69 L353.6,21.37 L354.6,21.18 L355.6,21.2 L356.6,21.37 L357.6,21.55 L358.6,21.61 L359.6,21.53 L360.6,21.42 L361.6,21.38 L362.6,21.45 L363.6,21.53 L364.6,21.53 L365.6,21.39 L366.6,21.22 L367.6,21.14 L368.6,21.28 L369.6,21.58 L370.6,21.91 L371.6,22.06 L372.6,21.99 L373.6,21.75 L374.6,21.51 L375.6,21.39 L376.6,21.38 L377.6,21.41 L378.6,21.36 L379.6,21.25 L380.6,21.16 L381.6,21.2 L382.6,21.4 L383.6,21.66 L384.6,21.81 L385.6,21.75 L386.6,21.52 L387.6,21.28 L388.6,21.19 L389.6,21.3 L390.6,21.54 L391.6,21.74 L392.6,21.8 L393.6,21.73 L394.6,21.65 L395.6,21.63 L396.6,21.68 L397.6,21.7 L398.6,21.58 L399.6,21.32 L400.6,21.05 L401.6,20.91 L402.6,21.02 L403.6,21.32 L404.6,21.63 L405.6,21.8 L406.6,21.76 L407.6,21.62 L408.6,21.5 L409.6,21.5 L410.6,21.58 L411.6,21.64 L412.6,21.59 L413.6,21.45 L414.6,21.36 L415.6,21.41 L416.6,21.6 L417.6,21.81 L418.6,21.87 L419.6,21.71 L420.6,21.4 L421.6,21.1 L422.6,20.99 L423.6,21.08 L424.6,21.29 L425.6,21.46 L426.6,21.53 L427.6,21.53 L428.6,21.56 L429.6,21.68 L430.6,21.85 L431.6,21.94 L432.6,21.84 L433.6,21.58 L434.6,21.29 L435.6,21.15 L436.6,21.24 L437.6,21.47 L438.6,21.68 L439.6,21.74 L440.6,21.62 L441.6,21.43 L442.6,21.31 L443.6,21.31 L444.6,21.38 L445.6,21.41 L446.6,21.35 L447.6,21.24 L448.6,21.23 L449.6,21.4 L450.6,21.7 L451.6,21.99 L452.6,22.1 L453.6,21.96 L454.6,21.66 L455.6,21.38 L456.6,21.26 L457.6,21.29 L458.6,21.39 L459.6,21.43 L460.6,21.38 L461.6,21.3 L462.6,21.32 L463.6,21.45 L464.6,21.64 L465.6,21.73 L466.6,21.63 L467.6,21.4 L468.6,21.18 L469.6,21.14 L470.6,21.32 L471.6,21.62 L472.6,21.86 L473.6,21.93 L474.6,21.83 L475.6,21.68 L476.6,21.58" fill="none" stroke="#4848ff" stroke-width="1.2"/>
</g>
<line x1="319.6" y1="21.5" x2="322.6" y2="21.5" stroke="#6e6e6e" stroke-width="1"/>
<text x="319.6" y="26.8" font-size="12.9" text-anchor="end">1.0x10<tspan font-size="7" dy="-7.3">-3</tspan></text>
<line x1="319.6" y1="41.5" x2="322.6" y2="41.5" stroke="#6e6e6e" stroke-width="1"/>
<text x="319.6" y="46.8" font-size="12.9" text-anchor="end">8.0x10<tspan font-size="7" dy="-7.3">-4</tspan></text>
<line x1="319.6" y1="61.5" x2="322.6" y2="61.5" stroke="#6e6e6e" stroke-width="1"/>
<text x="319.6" y="66.8" font-size="12.9" text-anchor="end">6.0x10<tspan font-size="7" dy="-7.3">-4</tspan></text>
<line x1="319.6" y1="81.5" x2="322.6" y2="81.5" stroke="#6e6e6e" stroke-width="1"/>
<text x="319.6" y="86.8" font-size="12.9" text-anchor="end">4.0x10<tspan font-size="7" dy="-7.3">-4</tspan></text>
<line x1="319.6" y1="101.5" x2="322.6" y2="101.5" stroke="#6e6e6e" stroke-width="1"/>
<text x="319.6" y="106.8" font-size="12.9" text-anchor="end">2.0x10<tspan font-size="7" dy="-7.3">-4</tspan></text>
<line x1="319.6" y1="121.3" x2="322.6" y2="121.3" stroke="#6e6e6e" stroke-width="1"/>
<text x="319.6" y="126.6" font-size="12.9" text-anchor="end">0.0</text>
<line x1="320.6" y1="31.5" x2="322.6" y2="31.5" stroke="#6e6e6e" stroke-width="1"/>
<line x1="320.6" y1="51.5" x2="322.6" y2="51.5" stroke="#6e6e6e" stroke-width="1"/>
<line x1="320.6" y1="71.5" x2="322.6" y2="71.5" stroke="#6e6e6e" stroke-width="1"/>
<line x1="320.6" y1="91.5" x2="322.6" y2="91.5" stroke="#6e6e6e" stroke-width="1"/>
<line x1="320.6" y1="111.5" x2="322.6" y2="111.5" stroke="#6e6e6e" stroke-width="1"/>
<clipPath id="clipBB"><rect x="322.6" y="123.4" width="154.1" height="113.8"/></clipPath>
<g clip-path="url(#clipBB)">
<path d="M363.4,236.85 L363.8,236.84 L364.2,236.84 L364.6,236.83 L365,236.83 L365.4,236.82 L365.8,236.82 L366.2,236.81 L366.6,236.81 L367,236.8 L367.4,236.79 L367.8,236.78 L368.2,236.77 L368.6,236.76 L369,236.75 L369.4,236.73 L369.8,236.72 L370.2,236.7 L370.6,236.67 L371,236.65 L371.4,236.61 L371.8,236.57 L372.2,236.52 L372.6,236.47 L373,236.4 L373.4,236.31 L373.8,236.21 L374.2,236.09 L374.6,235.94 L375,235.77 L375.4,235.56 L375.8,235.31 L376.2,235.02 L376.6,234.68 L377,234.28 L377.4,233.82 L377.8,233.29 L378.2,232.67 L378.6,231.97 L379,231.17 L379.4,230.27 L379.8,229.26 L380.2,228.13 L380.6,226.88 L381,225.5 L381.4,223.99 L381.8,222.34 L382.2,220.57 L382.6,218.66 L383,216.64 L383.4,214.49 L383.8,212.24 L384.2,209.9 L384.6,207.49 L385,205.02 L385.4,202.52 L385.8,200 L386.2,197.5 L386.6,195.05 L387,192.67 L387.4,190.4 L387.8,188.26 L388.2,186.28 L388.6,184.5 L389,182.94 L389.4,181.62 L389.8,180.58 L390.2,179.82 L390.6,179.35 L391,179.2 L391.4,179.28 L391.8,179.51 L392.2,179.89 L392.6,180.42 L393,181.1 L393.4,181.91 L393.8,182.86 L394.2,183.93 L394.6,185.11 L395,186.4 L395.4,187.79 L395.8,189.26 L396.2,190.81 L396.6,192.42 L397,194.08 L397.4,195.79 L397.8,197.53 L398.2,199.29 L398.6,201.07 L399,202.84 L399.4,204.61 L399.8,206.37 L400.2,208.1 L400.6,209.8 L401,211.47 L401.4,213.09 L401.8,214.66 L402.2,216.18 L402.6,217.64 L403,219.05 L403.4,220.39 L403.8,221.66 L404.2,222.87 L404.6,224.02 L405,225.1 L405.4,226.11 L405.8,227.06 L406.2,227.95 L406.6,228.77 L407,229.53 L407.4,230.24 L407.8,230.89 L408.2,231.49 L408.6,232.04 L409,232.53 L409.4,232.99 L409.8,233.4 L410.2,233.78 L410.6,234.12 L411,234.42 L411.4,234.69 L411.8,234.94 L412.2,235.16 L412.6,235.35 L413,235.53 L413.4,235.68 L413.8,235.82 L414.2,235.94 L414.6,236.04 L415,236.14 L415.4,236.22 L415.8,236.29 L416.2,236.36 L416.6,236.41 L417,236.46 L417.4,236.5 L417.8,236.54 L418.2,236.57 L418.6,236.6 L419,236.63 L419.4,236.65 L419.8,236.67 L420.2,236.69 L420.6,236.7 L421,236.72 L421.4,236.73 L421.8,236.74 L422.2,236.75 L422.6,236.76 L423,236.77 L423.4,236.77 L423.8,236.78 L424.2,236.79 L424.6,236.79 L425,236.8 L425.4,236.8 L425.8,236.81 L426.2,236.81 L426.6,236.82 L427,236.82 L427.4,236.83 L427.8,236.83 L428.2,236.83 L428.6,236.84 L429,236.84 L429.4,236.84 L429.8,236.85 L430.2,236.85 L430.2,237 L363.4,237 Z" fill="#ff0000" stroke="none"/>
<path d="M339.8,236.85 L340.2,236.84 L340.6,236.84 L341,236.83 L341.4,236.83 L341.8,236.82 L342.2,236.81 L342.6,236.8 L343,236.79 L343.4,236.78 L343.8,236.77 L344.2,236.75 L344.6,236.73 L345,236.71 L345.4,236.69 L345.8,236.66 L346.2,236.63 L346.6,236.59 L347,236.55 L347.4,236.5 L347.8,236.45 L348.2,236.38 L348.6,236.31 L349,236.23 L349.4,236.13 L349.8,236.03 L350.2,235.9 L350.6,235.76 L351,235.6 L351.4,235.43 L351.8,235.22 L352.2,235 L352.6,234.74 L353,234.46 L353.4,234.14 L353.8,233.78 L354.2,233.39 L354.6,232.95 L355,232.47 L355.4,231.94 L355.8,231.36 L356.2,230.72 L356.6,230.02 L357,229.27 L357.4,228.44 L357.8,227.55 L358.2,226.6 L358.6,225.57 L359,224.46 L359.4,223.28 L359.8,222.03 L360.2,220.69 L360.6,219.28 L361,217.8 L361.4,216.24 L361.8,214.61 L362.2,212.91 L362.6,211.14 L363,209.31 L363.4,207.42 L363.8,205.48 L364.2,203.5 L364.6,201.48 L365,199.44 L365.4,197.37 L365.8,195.3 L366.2,193.22 L366.6,191.16 L367,189.12 L367.4,187.12 L367.8,185.16 L368.2,183.26 L368.6,181.43 L369,179.69 L369.4,178.04 L369.8,176.5 L370.2,175.08 L370.6,173.78 L371,172.63 L371.4,171.62 L371.8,170.76 L372.2,170.07 L372.6,169.55 L373,169.2 L373.4,169.02 L373.8,169.02 L374.2,169.2 L374.6,169.55 L375,170.07 L375.4,170.76 L375.8,171.62 L376.2,172.63 L376.6,173.78 L377,175.08 L377.4,176.5 L377.8,178.04 L378.2,179.69 L378.6,181.43 L379,183.26 L379.4,185.16 L379.8,187.12 L380.2,189.12 L380.6,191.16 L381,193.22 L381.4,195.3 L381.8,197.37 L382.2,199.44 L382.6,201.48 L383,203.5 L383.4,205.48 L383.8,207.42 L384.2,209.31 L384.6,211.14 L385,212.91 L385.4,214.61 L385.8,216.24 L386.2,217.8 L386.6,219.28 L387,220.69 L387.4,222.03 L387.8,223.28 L388.2,224.46 L388.6,225.57 L389,226.6 L389.4,227.55 L389.8,228.44 L390.2,229.27 L390.6,230.02 L391,230.72 L391.4,231.36 L391.8,231.94 L392.2,232.47 L392.6,232.95 L393,233.39 L393.4,233.78 L393.8,234.14 L394.2,234.46 L394.6,234.74 L395,235 L395.4,235.22 L395.8,235.43 L396.2,235.6 L396.6,235.76 L397,235.9 L397.4,236.03 L397.8,236.13 L398.2,236.23 L398.6,236.31 L399,236.38 L399.4,236.45 L399.8,236.5 L400.2,236.55 L400.6,236.59 L401,236.63 L401.4,236.66 L401.8,236.69 L402.2,236.71 L402.6,236.73 L403,236.75 L403.4,236.77 L403.8,236.78 L404.2,236.79 L404.6,236.8 L405,236.81 L405.4,236.82 L405.8,236.83 L406.2,236.83 L406.6,236.84 L407,236.84 L407.4,236.85 L407.4,237 L339.8,237 Z" fill="#c3c3c3" stroke="none"/>
<path d="M369.8,236.83 L370.2,236.78 L370.6,236.73 L371,236.68 L371.4,236.61 L371.8,236.53 L372.2,236.43 L372.6,236.32 L373,236.2 L373.4,236.05 L373.8,235.89 L374.2,235.71 L374.6,235.51 L375,235.29 L375.4,235.05 L375.8,234.78 L376.2,234.5 L376.6,234.2 L377,233.88 L377.4,233.55 L377.8,233.2 L378.2,232.84 L378.6,232.48 L379,232.12 L379.4,231.76 L379.8,231.42 L380.2,231.08 L380.6,230.76 L381,230.46 L381.4,230.2 L381.8,229.96 L382.2,229.77 L382.6,229.61 L383,229.49 L383.4,229.42 L383.8,229.4 L384.2,229.42 L384.6,229.49 L385,229.61 L385.4,229.77 L385.8,229.96 L386.2,230.2 L386.6,230.46 L387,230.76 L387.4,231.08 L387.8,231.42 L388.2,231.76 L388.6,232.12 L389,232.48 L389.4,232.84 L389.8,233.2 L390.2,233.55 L390.6,233.88 L391,234.2 L391.4,234.5 L391.8,234.78 L392.2,235.05 L392.6,235.29 L393,235.51 L393.4,235.71 L393.8,235.89 L394.2,236.05 L394.6,236.2 L395,236.32 L395.4,236.43 L395.8,236.52 L396.2,236.61 L396.6,236.68 L397,236.73 L397.4,236.78 L397.8,236.83 L397.8,237 L369.8,237 Z" fill="#0000ff" stroke="none"/>
<path d="M363.4,236.85 L363.8,236.84 L364.2,236.84 L364.6,236.83 L365,236.83 L365.4,236.82 L365.8,236.82 L366.2,236.81 L366.6,236.81 L367,236.8 L367.4,236.79 L367.8,236.78 L368.2,236.77 L368.6,236.76 L369,236.75 L369.4,236.73 L369.8,236.72 L370.2,236.7 L370.6,236.67 L371,236.65 L371.4,236.61 L371.8,236.57 L372.2,236.52 L372.6,236.47 L373,236.4 L373.4,236.31 L373.8,236.21 L374.2,236.09 L374.6,235.94 L375,235.77 L375.4,235.56 L375.8,235.31 L376.2,235.02 L376.6,234.68 L377,234.28 L377.4,233.82 L377.8,233.29 L378.2,232.67 L378.6,231.97 L379,231.17 L379.4,230.27 L379.8,229.26 L380.2,228.13 L380.6,226.88 L381,225.5 L381.4,223.99 L381.8,222.34 L382.2,220.57 L382.6,218.66 L383,216.64 L383.4,214.49 L383.8,212.24 L384.2,209.9 L384.6,207.49 L385,205.02 L385.4,202.52 L385.8,200 L386.2,197.5 L386.6,195.05 L387,192.67 L387.4,190.4 L387.8,188.26 L388.2,186.28 L388.6,184.5 L389,182.94 L389.4,181.62 L389.8,180.58 L390.2,179.82 L390.6,179.35 L391,179.2 L391.4,179.28 L391.8,179.51 L392.2,179.89 L392.6,180.42 L393,181.1 L393.4,181.91 L393.8,182.86 L394.2,183.93 L394.6,185.11 L395,186.4 L395.4,187.79 L395.8,189.26 L396.2,190.81 L396.6,192.42 L397,194.08 L397.4,195.79 L397.8,197.53 L398.2,199.29 L398.6,201.07 L399,202.84 L399.4,204.61 L399.8,206.37 L400.2,208.1 L400.6,209.8 L401,211.47 L401.4,213.09 L401.8,214.66 L402.2,216.18 L402.6,217.64 L403,219.05 L403.4,220.39 L403.8,221.66 L404.2,222.87 L404.6,224.02 L405,225.1 L405.4,226.11 L405.8,227.06 L406.2,227.95 L406.6,228.77 L407,229.53 L407.4,230.24 L407.8,230.89 L408.2,231.49 L408.6,232.04 L409,232.53 L409.4,232.99 L409.8,233.4 L410.2,233.78 L410.6,234.12 L411,234.42 L411.4,234.69 L411.8,234.94 L412.2,235.16 L412.6,235.35 L413,235.53 L413.4,235.68 L413.8,235.82 L414.2,235.94 L414.6,236.04 L415,236.14 L415.4,236.22 L415.8,236.29 L416.2,236.36 L416.6,236.41 L417,236.46 L417.4,236.5 L417.8,236.54 L418.2,236.57 L418.6,236.6 L419,236.63 L419.4,236.65 L419.8,236.67 L420.2,236.69 L420.6,236.7 L421,236.72 L421.4,236.73 L421.8,236.74 L422.2,236.75 L422.6,236.76 L423,236.77 L423.4,236.77 L423.8,236.78 L424.2,236.79 L424.6,236.79 L425,236.8 L425.4,236.8 L425.8,236.81 L426.2,236.81 L426.6,236.82 L427,236.82 L427.4,236.83 L427.8,236.83 L428.2,236.83 L428.6,236.84 L429,236.84 L429.4,236.84 L429.8,236.85 L430.2,236.85" fill="none" stroke="#222" stroke-width="0.7"/>
<path d="M339.8,236.85 L340.2,236.84 L340.6,236.84 L341,236.83 L341.4,236.83 L341.8,236.82 L342.2,236.81 L342.6,236.8 L343,236.79 L343.4,236.78 L343.8,236.77 L344.2,236.75 L344.6,236.73 L345,236.71 L345.4,236.69 L345.8,236.66 L346.2,236.63 L346.6,236.59 L347,236.55 L347.4,236.5 L347.8,236.45 L348.2,236.38 L348.6,236.31 L349,236.23 L349.4,236.13 L349.8,236.03 L350.2,235.9 L350.6,235.76 L351,235.6 L351.4,235.43 L351.8,235.22 L352.2,235 L352.6,234.74 L353,234.46 L353.4,234.14 L353.8,233.78 L354.2,233.39 L354.6,232.95 L355,232.47 L355.4,231.94 L355.8,231.36 L356.2,230.72 L356.6,230.02 L357,229.27 L357.4,228.44 L357.8,227.55 L358.2,226.6 L358.6,225.57 L359,224.46 L359.4,223.28 L359.8,222.03 L360.2,220.69 L360.6,219.28 L361,217.8 L361.4,216.24 L361.8,214.61 L362.2,212.91 L362.6,211.14 L363,209.31 L363.4,207.42 L363.8,205.48 L364.2,203.5 L364.6,201.48 L365,199.44 L365.4,197.37 L365.8,195.3 L366.2,193.22 L366.6,191.16 L367,189.12 L367.4,187.12 L367.8,185.16 L368.2,183.26 L368.6,181.43 L369,179.69 L369.4,178.04 L369.8,176.5 L370.2,175.08 L370.6,173.78 L371,172.63 L371.4,171.62 L371.8,170.76 L372.2,170.07 L372.6,169.55 L373,169.2 L373.4,169.02 L373.8,169.02 L374.2,169.2 L374.6,169.55 L375,170.07 L375.4,170.76 L375.8,171.62 L376.2,172.63 L376.6,173.78 L377,175.08 L377.4,176.5 L377.8,178.04 L378.2,179.69 L378.6,181.43 L379,183.26 L379.4,185.16 L379.8,187.12 L380.2,189.12 L380.6,191.16 L381,193.22 L381.4,195.3 L381.8,197.37 L382.2,199.44 L382.6,201.48 L383,203.5 L383.4,205.48 L383.8,207.42 L384.2,209.31 L384.6,211.14 L385,212.91 L385.4,214.61 L385.8,216.24 L386.2,217.8 L386.6,219.28 L387,220.69 L387.4,222.03 L387.8,223.28 L388.2,224.46 L388.6,225.57 L389,226.6 L389.4,227.55 L389.8,228.44 L390.2,229.27 L390.6,230.02 L391,230.72 L391.4,231.36 L391.8,231.94 L392.2,232.47 L392.6,232.95 L393,233.39 L393.4,233.78 L393.8,234.14 L394.2,234.46 L394.6,234.74 L395,235 L395.4,235.22 L395.8,235.43 L396.2,235.6 L396.6,235.76 L397,235.9 L397.4,236.03 L397.8,236.13 L398.2,236.23 L398.6,236.31 L399,236.38 L399.4,236.45 L399.8,236.5 L400.2,236.55 L400.6,236.59 L401,236.63 L401.4,236.66 L401.8,236.69 L402.2,236.71 L402.6,236.73 L403,236.75 L403.4,236.77 L403.8,236.78 L404.2,236.79 L404.6,236.8 L405,236.81 L405.4,236.82 L405.8,236.83 L406.2,236.83 L406.6,236.84 L407,236.84 L407.4,236.85" fill="none" stroke="#222" stroke-width="0.7"/>
<path d="M369.8,236.83 L370.2,236.78 L370.6,236.73 L371,236.68 L371.4,236.61 L371.8,236.53 L372.2,236.43 L372.6,236.32 L373,236.2 L373.4,236.05 L373.8,235.89 L374.2,235.71 L374.6,235.51 L375,235.29 L375.4,235.05 L375.8,234.78 L376.2,234.5 L376.6,234.2 L377,233.88 L377.4,233.55 L377.8,233.2 L378.2,232.84 L378.6,232.48 L379,232.12 L379.4,231.76 L379.8,231.42 L380.2,231.08 L380.6,230.76 L381,230.46 L381.4,230.2 L381.8,229.96 L382.2,229.77 L382.6,229.61 L383,229.49 L383.4,229.42 L383.8,229.4 L384.2,229.42 L384.6,229.49 L385,229.61 L385.4,229.77 L385.8,229.96 L386.2,230.2 L386.6,230.46 L387,230.76 L387.4,231.08 L387.8,231.42 L388.2,231.76 L388.6,232.12 L389,232.48 L389.4,232.84 L389.8,233.2 L390.2,233.55 L390.6,233.88 L391,234.2 L391.4,234.5 L391.8,234.78 L392.2,235.05 L392.6,235.29 L393,235.51 L393.4,235.71 L393.8,235.89 L394.2,236.05 L394.6,236.2 L395,236.32 L395.4,236.43 L395.8,236.52 L396.2,236.61 L396.6,236.68 L397,236.73 L397.4,236.78 L397.8,236.83" fill="none" stroke="#222" stroke-width="0.7"/>
<path d="M322.6,236.61 L323,236.59 L323.4,236.57 L323.8,236.53 L324.2,236.5 L324.6,236.45 L325,236.4 L325.4,236.33 L325.8,236.24 L326.2,236.12 L326.6,235.97 L327,235.77 L327.4,235.51 L327.8,235.18 L328.2,234.75 L328.6,234.2 L329,233.51 L329.4,232.65 L329.8,231.59 L330.2,230.31 L330.6,228.77 L331,226.95 L331.4,224.84 L331.8,222.43 L332.2,219.72 L332.6,216.72 L333,213.46 L333.4,210 L333.8,206.39 L334.2,202.7 L334.6,199.04 L335,195.5 L335.4,192.2 L335.8,189.25 L336.2,186.76 L336.6,184.84 L337,183.58 L337.4,183.02 L337.8,183.21 L338.2,184.13 L338.6,185.73 L339,187.94 L339.4,190.68 L339.8,193.82 L340.2,197.25 L340.6,200.86 L341,204.55 L341.4,208.21 L341.8,211.75 L342.2,215.12 L342.6,218.25 L343,221.11 L343.4,223.67 L343.8,225.93 L344.2,227.89 L344.6,229.57 L345,230.98 L345.4,232.15 L345.8,233.1 L346.2,233.87 L346.6,234.49 L347,234.98 L347.4,235.36 L347.8,235.65 L348.2,235.88 L348.6,236.05 L349,236.18 L349.4,236.29 L349.8,236.37 L350.2,236.43 L350.6,236.48 L351,236.52 L351.4,236.55 L351.8,236.58 L352.2,236.6 L352.6,236.63 L353,236.64 L353.4,236.66 L353.8,236.68 L354.2,236.69 L354.6,236.71 L355,236.72 L355.4,236.73 L355.8,236.74 L356.2,236.75 L356.6,236.76 L357,236.77 L357.4,236.78 L357.8,236.79 L358.2,236.8 L358.6,236.8 L359,236.81 L359.4,236.82 L359.8,236.82 L360.2,236.83 L360.6,236.84 L361,236.84 L361.4,236.85" fill="none" stroke="#333" stroke-width="0.7"/>
<path d="M337.4,236.83 L337.8,236.74 L338.2,236.61 L338.6,236.43 L339,236.18 L339.4,235.85 L339.8,235.43 L340.2,234.9 L340.6,234.26 L341,233.52 L341.4,232.68 L341.8,231.77 L342.2,230.82 L342.6,229.88 L343,229 L343.4,228.22 L343.8,227.6 L344.2,227.19 L344.6,227.01 L345,227.07 L345.4,227.37 L345.8,227.89 L346.2,228.59 L346.6,229.43 L347,230.35 L347.4,231.3 L347.8,232.23 L348.2,233.11 L348.6,233.9 L349,234.59 L349.4,235.18 L349.8,235.65 L350.2,236.03 L350.6,236.32 L351,236.53 L351.4,236.68 L351.8,236.79" fill="none" stroke="#333" stroke-width="0.7"/>
<path d="M377.8,236.85 L378.2,236.84 L378.6,236.84 L379,236.83 L379.4,236.82 L379.8,236.82 L380.2,236.81 L380.6,236.8 L381,236.79 L381.4,236.78 L381.8,236.77 L382.2,236.76 L382.6,236.74 L383,236.72 L383.4,236.7 L383.8,236.67 L384.2,236.63 L384.6,236.6 L385,236.55 L385.4,236.49 L385.8,236.43 L386.2,236.35 L386.6,236.25 L387,236.14 L387.4,236.01 L387.8,235.85 L388.2,235.67 L388.6,235.45 L389,235.2 L389.4,234.91 L389.8,234.58 L390.2,234.2 L390.6,233.75 L391,233.25 L391.4,232.69 L391.8,232.05 L392.2,231.33 L392.6,230.53 L393,229.64 L393.4,228.66 L393.8,227.59 L394.2,226.42 L394.6,225.15 L395,223.78 L395.4,222.31 L395.8,220.76 L396.2,219.11 L396.6,217.38 L397,215.57 L397.4,213.7 L397.8,211.78 L398.2,209.82 L398.6,207.84 L399,205.86 L399.4,203.88 L399.8,201.94 L400.2,200.05 L400.6,198.24 L401,196.52 L401.4,194.92 L401.8,193.46 L402.2,192.16 L402.6,191.03 L403,190.09 L403.4,189.36 L403.8,188.85 L404.2,188.56 L404.6,188.51 L405,188.68 L405.4,189.08 L405.8,189.7 L406.2,190.54 L406.6,191.57 L407,192.79 L407.4,194.17 L407.8,195.71 L408.2,197.37 L408.6,199.14 L409,200.99 L409.4,202.91 L409.8,204.87 L410.2,206.85 L410.6,208.84 L411,210.81 L411.4,212.75 L411.8,214.65 L412.2,216.48 L412.6,218.25 L413,219.94 L413.4,221.55 L413.8,223.06 L414.2,224.48 L414.6,225.79 L415,227.01 L415.4,228.14 L415.8,229.16 L416.2,230.09 L416.6,230.94 L417,231.7 L417.4,232.37 L417.8,232.98 L418.2,233.51 L418.6,233.98 L419,234.39 L419.4,234.75 L419.8,235.06 L420.2,235.33 L420.6,235.57 L421,235.76 L421.4,235.93 L421.8,236.08 L422.2,236.2 L422.6,236.3 L423,236.39 L423.4,236.46 L423.8,236.52 L424.2,236.57 L424.6,236.62 L425,236.65 L425.4,236.68 L425.8,236.71 L426.2,236.73 L426.6,236.75 L427,236.76 L427.4,236.78 L427.8,236.79 L428.2,236.8 L428.6,236.81 L429,236.81 L429.4,236.82 L429.8,236.83 L430.2,236.83 L430.6,236.84 L431,236.84 L431.4,236.85" fill="none" stroke="#333" stroke-width="0.7"/>
<path d="M408.2,236.85 L408.6,236.78 L409,236.7 L409.4,236.59 L409.8,236.44 L410.2,236.26 L410.6,236.03 L411,235.74 L411.4,235.39 L411.8,234.96 L412.2,234.47 L412.6,233.89 L413,233.24 L413.4,232.51 L413.8,231.72 L414.2,230.87 L414.6,229.98 L415,229.08 L415.4,228.18 L415.8,227.31 L416.2,226.51 L416.6,225.79 L417,225.2 L417.4,224.74 L417.8,224.44 L418.2,224.31 L418.6,224.35 L419,224.57 L419.4,224.95 L419.8,225.48 L420.2,226.14 L420.6,226.9 L421,227.74 L421.4,228.62 L421.8,229.53 L422.2,230.43 L422.6,231.3 L423,232.12 L423.4,232.88 L423.8,233.57 L424.2,234.19 L424.6,234.72 L425,235.18 L425.4,235.57 L425.8,235.89 L426.2,236.15 L426.6,236.36 L427,236.52 L427.4,236.65 L427.8,236.75 L428.2,236.82" fill="none" stroke="#333" stroke-width="0.7"/>
<path d="M421.4,236.85 L421.8,236.83 L422.2,236.81 L422.6,236.79 L423,236.76 L423.4,236.74 L423.8,236.71 L424.2,236.68 L424.6,236.64 L425,236.61 L425.4,236.57 L425.8,236.52 L426.2,236.47 L426.6,236.42 L427,236.37 L427.4,236.31 L427.8,236.24 L428.2,236.17 L428.6,236.09 L429,236.01 L429.4,235.93 L429.8,235.83 L430.2,235.73 L430.6,235.63 L431,235.51 L431.4,235.39 L431.8,235.26 L432.2,235.13 L432.6,234.98 L433,234.83 L433.4,234.67 L433.8,234.5 L434.2,234.32 L434.6,234.13 L435,233.94 L435.4,233.73 L435.8,233.52 L436.2,233.29 L436.6,233.06 L437,232.82 L437.4,232.56 L437.8,232.3 L438.2,232.04 L438.6,231.76 L439,231.47 L439.4,231.18 L439.8,230.87 L440.2,230.57 L440.6,230.25 L441,229.93 L441.4,229.6 L441.8,229.27 L442.2,228.93 L442.6,228.59 L443,228.25 L443.4,227.9 L443.8,227.55 L444.2,227.21 L444.6,226.86 L445,226.52 L445.4,226.17 L445.8,225.83 L446.2,225.5 L446.6,225.17 L447,224.85 L447.4,224.53 L447.8,224.23 L448.2,223.93 L448.6,223.64 L449,223.37 L449.4,223.11 L449.8,222.86 L450.2,222.62 L450.6,222.41 L451,222.2 L451.4,222.02 L451.8,221.85 L452.2,221.7 L452.6,221.57 L453,221.46 L453.4,221.37 L453.8,221.29 L454.2,221.24 L454.6,221.21 L455,221.2 L455.4,221.21 L455.8,221.24 L456.2,221.29 L456.6,221.37 L457,221.46 L457.4,221.57 L457.8,221.7 L458.2,221.85 L458.6,222.02 L459,222.2 L459.4,222.41 L459.8,222.62 L460.2,222.86 L460.6,223.11 L461,223.37 L461.4,223.64 L461.8,223.93 L462.2,224.23 L462.6,224.53 L463,224.85 L463.4,225.17 L463.8,225.5 L464.2,225.83 L464.6,226.17 L465,226.52 L465.4,226.86 L465.8,227.21 L466.2,227.55 L466.6,227.9 L467,228.25 L467.4,228.59 L467.8,228.93 L468.2,229.27 L468.6,229.6 L469,229.93 L469.4,230.25 L469.8,230.57 L470.2,230.87 L470.6,231.18 L471,231.47 L471.4,231.76 L471.8,232.04 L472.2,232.3 L472.6,232.56 L473,232.82 L473.4,233.06 L473.8,233.29 L474.2,233.52 L474.6,233.73 L475,233.94 L475.4,234.13 L475.8,234.32 L476.2,234.5 L476.6,234.67" fill="none" stroke="#333" stroke-width="0.7"/>
<path d="M449.4,236.85 L449.8,236.84 L450.2,236.84 L450.6,236.83 L451,236.82 L451.4,236.81 L451.8,236.81 L452.2,236.8 L452.6,236.78 L453,236.77 L453.4,236.75 L453.8,236.73 L454.2,236.71 L454.6,236.68 L455,236.64 L455.4,236.59 L455.8,236.53 L456.2,236.46 L456.6,236.37 L457,236.25 L457.4,236.11 L457.8,235.94 L458.2,235.72 L458.6,235.46 L459,235.14 L459.4,234.76 L459.8,234.3 L460.2,233.76 L460.6,233.11 L461,232.36 L461.4,231.49 L461.8,230.48 L462.2,229.33 L462.6,228.03 L463,226.58 L463.4,224.96 L463.8,223.17 L464.2,221.23 L464.6,219.13 L465,216.88 L465.4,214.51 L465.8,212.03 L466.2,209.47 L466.6,206.86 L467,204.23 L467.4,201.61 L467.8,199.06 L468.2,196.62 L468.6,194.32 L469,192.22 L469.4,190.36 L469.8,188.77 L470.2,187.5 L470.6,186.56 L471,185.99 L471.4,185.8 L471.8,185.99 L472.2,186.56 L472.6,187.5 L473,188.77 L473.4,190.36 L473.8,192.22 L474.2,194.32 L474.6,196.62 L475,199.06 L475.4,201.61 L475.8,204.23 L476.2,206.86 L476.6,209.47" fill="none" stroke="#333" stroke-width="0.7"/>
<line x1="335.3" y1="123.4" x2="335.3" y2="237.2" stroke="#b0b0b0" stroke-width="0.9" stroke-dasharray="2,2"/>
<line x1="344.7" y1="123.4" x2="344.7" y2="237.2" stroke="#b0b0b0" stroke-width="0.9" stroke-dasharray="2,2"/>
<line x1="399.8" y1="123.4" x2="399.8" y2="237.2" stroke="#b0b0b0" stroke-width="0.9" stroke-dasharray="2,2"/>
<line x1="419.9" y1="123.4" x2="419.9" y2="237.2" stroke="#b0b0b0" stroke-width="0.9" stroke-dasharray="2,2"/>
<line x1="373.8" y1="123.4" x2="373.8" y2="237.2" stroke="#ff33ff" stroke-width="1.3" stroke-dasharray="2,1.8"/>
<line x1="383.8" y1="123.4" x2="383.8" y2="237.2" stroke="#ff33ff" stroke-width="1.3" stroke-dasharray="2,1.8"/>
<line x1="390.7" y1="123.4" x2="390.7" y2="237.2" stroke="#ff33ff" stroke-width="1.3" stroke-dasharray="2,1.8"/>
<line x1="322.6" y1="237" x2="476.7" y2="237" stroke="#111" stroke-width="1.4"/>
<path d="M322.6,233.81 L323.3,227.95 L324,223.53 L324.7,224.33 L325.4,219.4 L326.1,217.12 L326.8,221.94 L327.5,218.57 L328.2,220.46 L328.9,211.35 L329.6,209.77 L330.3,206.7 L331,202.44 L331.7,198.16 L332.4,201.37 L333.1,191.81 L333.8,194.98 L334.5,188.59 L335.2,194.01 L335.9,184.41 L336.6,184.5 L337.3,184.69 L338,184.43 L338.7,183.55 L339.4,183.32 L340.1,191.78 L340.8,196.12 L341.5,195.27 L342.2,203.26 L342.9,201.61 L343.6,208.33 L344.3,208.11 L345,210.68 L345.7,216.08 L346.4,218.05 L347.1,218.16 L347.8,220.06 L348.5,219.75 L349.2,223.39 L349.9,224.33 L350.6,230.71 L351.3,226.33 L352,228.23 L352.7,225.96 L353.4,223.12 L354.1,224.3 L354.8,227.18 L355.5,227.42 L356.2,221.12 L356.9,220.52 L357.6,222.09 L358.3,216.29 L359,211.8 L359.7,216.39 L360.4,207.9 L361.1,210.94 L361.8,204.69 L362.5,195.71 L363.2,201.01 L363.9,197.35 L364.6,184.92 L365.3,186.25 L366,184.55 L366.7,176.1 L367.4,176.58 L368.1,179.78 L368.8,178.32 L369.5,168.89 L370.2,166.93 L370.9,165.95 L371.6,164.3 L372.3,163.23 L373,163.21 L373.7,159.59 L374.4,163.32 L375.1,157.98 L375.8,157.19 L376.5,156.27 L377.2,153.86 L377.9,148.39 L378.6,158.94 L379.3,153.59 L380,156.86 L380.7,151.78 L381.4,153.38 L382.1,148.32 L382.8,154.85 L383.5,148.54 L384.2,156.22 L384.9,149.7 L385.6,154.33 L386.3,150.67 L387,156.33 L387.7,151.21 L388.4,154 L389.1,151.37 L389.8,149.64 L390.5,153.14 L391.2,159.25 L391.9,156.57 L392.6,157.23 L393.3,153.43 L394,156.85 L394.7,156.74 L395.4,158.54 L396.1,157.73 L396.8,166.08 L397.5,159.86 L398.2,164.16 L398.9,161.66 L399.6,167.54 L400.3,164.88 L401,169.96 L401.7,166.61 L402.4,171.89 L403.1,178.73 L403.8,172.24 L404.5,175.66 L405.2,180.53 L405.9,178.12 L406.6,179.44 L407.3,184.68 L408,187.02 L408.7,188.24 L409.4,189.42 L410.1,197.69 L410.8,196.26 L411.5,198.17 L412.2,200.81 L412.9,202 L413.6,207.08 L414.3,203.52 L415,208.54 L415.7,211.05 L416.4,213.99 L417.1,213.03 L417.8,214.82 L418.5,213.93 L419.2,220.48 L419.9,215.86 L420.6,220.57 L421.3,220.3 L422,223.83 L422.7,221.27 L423.4,226.55 L424.1,223.36 L424.8,228.56 L425.5,227.58 L426.2,228.03 L426.9,223.61 L427.6,229.6 L428.3,224.19 L429,233.62 L429.7,229.29 L430.4,229.5 L431.1,228.88 L431.8,233.91 L432.5,230.99 L433.2,229.66 L433.9,229.74 L434.6,226.47 L435.3,231.69 L436,231.49 L436.7,226.97 L437.4,229.46 L438.1,227.3 L438.8,226.41 L439.5,222.55 L440.2,226.76 L440.9,222.2 L441.6,224.81 L442.3,221.27 L443,224.15 L443.7,217.93 L444.4,223.4 L445.1,220.75 L445.8,221.42 L446.5,220.15 L447.2,223.56 L447.9,217.02 L448.6,219.42 L449.3,217.8 L450,223.48 L450.7,216.22 L451.4,218.99 L452.1,214.72 L452.8,213.89 L453.5,215.12 L454.2,216.01 L454.9,214.86 L455.6,214.3 L456.3,211.44 L457,210.12 L457.7,207.89 L458.4,211.15 L459.1,209.49 L459.8,208.43 L460.5,203.64 L461.2,201.06 L461.9,200.65 L462.6,201.28 L463.3,195.06 L464,196.89 L464.7,192.47 L465.4,194.05 L466.1,189.12 L466.8,190.54 L467.5,194.82 L468.2,185.33 L468.9,187.43 L469.6,182.64 L470.3,181.81 L471,174.14 L471.7,179.51 L472.4,181.37 L473.1,186.07 L473.8,186.97 L474.5,184.97 L475.2,187.73 L475.9,192.02 L476.6,197.04" fill="none" stroke="#222" stroke-width="0.8"/>
<path d="M322.6,231 C323.08,229.5 324.38,225.35 325.5,222 C326.62,218.65 328.05,215.57 329.3,210.9 C330.55,206.23 331.97,198.32 333,194 C334.03,189.68 334.75,186.88 335.5,185 C336.25,183.12 336.75,181.87 337.5,182.7 C338.25,183.53 338.95,185.9 340,190 C341.05,194.1 342.72,202.63 343.8,207.3 C344.88,211.97 345.58,214.97 346.5,218 C347.42,221.03 348.08,223.65 349.3,225.5 C350.52,227.35 352.52,229.68 353.8,229.1 C355.08,228.52 355.93,224.73 357,222 C358.07,219.27 359.12,216.87 360.2,212.7 C361.28,208.53 362.45,202.15 363.5,197 C364.55,191.85 365.42,186.47 366.5,181.8 C367.58,177.13 368.78,172.63 370,169 C371.22,165.37 372.38,162.42 373.8,160 C375.22,157.58 376.83,155.87 378.5,154.5 C380.17,153.13 382.3,152.05 383.8,151.8 C385.3,151.55 386.28,152.38 387.5,153 C388.72,153.62 389.85,154.78 391.1,155.5 C392.35,156.22 393.78,155.95 395,157.3 C396.22,158.65 397.18,161.48 398.4,163.6 C399.62,165.72 400.75,166.35 402.3,170 C403.85,173.65 405.88,179.9 407.7,185.5 C409.52,191.1 411.38,198.45 413.2,203.6 C415.02,208.75 416.78,212.75 418.6,216.4 C420.42,220.05 422.12,223.08 424.1,225.5 C426.08,227.92 428.38,230.6 430.5,230.9 C432.62,231.2 434.23,228.97 436.8,227.3 C439.37,225.63 443.53,222.53 445.9,220.9 C448.27,219.27 449.18,218.87 451,217.5 C452.82,216.13 454.92,215.62 456.8,212.7 C458.68,209.78 460.48,204.38 462.3,200 C464.12,195.62 466.18,190.33 467.7,186.4 C469.22,182.47 470.35,176.97 471.4,176.4 C472.45,175.83 473.12,179.98 474,183 C474.88,186.02 476.25,192.58 476.7,194.5" fill="none" stroke="#ee1111" stroke-width="1.2"/>
<path d="M322.6,137.2 L323,142.78 L323.4,134.78 L323.8,131.3 L324.2,138.49 L324.6,139.82 L325,139 L325.4,139.48 L325.8,137.32 L326.2,135.67 L326.6,135.13 L327,137.03 L327.4,136.48 L327.8,141.05 L328.2,139.99 L328.6,133.44 L329,140.28 L329.4,137.75 L329.8,141.76 L330.2,143.11 L330.6,139.81 L331,131.64 L331.4,140.15 L331.8,132.4 L332.2,143.37 L332.6,135.56 L333,137.21 L333.4,144.27 L333.8,131.68 L334.2,137.98 L334.6,134.11 L335,136.05 L335.4,135.07 L335.8,140.28 L336.2,136.82 L336.6,139.1 L337,140.14 L337.4,131.86 L337.8,142.81 L338.2,137.02 L338.6,132.05 L339,135.57 L339.4,140.96 L339.8,141.42 L340.2,135.47 L340.6,138.26 L341,138.74 L341.4,141.55 L341.8,137.42 L342.2,141.36 L342.6,134.75 L343,135.35 L343.4,140.25 L343.8,140.46 L344.2,137.73 L344.6,140.04 L345,138.64 L345.4,140.62 L345.8,142.03 L346.2,139.74 L346.6,140.81 L347,136.51 L347.4,135.93 L347.8,129.56 L348.2,139.35 L348.6,138.02 L349,139.79 L349.4,131.27 L349.8,136.18 L350.2,135.93 L350.6,131.5 L351,141.12 L351.4,142.24 L351.8,133.39 L352.2,139.48 L352.6,144.03 L353,133.6 L353.4,141.41 L353.8,143.54 L354.2,144.53 L354.6,133.06 L355,134.13 L355.4,138.65 L355.8,142.18 L356.2,133.43 L356.6,135.24 L357,133.94 L357.4,141.84 L357.8,135.92 L358.2,139.95 L358.6,140.2 L359,142.04 L359.4,139.39 L359.8,139.11 L360.2,142.03 L360.6,139.6 L361,133.41 L361.4,135.99 L361.8,141.13 L362.2,138.4 L362.6,136.65 L363,138.78 L363.4,149.72 L363.8,137.73 L364.2,139.63 L364.6,139.54 L365,136.94 L365.4,142.16 L365.8,140.97 L366.2,139.33 L366.6,133.08 L367,142.4 L367.4,140.64 L367.8,137.61 L368.2,128.3 L368.6,137.7 L369,133.58 L369.4,137.09 L369.8,136.09 L370.2,134.95 L370.6,141.52 L371,138.31 L371.4,142.32 L371.8,134.46 L372.2,137.22 L372.6,142.78 L373,139.07 L373.4,135.31 L373.8,134.72 L374.2,135.79 L374.6,137.6 L375,140.36 L375.4,138.42 L375.8,140.6 L376.2,140.9 L376.6,138.33 L377,142.51 L377.4,140.54 L377.8,137.24 L378.2,137.31 L378.6,137.84 L379,135.26 L379.4,133.11 L379.8,138.03 L380.2,136.07 L380.6,140 L381,135.77 L381.4,138.25 L381.8,138.61 L382.2,136.22 L382.6,138.59 L383,135.31 L383.4,136.36 L383.8,140.76 L384.2,139.28 L384.6,137.88 L385,135.09 L385.4,140.38 L385.8,145.02 L386.2,130.11 L386.6,141.65 L387,138.66 L387.4,141.82 L387.8,142.06 L388.2,134.25 L388.6,144.1 L389,135.77 L389.4,136.99 L389.8,140.13 L390.2,137.58 L390.6,138.84 L391,136.04 L391.4,134.17 L391.8,137.94 L392.2,133.98 L392.6,142.68 L393,138.75 L393.4,142.9 L393.8,133.42 L394.2,130.45 L394.6,129.73 L395,136.52 L395.4,133.27 L395.8,139.16 L396.2,132.66 L396.6,132.92 L397,138.88 L397.4,136.47 L397.8,140.3 L398.2,140.76 L398.6,139.14 L399,133.53 L399.4,134.78 L399.8,145.97 L400.2,137.06 L400.6,138.92 L401,138.32 L401.4,137.78 L401.8,137.26 L402.2,135.86 L402.6,136.03 L403,130.68 L403.4,143.83 L403.8,137.49 L404.2,133.18 L404.6,139.72 L405,140.26 L405.4,132.72 L405.8,136.02 L406.2,143.21 L406.6,139.81 L407,139.4 L407.4,141.43 L407.8,137.4 L408.2,136.82 L408.6,143.56 L409,137.22 L409.4,137.59 L409.8,140.15 L410.2,137.99 L410.6,133.47 L411,144.63 L411.4,137.61 L411.8,144.28 L412.2,139.69 L412.6,134.63 L413,143.39 L413.4,137.25 L413.8,134.8 L414.2,137.77 L414.6,130.22 L415,139.32 L415.4,135.28 L415.8,136.98 L416.2,134.69 L416.6,140.29 L417,139.15 L417.4,141.73 L417.8,143.81 L418.2,138.88 L418.6,138.2 L419,138.96 L419.4,134.97 L419.8,135.92 L420.2,140.56 L420.6,134.81 L421,130.96 L421.4,136.62 L421.8,138.78 L422.2,143.11 L422.6,135.32 L423,134.54 L423.4,138.21 L423.8,137.31 L424.2,138.76 L424.6,136.03 L425,138.57 L425.4,135.8 L425.8,141.37 L426.2,138.85 L426.6,139.9 L427,136.29 L427.4,132.75 L427.8,137.9 L428.2,137.67 L428.6,141.78 L429,141.29 L429.4,137.73 L429.8,137.69 L430.2,134.33 L430.6,137.71 L431,138.6 L431.4,136.38 L431.8,134 L432.2,142.4 L432.6,134.56 L433,143.73 L433.4,142.05 L433.8,143.33 L434.2,134.84 L434.6,140.07 L435,132.91 L435.4,136.56 L435.8,132.42 L436.2,135.24 L436.6,136.05 L437,141.24 L437.4,141.67 L437.8,136.53 L438.2,136.82 L438.6,134.5 L439,133.79 L439.4,131.5 L439.8,137.06 L440.2,139.93 L440.6,135.11 L441,139.12 L441.4,133.74 L441.8,134.26 L442.2,135.93 L442.6,140.94 L443,135.96 L443.4,140.52 L443.8,136.57 L444.2,133.9 L444.6,130.71 L445,136.13 L445.4,134.41 L445.8,141.01 L446.2,139.36 L446.6,132.02 L447,140.77 L447.4,139.68 L447.8,127.55 L448.2,134.11 L448.6,138.65 L449,132.17 L449.4,135.23 L449.8,139.63 L450.2,138.67 L450.6,139.38 L451,139.95 L451.4,134.68 L451.8,146.2 L452.2,139.63 L452.6,145.32 L453,136.85 L453.4,139.76 L453.8,138.98 L454.2,137.26 L454.6,138.89 L455,138.69 L455.4,140.64 L455.8,138.9 L456.2,137.98 L456.6,139.49 L457,142.86 L457.4,138.03 L457.8,139.9 L458.2,138.27 L458.6,130.89 L459,134.62 L459.4,134.55 L459.8,132.89 L460.2,135.6 L460.6,131.58 L461,138.72 L461.4,135.89 L461.8,142.07 L462.2,139.11 L462.6,133.31 L463,137 L463.4,137.93 L463.8,135.39 L464.2,136.5 L464.6,133.97 L465,135.2 L465.4,138.73 L465.8,136.6 L466.2,141.99 L466.6,130.35 L467,134.98 L467.4,136.46 L467.8,142.92 L468.2,141.65 L468.6,140.39 L469,141.16 L469.4,143.32 L469.8,140.1 L470.2,136.92 L470.6,138.38 L471,135.21 L471.4,136.95 L471.8,139.03 L472.2,135.98 L472.6,138.09 L473,136.21 L473.4,133.13 L473.8,132.7 L474.2,140.13 L474.6,137.83 L475,140.61 L475.4,137.35 L475.8,137.67 L476.2,138.63 L476.6,136.52" fill="none" stroke="#1010ff" stroke-width="1.0"/>
</g>
<line x1="319.6" y1="135.2" x2="322.6" y2="135.2" stroke="#6e6e6e" stroke-width="1"/>
<text x="319.6" y="140.5" font-size="12.9" text-anchor="end">3.2x10<tspan font-size="7" dy="-7.3">3</tspan></text>
<line x1="319.6" y1="160.8" x2="322.6" y2="160.8" stroke="#6e6e6e" stroke-width="1"/>
<text x="319.6" y="166.1" font-size="12.9" text-anchor="end">2.4x10<tspan font-size="7" dy="-7.3">3</tspan></text>
<line x1="319.6" y1="186.4" x2="322.6" y2="186.4" stroke="#6e6e6e" stroke-width="1"/>
<text x="319.6" y="191.7" font-size="12.9" text-anchor="end">1.6x10<tspan font-size="7" dy="-7.3">3</tspan></text>
<line x1="319.6" y1="212" x2="322.6" y2="212" stroke="#6e6e6e" stroke-width="1"/>
<text x="319.6" y="217.3" font-size="12.9" text-anchor="end">8.0x10<tspan font-size="7" dy="-7.3">2</tspan></text>
<line x1="319.6" y1="237.6" x2="322.6" y2="237.6" stroke="#6e6e6e" stroke-width="1"/>
<text x="319.6" y="242.9" font-size="12.9" text-anchor="end">0.0</text>
<line x1="320.6" y1="148" x2="322.6" y2="148" stroke="#6e6e6e" stroke-width="1"/>
<line x1="320.6" y1="173.6" x2="322.6" y2="173.6" stroke="#6e6e6e" stroke-width="1"/>
<line x1="320.6" y1="199.2" x2="322.6" y2="199.2" stroke="#6e6e6e" stroke-width="1"/>
<line x1="320.6" y1="224.8" x2="322.6" y2="224.8" stroke="#6e6e6e" stroke-width="1"/>
<rect x="322.6" y="11.5" width="154.1" height="225.7" fill="none" stroke="#6e6e6e" stroke-width="1.3"/>
<line x1="322.6" y1="123.4" x2="476.7" y2="123.4" stroke="#6e6e6e" stroke-width="1"/>
<line x1="322.6" y1="237.2" x2="322.6" y2="240.2" stroke="#6e6e6e" stroke-width="1"/>
<text x="322.6" y="253.2" font-size="12.3" text-anchor="middle">1400</text>
<line x1="338.01" y1="237.2" x2="338.01" y2="239.2" stroke="#6e6e6e" stroke-width="1"/>
<line x1="353.42" y1="237.2" x2="353.42" y2="240.2" stroke="#6e6e6e" stroke-width="1"/>
<text x="353.42" y="253.2" font-size="12.3" text-anchor="middle">1350</text>
<line x1="368.83" y1="237.2" x2="368.83" y2="239.2" stroke="#6e6e6e" stroke-width="1"/>
<line x1="384.24" y1="237.2" x2="384.24" y2="240.2" stroke="#6e6e6e" stroke-width="1"/>
<text x="384.24" y="253.2" font-size="12.3" text-anchor="middle">1300</text>
<line x1="399.65" y1="237.2" x2="399.65" y2="239.2" stroke="#6e6e6e" stroke-width="1"/>
<line x1="415.06" y1="237.2" x2="415.06" y2="240.2" stroke="#6e6e6e" stroke-width="1"/>
<text x="415.06" y="253.2" font-size="12.3" text-anchor="middle">1250</text>
<line x1="430.47" y1="237.2" x2="430.47" y2="239.2" stroke="#6e6e6e" stroke-width="1"/>
<line x1="445.88" y1="237.2" x2="445.88" y2="240.2" stroke="#6e6e6e" stroke-width="1"/>
<text x="445.88" y="253.2" font-size="12.3" text-anchor="middle">1200</text>
<line x1="461.29" y1="237.2" x2="461.29" y2="239.2" stroke="#6e6e6e" stroke-width="1"/>
<line x1="476.7" y1="237.2" x2="476.7" y2="240.2" stroke="#6e6e6e" stroke-width="1"/>
<text x="476.7" y="253.2" font-size="12.3" text-anchor="middle">1150</text>
<text x="400.65" y="270.8" font-size="13.2" text-anchor="middle">Wavenumber (cm<tspan font-size="7" dy="-6">-1</tspan><tspan dy="6">)</tspan></text>
<text transform="translate(267.2,65.6) rotate(-90)" font-size="13" text-anchor="middle">Absorbance</text>
<text transform="translate(265.1,182.7) rotate(-90)" font-size="13" text-anchor="middle">Intensity (counts)</text>
<text x="255.7" y="23.7" font-size="24.7" style="font-family:'Liberation Sans', sans-serif" fill="#000" stroke="#000" stroke-width="0.35">B</text>
<clipPath id="clipCT"><rect x="72.3" y="286" width="153.9" height="112.3"/></clipPath>
<g clip-path="url(#clipCT)">
<path d="M112.3,390.45 L112.7,390.44 L113.1,390.44 L113.5,390.43 L113.9,390.43 L114.3,390.42 L114.7,390.41 L115.1,390.41 L115.5,390.4 L115.9,390.39 L116.3,390.39 L116.7,390.38 L117.1,390.37 L117.5,390.36 L117.9,390.35 L118.3,390.34 L118.7,390.33 L119.1,390.32 L119.5,390.31 L119.9,390.29 L120.3,390.28 L120.7,390.26 L121.1,390.24 L121.5,390.23 L121.9,390.2 L122.3,390.18 L122.7,390.15 L123.1,390.11 L123.5,390.07 L123.9,390.01 L124.3,389.94 L124.7,389.86 L125.1,389.75 L125.5,389.61 L125.9,389.43 L126.3,389.2 L126.7,388.92 L127.1,388.56 L127.5,388.11 L127.9,387.56 L128.3,386.88 L128.7,386.06 L129.1,385.07 L129.5,383.91 L129.9,382.54 L130.3,380.96 L130.7,379.16 L131.1,377.13 L131.5,374.88 L131.9,372.41 L132.3,369.75 L132.7,366.93 L133.1,363.98 L133.5,360.96 L133.9,357.93 L134.3,354.95 L134.7,352.09 L135.1,349.45 L135.5,347.08 L135.9,345.08 L136.3,343.51 L136.7,342.42 L137.1,341.87 L137.5,341.83 L137.9,342.04 L138.3,342.48 L138.7,343.11 L139.1,343.95 L139.5,344.97 L139.9,346.16 L140.3,347.5 L140.7,348.98 L141.1,350.57 L141.5,352.27 L141.9,354.04 L142.3,355.87 L142.7,357.74 L143.1,359.63 L143.5,361.53 L143.9,363.42 L144.3,365.28 L144.7,367.11 L145.1,368.88 L145.5,370.6 L145.9,372.25 L146.3,373.83 L146.7,375.32 L147.1,376.73 L147.5,378.05 L147.9,379.28 L148.3,380.43 L148.7,381.48 L149.1,382.45 L149.5,383.34 L149.9,384.14 L150.3,384.87 L150.7,385.53 L151.1,386.11 L151.5,386.64 L151.9,387.11 L152.3,387.52 L152.7,387.88 L153.1,388.2 L153.5,388.48 L153.9,388.72 L154.3,388.94 L154.7,389.12 L155.1,389.28 L155.5,389.42 L155.9,389.53 L156.3,389.64 L156.7,389.72 L157.1,389.8 L157.5,389.86 L157.9,389.92 L158.3,389.97 L158.7,390.01 L159.1,390.04 L159.5,390.08 L159.9,390.1 L160.3,390.13 L160.7,390.15 L161.1,390.17 L161.5,390.19 L161.9,390.2 L162.3,390.22 L162.7,390.23 L163.1,390.24 L163.5,390.25 L163.9,390.26 L164.3,390.27 L164.7,390.28 L165.1,390.29 L165.5,390.3 L165.9,390.31 L166.3,390.32 L166.7,390.32 L167.1,390.33 L167.5,390.34 L167.9,390.34 L168.3,390.35 L168.7,390.36 L169.1,390.36 L169.5,390.37 L169.9,390.37 L170.3,390.38 L170.7,390.38 L171.1,390.39 L171.5,390.39 L171.9,390.4 L172.3,390.4 L172.7,390.41 L173.1,390.41 L173.5,390.41 L173.9,390.42 L174.3,390.42 L174.7,390.43 L175.1,390.43 L175.5,390.43 L175.9,390.44 L176.3,390.44 L176.7,390.44 L177.1,390.45 L177.5,390.45 L177.5,390.6 L112.3,390.6 Z" fill="#ff0000" stroke="none"/>
<path d="M103.1,390.45 L103.5,390.44 L103.9,390.43 L104.3,390.43 L104.7,390.42 L105.1,390.41 L105.5,390.41 L105.9,390.4 L106.3,390.39 L106.7,390.38 L107.1,390.36 L107.5,390.35 L107.9,390.33 L108.3,390.31 L108.7,390.28 L109.1,390.25 L109.5,390.21 L109.9,390.16 L110.3,390.1 L110.7,390.02 L111.1,389.92 L111.5,389.79 L111.9,389.64 L112.3,389.44 L112.7,389.21 L113.1,388.91 L113.5,388.56 L113.9,388.13 L114.3,387.61 L114.7,387 L115.1,386.27 L115.5,385.41 L115.9,384.41 L116.3,383.26 L116.7,381.95 L117.1,380.46 L117.5,378.79 L117.9,376.93 L118.3,374.88 L118.7,372.64 L119.1,370.23 L119.5,367.66 L119.9,364.94 L120.3,362.1 L120.7,359.18 L121.1,356.2 L121.5,353.22 L121.9,350.28 L122.3,347.42 L122.7,344.7 L123.1,342.17 L123.5,339.89 L123.9,337.9 L124.3,336.24 L124.7,334.97 L125.1,334.1 L125.5,333.66 L125.9,333.66 L126.3,334.1 L126.7,334.97 L127.1,336.24 L127.5,337.9 L127.9,339.89 L128.3,342.17 L128.7,344.7 L129.1,347.42 L129.5,350.28 L129.9,353.22 L130.3,356.2 L130.7,359.18 L131.1,362.1 L131.5,364.94 L131.9,367.66 L132.3,370.23 L132.7,372.64 L133.1,374.88 L133.5,376.93 L133.9,378.79 L134.3,380.46 L134.7,381.95 L135.1,383.26 L135.5,384.41 L135.9,385.41 L136.3,386.27 L136.7,387 L137.1,387.61 L137.5,388.13 L137.9,388.56 L138.3,388.91 L138.7,389.21 L139.1,389.44 L139.5,389.64 L139.9,389.79 L140.3,389.92 L140.7,390.02 L141.1,390.1 L141.5,390.16 L141.9,390.21 L142.3,390.25 L142.7,390.28 L143.1,390.31 L143.5,390.33 L143.9,390.35 L144.3,390.36 L144.7,390.38 L145.1,390.39 L145.5,390.4 L145.9,390.41 L146.3,390.41 L146.7,390.42 L147.1,390.43 L147.5,390.43 L147.9,390.44 L148.3,390.45 L148.3,390.6 L103.1,390.6 Z" fill="#c3c3c3" stroke="none"/>
<path d="M108.7,390.43 L109.1,390.34 L109.5,390.21 L109.9,390.03 L110.3,389.79 L110.7,389.47 L111.1,389.05 L111.5,388.51 L111.9,387.84 L112.3,387.02 L112.7,386.05 L113.1,384.93 L113.5,383.67 L113.9,382.28 L114.3,380.8 L114.7,379.29 L115.1,377.79 L115.5,376.36 L115.9,375.08 L116.3,374 L116.7,373.18 L117.1,372.67 L117.5,372.5 L117.9,372.67 L118.3,373.18 L118.7,374 L119.1,375.08 L119.5,376.36 L119.9,377.79 L120.3,379.29 L120.7,380.8 L121.1,382.28 L121.5,383.67 L121.9,384.93 L122.3,386.05 L122.7,387.02 L123.1,387.84 L123.5,388.51 L123.9,389.05 L124.3,389.47 L124.7,389.79 L125.1,390.03 L125.5,390.21 L125.9,390.34 L126.3,390.43 L126.3,390.6 L108.7,390.6 Z" fill="#c3c3c3" stroke="none"/>
<path d="M126.7,390.44 L127.1,390.37 L127.5,390.27 L127.9,390.15 L128.3,389.98 L128.7,389.77 L129.1,389.51 L129.5,389.2 L129.9,388.84 L130.3,388.44 L130.7,388 L131.1,387.54 L131.5,387.08 L131.9,386.63 L132.3,386.23 L132.7,385.88 L133.1,385.62 L133.5,385.46 L133.9,385.4 L134.3,385.46 L134.7,385.62 L135.1,385.88 L135.5,386.23 L135.9,386.63 L136.3,387.08 L136.7,387.54 L137.1,388 L137.5,388.44 L137.9,388.84 L138.3,389.2 L138.7,389.51 L139.1,389.77 L139.5,389.98 L139.9,390.15 L140.3,390.28 L140.7,390.37 L141.1,390.44 L141.1,390.6 L126.7,390.6 Z" fill="#0000ff" stroke="none"/>
<path d="M112.3,390.45 L112.7,390.44 L113.1,390.44 L113.5,390.43 L113.9,390.43 L114.3,390.42 L114.7,390.41 L115.1,390.41 L115.5,390.4 L115.9,390.39 L116.3,390.39 L116.7,390.38 L117.1,390.37 L117.5,390.36 L117.9,390.35 L118.3,390.34 L118.7,390.33 L119.1,390.32 L119.5,390.31 L119.9,390.29 L120.3,390.28 L120.7,390.26 L121.1,390.24 L121.5,390.23 L121.9,390.2 L122.3,390.18 L122.7,390.15 L123.1,390.11 L123.5,390.07 L123.9,390.01 L124.3,389.94 L124.7,389.86 L125.1,389.75 L125.5,389.61 L125.9,389.43 L126.3,389.2 L126.7,388.92 L127.1,388.56 L127.5,388.11 L127.9,387.56 L128.3,386.88 L128.7,386.06 L129.1,385.07 L129.5,383.91 L129.9,382.54 L130.3,380.96 L130.7,379.16 L131.1,377.13 L131.5,374.88 L131.9,372.41 L132.3,369.75 L132.7,366.93 L133.1,363.98 L133.5,360.96 L133.9,357.93 L134.3,354.95 L134.7,352.09 L135.1,349.45 L135.5,347.08 L135.9,345.08 L136.3,343.51 L136.7,342.42 L137.1,341.87 L137.5,341.83 L137.9,342.04 L138.3,342.48 L138.7,343.11 L139.1,343.95 L139.5,344.97 L139.9,346.16 L140.3,347.5 L140.7,348.98 L141.1,350.57 L141.5,352.27 L141.9,354.04 L142.3,355.87 L142.7,357.74 L143.1,359.63 L143.5,361.53 L143.9,363.42 L144.3,365.28 L144.7,367.11 L145.1,368.88 L145.5,370.6 L145.9,372.25 L146.3,373.83 L146.7,375.32 L147.1,376.73 L147.5,378.05 L147.9,379.28 L148.3,380.43 L148.7,381.48 L149.1,382.45 L149.5,383.34 L149.9,384.14 L150.3,384.87 L150.7,385.53 L151.1,386.11 L151.5,386.64 L151.9,387.11 L152.3,387.52 L152.7,387.88 L153.1,388.2 L153.5,388.48 L153.9,388.72 L154.3,388.94 L154.7,389.12 L155.1,389.28 L155.5,389.42 L155.9,389.53 L156.3,389.64 L156.7,389.72 L157.1,389.8 L157.5,389.86 L157.9,389.92 L158.3,389.97 L158.7,390.01 L159.1,390.04 L159.5,390.08 L159.9,390.1 L160.3,390.13 L160.7,390.15 L161.1,390.17 L161.5,390.19 L161.9,390.2 L162.3,390.22 L162.7,390.23 L163.1,390.24 L163.5,390.25 L163.9,390.26 L164.3,390.27 L164.7,390.28 L165.1,390.29 L165.5,390.3 L165.9,390.31 L166.3,390.32 L166.7,390.32 L167.1,390.33 L167.5,390.34 L167.9,390.34 L168.3,390.35 L168.7,390.36 L169.1,390.36 L169.5,390.37 L169.9,390.37 L170.3,390.38 L170.7,390.38 L171.1,390.39 L171.5,390.39 L171.9,390.4 L172.3,390.4 L172.7,390.41 L173.1,390.41 L173.5,390.41 L173.9,390.42 L174.3,390.42 L174.7,390.43 L175.1,390.43 L175.5,390.43 L175.9,390.44 L176.3,390.44 L176.7,390.44 L177.1,390.45 L177.5,390.45" fill="none" stroke="#222" stroke-width="0.7"/>
<path d="M103.1,390.45 L103.5,390.44 L103.9,390.43 L104.3,390.43 L104.7,390.42 L105.1,390.41 L105.5,390.41 L105.9,390.4 L106.3,390.39 L106.7,390.38 L107.1,390.36 L107.5,390.35 L107.9,390.33 L108.3,390.31 L108.7,390.28 L109.1,390.25 L109.5,390.21 L109.9,390.16 L110.3,390.1 L110.7,390.02 L111.1,389.92 L111.5,389.79 L111.9,389.64 L112.3,389.44 L112.7,389.21 L113.1,388.91 L113.5,388.56 L113.9,388.13 L114.3,387.61 L114.7,387 L115.1,386.27 L115.5,385.41 L115.9,384.41 L116.3,383.26 L116.7,381.95 L117.1,380.46 L117.5,378.79 L117.9,376.93 L118.3,374.88 L118.7,372.64 L119.1,370.23 L119.5,367.66 L119.9,364.94 L120.3,362.1 L120.7,359.18 L121.1,356.2 L121.5,353.22 L121.9,350.28 L122.3,347.42 L122.7,344.7 L123.1,342.17 L123.5,339.89 L123.9,337.9 L124.3,336.24 L124.7,334.97 L125.1,334.1 L125.5,333.66 L125.9,333.66 L126.3,334.1 L126.7,334.97 L127.1,336.24 L127.5,337.9 L127.9,339.89 L128.3,342.17 L128.7,344.7 L129.1,347.42 L129.5,350.28 L129.9,353.22 L130.3,356.2 L130.7,359.18 L131.1,362.1 L131.5,364.94 L131.9,367.66 L132.3,370.23 L132.7,372.64 L133.1,374.88 L133.5,376.93 L133.9,378.79 L134.3,380.46 L134.7,381.95 L135.1,383.26 L135.5,384.41 L135.9,385.41 L136.3,386.27 L136.7,387 L137.1,387.61 L137.5,388.13 L137.9,388.56 L138.3,388.91 L138.7,389.21 L139.1,389.44 L139.5,389.64 L139.9,389.79 L140.3,389.92 L140.7,390.02 L141.1,390.1 L141.5,390.16 L141.9,390.21 L142.3,390.25 L142.7,390.28 L143.1,390.31 L143.5,390.33 L143.9,390.35 L144.3,390.36 L144.7,390.38 L145.1,390.39 L145.5,390.4 L145.9,390.41 L146.3,390.41 L146.7,390.42 L147.1,390.43 L147.5,390.43 L147.9,390.44 L148.3,390.45" fill="none" stroke="#222" stroke-width="0.7"/>
<path d="M108.7,390.43 L109.1,390.34 L109.5,390.21 L109.9,390.03 L110.3,389.79 L110.7,389.47 L111.1,389.05 L111.5,388.51 L111.9,387.84 L112.3,387.02 L112.7,386.05 L113.1,384.93 L113.5,383.67 L113.9,382.28 L114.3,380.8 L114.7,379.29 L115.1,377.79 L115.5,376.36 L115.9,375.08 L116.3,374 L116.7,373.18 L117.1,372.67 L117.5,372.5 L117.9,372.67 L118.3,373.18 L118.7,374 L119.1,375.08 L119.5,376.36 L119.9,377.79 L120.3,379.29 L120.7,380.8 L121.1,382.28 L121.5,383.67 L121.9,384.93 L122.3,386.05 L122.7,387.02 L123.1,387.84 L123.5,388.51 L123.9,389.05 L124.3,389.47 L124.7,389.79 L125.1,390.03 L125.5,390.21 L125.9,390.34 L126.3,390.43" fill="none" stroke="#222" stroke-width="0.7"/>
<path d="M126.7,390.44 L127.1,390.37 L127.5,390.27 L127.9,390.15 L128.3,389.98 L128.7,389.77 L129.1,389.51 L129.5,389.2 L129.9,388.84 L130.3,388.44 L130.7,388 L131.1,387.54 L131.5,387.08 L131.9,386.63 L132.3,386.23 L132.7,385.88 L133.1,385.62 L133.5,385.46 L133.9,385.4 L134.3,385.46 L134.7,385.62 L135.1,385.88 L135.5,386.23 L135.9,386.63 L136.3,387.08 L136.7,387.54 L137.1,388 L137.5,388.44 L137.9,388.84 L138.3,389.2 L138.7,389.51 L139.1,389.77 L139.5,389.98 L139.9,390.15 L140.3,390.28 L140.7,390.37 L141.1,390.44" fill="none" stroke="#222" stroke-width="0.7"/>
<path d="M72.3,386.82 L72.7,386.43 L73.1,385.97 L73.5,385.41 L73.9,384.74 L74.3,383.94 L74.7,382.98 L75.1,381.83 L75.5,380.48 L75.9,378.89 L76.3,377.03 L76.7,374.89 L77.1,372.43 L77.5,369.64 L77.9,366.5 L78.3,363.03 L78.7,359.21 L79.1,355.08 L79.5,350.66 L79.9,345.99 L80.3,341.14 L80.7,336.19 L81.1,331.22 L81.5,326.35 L81.9,321.69 L82.3,317.39 L82.7,313.59 L83.1,310.44 L83.5,308.07 L83.9,306.6 L84.3,306.1 L84.7,306.6 L85.1,308.07 L85.5,310.44 L85.9,313.59 L86.3,317.39 L86.7,321.69 L87.1,326.35 L87.5,331.22 L87.9,336.19 L88.3,341.14 L88.7,345.99 L89.1,350.66 L89.5,355.08 L89.9,359.21 L90.3,363.03 L90.7,366.5 L91.1,369.64 L91.5,372.43 L91.9,374.89 L92.3,377.03 L92.7,378.89 L93.1,380.48 L93.5,381.83 L93.9,382.98 L94.3,383.94 L94.7,384.74 L95.1,385.41 L95.5,385.97 L95.9,386.43 L96.3,386.82 L96.7,387.15 L97.1,387.42 L97.5,387.66 L97.9,387.86 L98.3,388.03 L98.7,388.19 L99.1,388.32 L99.5,388.44 L99.9,388.55 L100.3,388.65 L100.7,388.74 L101.1,388.83 L101.5,388.9 L101.9,388.98 L102.3,389.04 L102.7,389.11 L103.1,389.17 L103.5,389.22 L103.9,389.28 L104.3,389.33 L104.7,389.37 L105.1,389.42 L105.5,389.46 L105.9,389.5 L106.3,389.54 L106.7,389.57 L107.1,389.61 L107.5,389.64 L107.9,389.67 L108.3,389.7 L108.7,389.73 L109.1,389.76 L109.5,389.78 L109.9,389.81 L110.3,389.83 L110.7,389.85 L111.1,389.87 L111.5,389.9 L111.9,389.91 L112.3,389.93 L112.7,389.95 L113.1,389.97 L113.5,389.99 L113.9,390 L114.3,390.02 L114.7,390.03 L115.1,390.05 L115.5,390.06 L115.9,390.07 L116.3,390.09 L116.7,390.1 L117.1,390.11 L117.5,390.12 L117.9,390.13 L118.3,390.14 L118.7,390.15 L119.1,390.16 L119.5,390.17 L119.9,390.18 L120.3,390.19 L120.7,390.2 L121.1,390.21 L121.5,390.22 L121.9,390.23 L122.3,390.23 L122.7,390.24 L123.1,390.25 L123.5,390.26 L123.9,390.26 L124.3,390.27 L124.7,390.28 L125.1,390.28 L125.5,390.29 L125.9,390.29 L126.3,390.3 L126.7,390.31 L127.1,390.31 L127.5,390.32 L127.9,390.32 L128.3,390.33 L128.7,390.33 L129.1,390.34 L129.5,390.34 L129.9,390.34 L130.3,390.35 L130.7,390.35 L131.1,390.36 L131.5,390.36 L131.9,390.37 L132.3,390.37 L132.7,390.37 L133.1,390.38 L133.5,390.38 L133.9,390.38 L134.3,390.39 L134.7,390.39 L135.1,390.39 L135.5,390.4 L135.9,390.4 L136.3,390.4 L136.7,390.41 L137.1,390.41 L137.5,390.41 L137.9,390.41 L138.3,390.42 L138.7,390.42 L139.1,390.42 L139.5,390.43 L139.9,390.43 L140.3,390.43 L140.7,390.43 L141.1,390.43 L141.5,390.44 L141.9,390.44 L142.3,390.44 L142.7,390.44 L143.1,390.45 L143.5,390.45 L143.9,390.45" fill="none" stroke="#333" stroke-width="0.7"/>
<path d="M133.5,390.44 L133.9,390.42 L134.3,390.4 L134.7,390.37 L135.1,390.34 L135.5,390.29 L135.9,390.23 L136.3,390.15 L136.7,390.04 L137.1,389.9 L137.5,389.72 L137.9,389.49 L138.3,389.2 L138.7,388.83 L139.1,388.37 L139.5,387.81 L139.9,387.13 L140.3,386.32 L140.7,385.35 L141.1,384.23 L141.5,382.95 L141.9,381.49 L142.3,379.87 L142.7,378.09 L143.1,376.17 L143.5,374.13 L143.9,372 L144.3,369.82 L144.7,367.64 L145.1,365.51 L145.5,363.49 L145.9,361.63 L146.3,360 L146.7,358.63 L147.1,357.59 L147.5,356.91 L147.9,356.61 L148.3,356.71 L148.7,357.2 L149.1,358.07 L149.5,359.28 L149.9,360.78 L150.3,362.54 L150.7,364.49 L151.1,366.57 L151.5,368.73 L151.9,370.91 L152.3,373.07 L152.7,375.16 L153.1,377.15 L153.5,379 L153.9,380.7 L154.3,382.24 L154.7,383.61 L155.1,384.81 L155.5,385.85 L155.9,386.74 L156.3,387.49 L156.7,388.1 L157.1,388.61 L157.5,389.02 L157.9,389.35 L158.3,389.61 L158.7,389.82 L159.1,389.98 L159.5,390.1 L159.9,390.19 L160.3,390.26 L160.7,390.32 L161.1,390.36 L161.5,390.39 L161.9,390.41 L162.3,390.43 L162.7,390.45" fill="none" stroke="#333" stroke-width="0.7"/>
<path d="M143.9,390.43 L144.3,390.41 L144.7,390.38 L145.1,390.35 L145.5,390.3 L145.9,390.24 L146.3,390.15 L146.7,390.05 L147.1,389.92 L147.5,389.74 L147.9,389.53 L148.3,389.26 L148.7,388.93 L149.1,388.52 L149.5,388.03 L149.9,387.44 L150.3,386.75 L150.7,385.94 L151.1,385.01 L151.5,383.94 L151.9,382.75 L152.3,381.44 L152.7,380 L153.1,378.45 L153.5,376.82 L153.9,375.12 L154.3,373.38 L154.7,371.64 L155.1,369.93 L155.5,368.3 L155.9,366.78 L156.3,365.42 L156.7,364.25 L157.1,363.33 L157.5,362.66 L157.9,362.29 L158.3,362.21 L158.7,362.44 L159.1,362.96 L159.5,363.76 L159.9,364.81 L160.3,366.07 L160.7,367.52 L161.1,369.1 L161.5,370.78 L161.9,372.51 L162.3,374.25 L162.7,375.98 L163.1,377.65 L163.5,379.24 L163.9,380.73 L164.3,382.11 L164.7,383.37 L165.1,384.49 L165.5,385.49 L165.9,386.36 L166.3,387.11 L166.7,387.75 L167.1,388.29 L167.5,388.73 L167.9,389.1 L168.3,389.4 L168.7,389.64 L169.1,389.83 L169.5,389.99 L169.9,390.11 L170.3,390.2 L170.7,390.27 L171.1,390.32 L171.5,390.37 L171.9,390.4 L172.3,390.42 L172.7,390.44" fill="none" stroke="#333" stroke-width="0.7"/>
<path d="M173.1,390.43 L173.5,390.32 L173.9,390.17 L174.3,389.96 L174.7,389.67 L175.1,389.31 L175.5,388.88 L175.9,388.37 L176.3,387.82 L176.7,387.25 L177.1,386.7 L177.5,386.23 L177.9,385.86 L178.3,385.65 L178.7,385.61 L179.1,385.74 L179.5,386.03 L179.9,386.45 L180.3,386.97 L180.7,387.53 L181.1,388.1 L181.5,388.63 L181.9,389.11 L182.3,389.5 L182.7,389.82 L183.1,390.07 L183.5,390.25 L183.9,390.38" fill="none" stroke="#333" stroke-width="0.7"/>
<path d="M180.7,390.42 L181.1,390.39 L181.5,390.35 L181.9,390.3 L182.3,390.25 L182.7,390.18 L183.1,390.11 L183.5,390.03 L183.9,389.94 L184.3,389.83 L184.7,389.71 L185.1,389.58 L185.5,389.44 L185.9,389.27 L186.3,389.09 L186.7,388.89 L187.1,388.68 L187.5,388.44 L187.9,388.19 L188.3,387.92 L188.7,387.62 L189.1,387.31 L189.5,386.98 L189.9,386.64 L190.3,386.27 L190.7,385.89 L191.1,385.5 L191.5,385.1 L191.9,384.69 L192.3,384.27 L192.7,383.85 L193.1,383.44 L193.5,383.02 L193.9,382.62 L194.3,382.22 L194.7,381.84 L195.1,381.48 L195.5,381.14 L195.9,380.83 L196.3,380.55 L196.7,380.29 L197.1,380.08 L197.5,379.9 L197.9,379.76 L198.3,379.67 L198.7,379.61 L199.1,379.6 L199.5,379.63 L199.9,379.71 L200.3,379.83 L200.7,379.98 L201.1,380.18 L201.5,380.42 L201.9,380.68 L202.3,380.98 L202.7,381.31 L203.1,381.66 L203.5,382.03 L203.9,382.42 L204.3,382.82 L204.7,383.23 L205.1,383.65 L205.5,384.06 L205.9,384.48 L206.3,384.9 L206.7,385.3 L207.1,385.7 L207.5,386.08 L207.9,386.46 L208.3,386.81 L208.7,387.15 L209.1,387.47 L209.5,387.77 L209.9,388.06 L210.3,388.32 L210.7,388.56 L211.1,388.79 L211.5,389 L211.9,389.18 L212.3,389.36 L212.7,389.51 L213.1,389.65 L213.5,389.78 L213.9,389.89 L214.3,389.99 L214.7,390.07 L215.1,390.15 L215.5,390.22 L215.9,390.27 L216.3,390.32 L216.7,390.37 L217.1,390.41 L217.5,390.44" fill="none" stroke="#333" stroke-width="0.7"/>
<path d="M183.5,390.45 L183.9,390.44 L184.3,390.44 L184.7,390.44 L185.1,390.43 L185.5,390.43 L185.9,390.42 L186.3,390.42 L186.7,390.41 L187.1,390.41 L187.5,390.4 L187.9,390.4 L188.3,390.39 L188.7,390.39 L189.1,390.38 L189.5,390.38 L189.9,390.37 L190.3,390.36 L190.7,390.35 L191.1,390.35 L191.5,390.34 L191.9,390.33 L192.3,390.32 L192.7,390.31 L193.1,390.3 L193.5,390.28 L193.9,390.27 L194.3,390.25 L194.7,390.23 L195.1,390.21 L195.5,390.19 L195.9,390.16 L196.3,390.13 L196.7,390.09 L197.1,390.05 L197.5,390 L197.9,389.94 L198.3,389.88 L198.7,389.8 L199.1,389.7 L199.5,389.6 L199.9,389.47 L200.3,389.32 L200.7,389.16 L201.1,388.96 L201.5,388.74 L201.9,388.48 L202.3,388.19 L202.7,387.85 L203.1,387.48 L203.5,387.05 L203.9,386.58 L204.3,386.05 L204.7,385.46 L205.1,384.81 L205.5,384.09 L205.9,383.31 L206.3,382.46 L206.7,381.54 L207.1,380.55 L207.5,379.5 L207.9,378.37 L208.3,377.18 L208.7,375.94 L209.1,374.64 L209.5,373.29 L209.9,371.9 L210.3,370.49 L210.7,369.05 L211.1,367.61 L211.5,366.18 L211.9,364.76 L212.3,363.38 L212.7,362.05 L213.1,360.78 L213.5,359.59 L213.9,358.5 L214.3,357.51 L214.7,356.65 L215.1,355.93 L215.5,355.36 L215.9,354.94 L216.3,354.68 L216.7,354.6 L217.1,354.68 L217.5,354.94 L217.9,355.36 L218.3,355.93 L218.7,356.65 L219.1,357.51 L219.5,358.5 L219.9,359.59 L220.3,360.78 L220.7,362.05 L221.1,363.38 L221.5,364.76 L221.9,366.18 L222.3,367.61 L222.7,369.05 L223.1,370.49 L223.5,371.9 L223.9,373.29 L224.3,374.64 L224.7,375.94 L225.1,377.18 L225.5,378.37 L225.9,379.5" fill="none" stroke="#333" stroke-width="0.7"/>
<line x1="117.2" y1="286" x2="117.2" y2="398.3" stroke="#b0b0b0" stroke-width="0.9" stroke-dasharray="2,2"/>
<line x1="148" y1="286" x2="148" y2="398.3" stroke="#b0b0b0" stroke-width="0.9" stroke-dasharray="2,2"/>
<line x1="158.2" y1="286" x2="158.2" y2="398.3" stroke="#b0b0b0" stroke-width="0.9" stroke-dasharray="2,2"/>
<line x1="125.9" y1="286" x2="125.9" y2="398.3" stroke="#ff33ff" stroke-width="1.3" stroke-dasharray="2,1.8"/>
<line x1="133.9" y1="286" x2="133.9" y2="398.3" stroke="#ff33ff" stroke-width="1.3" stroke-dasharray="2,1.8"/>
<line x1="137.1" y1="286" x2="137.1" y2="398.3" stroke="#ff33ff" stroke-width="1.3" stroke-dasharray="2,1.8"/>
<line x1="72.3" y1="390.6" x2="226.2" y2="390.6" stroke="#111" stroke-width="1.6"/>
<path d="M72.3,382.8 C72.92,381.5 74.8,380.47 76,375 C77.2,369.53 78.5,359.5 79.5,350 C80.5,340.5 81.2,325.6 82,318 C82.8,310.4 83.55,304.9 84.3,304.4 C85.05,303.9 85.72,308.23 86.5,315 C87.28,321.77 88.08,335.83 89,345 C89.92,354.17 90.75,363.37 92,370 C93.25,376.63 95.17,382.08 96.5,384.8 C97.83,387.52 98.75,385.93 100,386.3 C101.25,386.67 102.67,387.15 104,387 C105.33,386.85 106.65,387.48 108,385.4 C109.35,383.32 110.73,379.05 112.1,374.5 C113.47,369.95 114.83,364 116.2,358.1 C117.57,352.2 119.17,344.08 120.3,339.1 C121.43,334.12 122.1,330.7 123,328.2 C123.9,325.7 124.7,324.13 125.7,324.1 C126.7,324.07 127.87,326.87 129,328 C130.13,329.13 131.35,330.53 132.5,330.9 C133.65,331.27 134.82,329.68 135.9,330.2 C136.98,330.72 137.9,332.2 139,334 C140.1,335.8 141.08,339.25 142.5,341 C143.92,342.75 146.08,343 147.5,344.5 C148.92,346 149.75,348.08 151,350 C152.25,351.92 153.75,354.5 155,356 C156.25,357.5 157.23,356.13 158.5,359 C159.77,361.87 161.18,368.88 162.6,373.2 C164.02,377.52 165.52,382.78 167,384.9 C168.48,387.02 170.17,385.97 171.5,385.9 C172.83,385.83 173.82,385.02 175,384.5 C176.18,383.98 177.43,382.63 178.6,382.8 C179.77,382.97 180.82,384.82 182,385.5 C183.18,386.18 184.03,387.48 185.7,386.9 C187.37,386.32 189.62,384.22 192,382 C194.38,379.78 197.65,375.33 200,373.6 C202.35,371.87 204.27,373.2 206.1,371.6 C207.93,370 209.23,366.88 211,364 C212.77,361.12 215.03,354.97 216.7,354.3 C218.37,353.63 219.42,356.95 221,360 C222.58,363.05 225.33,370.5 226.2,372.6" fill="none" stroke="#7a1d1d" stroke-width="1.3"/>
<path d="M72.3,301.34 L73.3,301.33 L74.3,301.23 L75.3,301.14 L76.3,301.13 L77.3,301.18 L78.3,301.21 L79.3,301.17 L80.3,301.06 L81.3,300.97 L82.3,300.99 L83.3,301.12 L84.3,301.29 L85.3,301.36 L86.3,301.26 L87.3,301.04 L88.3,300.82 L89.3,300.73 L90.3,300.79 L91.3,300.94 L92.3,301.08 L93.3,301.14 L94.3,301.14 L95.3,301.16 L96.3,301.25 L97.3,301.37 L98.3,301.44 L99.3,301.38 L100.3,301.18 L101.3,300.95 L102.3,300.82 L103.3,300.86 L104.3,301.02 L105.3,301.19 L106.3,301.25 L107.3,301.18 L108.3,301.05 L109.3,300.97 L110.3,300.97 L111.3,301.03 L112.3,301.07 L113.3,301.02 L114.3,300.94 L115.3,300.91 L116.3,301.02 L117.3,301.23 L118.3,301.45 L119.3,301.55 L120.3,301.46 L121.3,301.24 L122.3,301.01 L123.3,300.9 L124.3,300.91 L125.3,300.98 L126.3,301.02 L127.3,300.99 L128.3,300.94 L129.3,300.95 L130.3,301.06 L131.3,301.21 L132.3,301.3 L133.3,301.25 L134.3,301.08 L135.3,300.91 L136.3,300.85 L137.3,300.96 L138.3,301.17 L139.3,301.35 L140.3,301.41 L141.3,301.34 L142.3,301.22 L143.3,301.14 L144.3,301.13 L145.3,301.13 L146.3,301.07 L147.3,300.93 L148.3,300.77 L149.3,300.71 L150.3,300.81 L151.3,301.04 L152.3,301.27 L153.3,301.39 L154.3,301.33 L155.3,301.18 L156.3,301.05 L157.3,301.02 L158.3,301.09 L159.3,301.17 L160.3,301.19 L161.3,301.14 L162.3,301.08 L163.3,301.09 L164.3,301.19 L165.3,301.3 L166.3,301.32 L167.3,301.19 L168.3,300.95 L169.3,300.74 L170.3,300.67 L171.3,300.77 L172.3,300.98 L173.3,301.17 L174.3,301.24 L175.3,301.23 L176.3,301.2 L177.3,301.23 L178.3,301.3 L179.3,301.34 L180.3,301.28 L181.3,301.12 L182.3,300.93 L183.3,300.85 L184.3,300.93 L185.3,301.11 L186.3,301.28 L187.3,301.32 L188.3,301.2 L189.3,301.02 L190.3,300.88 L191.3,300.86 L192.3,300.94 L193.3,301.01 L194.3,301.03 L195.3,301.01 L196.3,301.01 L197.3,301.11 L198.3,301.3 L199.3,301.48 L200.3,301.53 L201.3,301.4 L202.3,301.15 L203.3,300.92 L204.3,300.83 L205.3,300.89 L206.3,301.02 L207.3,301.1 L208.3,301.1 L209.3,301.04 L210.3,301.01 L211.3,301.05 L212.3,301.15 L213.3,301.2 L214.3,301.15 L215.3,301.01 L216.3,300.87 L217.3,300.86 L218.3,301.01 L219.3,301.25 L220.3,301.45 L221.3,301.49 L222.3,301.38 L223.3,301.2 L224.3,301.07 L225.3,301.02" fill="none" stroke="#5a5aff" stroke-width="1.2"/>
</g>
<line x1="69.3" y1="301.3" x2="72.3" y2="301.3" stroke="#6e6e6e" stroke-width="1"/>
<text x="62.8" y="305.9" font-size="12.9" text-anchor="end">1.2x10<tspan font-size="7" dy="-7.3">-3</tspan></text>
<line x1="69.3" y1="323.5" x2="72.3" y2="323.5" stroke="#6e6e6e" stroke-width="1"/>
<text x="62.8" y="328.1" font-size="12.9" text-anchor="end">9.0x10<tspan font-size="7" dy="-7.3">-4</tspan></text>
<line x1="69.3" y1="345.7" x2="72.3" y2="345.7" stroke="#6e6e6e" stroke-width="1"/>
<text x="62.8" y="350.3" font-size="12.9" text-anchor="end">6.0x10<tspan font-size="7" dy="-7.3">-4</tspan></text>
<line x1="69.3" y1="368" x2="72.3" y2="368" stroke="#6e6e6e" stroke-width="1"/>
<text x="62.8" y="372.6" font-size="12.9" text-anchor="end">3.0x10<tspan font-size="7" dy="-7.3">-4</tspan></text>
<line x1="69.3" y1="390.2" x2="72.3" y2="390.2" stroke="#6e6e6e" stroke-width="1"/>
<text x="62.8" y="394.8" font-size="12.9" text-anchor="end">0.0</text>
<line x1="70.3" y1="312.4" x2="72.3" y2="312.4" stroke="#6e6e6e" stroke-width="1"/>
<line x1="70.3" y1="334.6" x2="72.3" y2="334.6" stroke="#6e6e6e" stroke-width="1"/>
<line x1="70.3" y1="356.8" x2="72.3" y2="356.8" stroke="#6e6e6e" stroke-width="1"/>
<line x1="70.3" y1="379.1" x2="72.3" y2="379.1" stroke="#6e6e6e" stroke-width="1"/>
<line x1="70.3" y1="290.2" x2="72.3" y2="290.2" stroke="#6e6e6e" stroke-width="1"/>
<clipPath id="clipCB"><rect x="72.3" y="398.3" width="153.9" height="114.9"/></clipPath>
<g clip-path="url(#clipCB)">
<path d="M108.3,512.65 L108.7,512.64 L109.1,512.64 L109.5,512.64 L109.9,512.63 L110.3,512.63 L110.7,512.62 L111.1,512.62 L111.5,512.61 L111.9,512.61 L112.3,512.6 L112.7,512.59 L113.1,512.59 L113.5,512.58 L113.9,512.58 L114.3,512.57 L114.7,512.56 L115.1,512.55 L115.5,512.55 L115.9,512.54 L116.3,512.53 L116.7,512.52 L117.1,512.51 L117.5,512.5 L117.9,512.49 L118.3,512.48 L118.7,512.46 L119.1,512.45 L119.5,512.44 L119.9,512.42 L120.3,512.4 L120.7,512.38 L121.1,512.36 L121.5,512.34 L121.9,512.31 L122.3,512.28 L122.7,512.25 L123.1,512.2 L123.5,512.15 L123.9,512.09 L124.3,512.02 L124.7,511.92 L125.1,511.81 L125.5,511.67 L125.9,511.49 L126.3,511.28 L126.7,511.02 L127.1,510.7 L127.5,510.31 L127.9,509.84 L128.3,509.28 L128.7,508.61 L129.1,507.82 L129.5,506.89 L129.9,505.81 L130.3,504.58 L130.7,503.17 L131.1,501.57 L131.5,499.79 L131.9,497.81 L132.3,495.64 L132.7,493.29 L133.1,490.77 L133.5,488.1 L133.9,485.3 L134.3,482.41 L134.7,479.46 L135.1,476.5 L135.5,473.57 L135.9,470.74 L136.3,468.05 L136.7,465.56 L137.1,463.33 L137.5,461.42 L137.9,459.87 L138.3,458.73 L138.7,458.03 L139.1,457.8 L139.5,457.92 L139.9,458.29 L140.3,458.89 L140.7,459.72 L141.1,460.77 L141.5,462.02 L141.9,463.45 L142.3,465.04 L142.7,466.78 L143.1,468.63 L143.5,470.58 L143.9,472.62 L144.3,474.7 L144.7,476.83 L145.1,478.97 L145.5,481.1 L145.9,483.22 L146.3,485.3 L146.7,487.33 L147.1,489.3 L147.5,491.2 L147.9,493.02 L148.3,494.75 L148.7,496.38 L149.1,497.92 L149.5,499.36 L149.9,500.7 L150.3,501.94 L150.7,503.08 L151.1,504.13 L151.5,505.08 L151.9,505.94 L152.3,506.72 L152.7,507.42 L153.1,508.05 L153.5,508.61 L153.9,509.1 L154.3,509.54 L154.7,509.92 L155.1,510.26 L155.5,510.55 L155.9,510.81 L156.3,511.03 L156.7,511.22 L157.1,511.39 L157.5,511.53 L157.9,511.66 L158.3,511.76 L158.7,511.86 L159.1,511.93 L159.5,512 L159.9,512.06 L160.3,512.11 L160.7,512.15 L161.1,512.19 L161.5,512.22 L161.9,512.25 L162.3,512.28 L162.7,512.3 L163.1,512.32 L163.5,512.34 L163.9,512.36 L164.3,512.37 L164.7,512.39 L165.1,512.4 L165.5,512.41 L165.9,512.43 L166.3,512.44 L166.7,512.45 L167.1,512.46 L167.5,512.47 L167.9,512.48 L168.3,512.48 L168.7,512.49 L169.1,512.5 L169.5,512.51 L169.9,512.51 L170.3,512.52 L170.7,512.53 L171.1,512.53 L171.5,512.54 L171.9,512.55 L172.3,512.55 L172.7,512.56 L173.1,512.56 L173.5,512.57 L173.9,512.57 L174.3,512.58 L174.7,512.58 L175.1,512.59 L175.5,512.59 L175.9,512.6 L176.3,512.6 L176.7,512.61 L177.1,512.61 L177.5,512.61 L177.9,512.62 L178.3,512.62 L178.7,512.62 L179.1,512.63 L179.5,512.63 L179.9,512.63 L180.3,512.64 L180.7,512.64 L181.1,512.64 L181.5,512.65 L181.9,512.65 L181.9,512.8 L108.3,512.8 Z" fill="#ff0000" stroke="none"/>
<path d="M93.5,512.65 L93.9,512.64 L94.3,512.64 L94.7,512.64 L95.1,512.63 L95.5,512.63 L95.9,512.62 L96.3,512.62 L96.7,512.61 L97.1,512.61 L97.5,512.6 L97.9,512.59 L98.3,512.59 L98.7,512.58 L99.1,512.57 L99.5,512.56 L99.9,512.55 L100.3,512.53 L100.7,512.52 L101.1,512.5 L101.5,512.48 L101.9,512.46 L102.3,512.43 L102.7,512.4 L103.1,512.37 L103.5,512.33 L103.9,512.28 L104.3,512.23 L104.7,512.16 L105.1,512.08 L105.5,512 L105.9,511.89 L106.3,511.78 L106.7,511.64 L107.1,511.48 L107.5,511.3 L107.9,511.09 L108.3,510.85 L108.7,510.58 L109.1,510.27 L109.5,509.92 L109.9,509.52 L110.3,509.08 L110.7,508.58 L111.1,508.02 L111.5,507.4 L111.9,506.72 L112.3,505.97 L112.7,505.14 L113.1,504.24 L113.5,503.25 L113.9,502.18 L114.3,501.03 L114.7,499.8 L115.1,498.47 L115.5,497.07 L115.9,495.57 L116.3,494 L116.7,492.35 L117.1,490.63 L117.5,488.84 L117.9,487 L118.3,485.1 L118.7,483.16 L119.1,481.2 L119.5,479.22 L119.9,477.24 L120.3,475.27 L120.7,473.32 L121.1,471.42 L121.5,469.57 L121.9,467.8 L122.3,466.12 L122.7,464.55 L123.1,463.1 L123.5,461.78 L123.9,460.62 L124.3,459.62 L124.7,458.8 L125.1,458.16 L125.5,457.71 L125.9,457.46 L126.3,457.41 L126.7,457.56 L127.1,457.91 L127.5,458.45 L127.9,459.19 L128.3,460.1 L128.7,461.18 L129.1,462.42 L129.5,463.81 L129.9,465.32 L130.3,466.95 L130.7,468.68 L131.1,470.49 L131.5,472.36 L131.9,474.29 L132.3,476.25 L132.7,478.23 L133.1,480.21 L133.5,482.19 L133.9,484.14 L134.3,486.05 L134.7,487.93 L135.1,489.74 L135.5,491.5 L135.9,493.19 L136.3,494.8 L136.7,496.33 L137.1,497.78 L137.5,499.15 L137.9,500.43 L138.3,501.62 L138.7,502.73 L139.1,503.75 L139.5,504.7 L139.9,505.56 L140.3,506.35 L140.7,507.07 L141.1,507.72 L141.5,508.31 L141.9,508.83 L142.3,509.3 L142.7,509.72 L143.1,510.1 L143.5,510.43 L143.9,510.72 L144.3,510.97 L144.7,511.2 L145.1,511.39 L145.5,511.56 L145.9,511.71 L146.3,511.84 L146.7,511.95 L147.1,512.04 L147.5,512.12 L147.9,512.19 L148.3,512.25 L148.7,512.31 L149.1,512.35 L149.5,512.39 L149.9,512.42 L150.3,512.45 L150.7,512.47 L151.1,512.49 L151.5,512.51 L151.9,512.53 L152.3,512.54 L152.7,512.55 L153.1,512.56 L153.5,512.57 L153.9,512.58 L154.3,512.59 L154.7,512.6 L155.1,512.6 L155.5,512.61 L155.9,512.61 L156.3,512.62 L156.7,512.62 L157.1,512.63 L157.5,512.63 L157.9,512.64 L158.3,512.64 L158.7,512.65 L159.1,512.65 L159.1,512.8 L93.5,512.8 Z" fill="#c3c3c3" stroke="none"/>
<path d="M105.9,512.6 L106.3,512.51 L106.7,512.4 L107.1,512.25 L107.5,512.06 L107.9,511.81 L108.3,511.5 L108.7,511.11 L109.1,510.62 L109.5,510.03 L109.9,509.33 L110.3,508.5 L110.7,507.54 L111.1,506.45 L111.5,505.23 L111.9,503.89 L112.3,502.44 L112.7,500.9 L113.1,499.31 L113.5,497.69 L113.9,496.09 L114.3,494.55 L114.7,493.12 L115.1,491.85 L115.5,490.76 L115.9,489.92 L116.3,489.33 L116.7,489.04 L117.1,489.04 L117.5,489.33 L117.9,489.92 L118.3,490.76 L118.7,491.85 L119.1,493.12 L119.5,494.55 L119.9,496.09 L120.3,497.69 L120.7,499.31 L121.1,500.9 L121.5,502.44 L121.9,503.89 L122.3,505.23 L122.7,506.45 L123.1,507.54 L123.5,508.5 L123.9,509.33 L124.3,510.03 L124.7,510.62 L125.1,511.11 L125.5,511.5 L125.9,511.81 L126.3,512.06 L126.7,512.25 L127.1,512.4 L127.5,512.51 L127.9,512.6 L127.9,512.8 L105.9,512.8 Z" fill="#c3c3c3" stroke="none"/>
<path d="M119.9,512.64 L120.3,512.61 L120.7,512.57 L121.1,512.53 L121.5,512.48 L121.9,512.42 L122.3,512.36 L122.7,512.29 L123.1,512.21 L123.5,512.12 L123.9,512.02 L124.3,511.92 L124.7,511.8 L125.1,511.68 L125.5,511.54 L125.9,511.4 L126.3,511.25 L126.7,511.09 L127.1,510.93 L127.5,510.76 L127.9,510.58 L128.3,510.41 L128.7,510.23 L129.1,510.06 L129.5,509.89 L129.9,509.72 L130.3,509.57 L130.7,509.42 L131.1,509.28 L131.5,509.16 L131.9,509.05 L132.3,508.96 L132.7,508.89 L133.1,508.84 L133.5,508.81 L133.9,508.8 L134.3,508.81 L134.7,508.84 L135.1,508.89 L135.5,508.96 L135.9,509.05 L136.3,509.16 L136.7,509.28 L137.1,509.42 L137.5,509.57 L137.9,509.72 L138.3,509.89 L138.7,510.06 L139.1,510.23 L139.5,510.41 L139.9,510.58 L140.3,510.76 L140.7,510.93 L141.1,511.09 L141.5,511.25 L141.9,511.4 L142.3,511.54 L142.7,511.68 L143.1,511.8 L143.5,511.92 L143.9,512.02 L144.3,512.12 L144.7,512.21 L145.1,512.29 L145.5,512.36 L145.9,512.42 L146.3,512.48 L146.7,512.53 L147.1,512.57 L147.5,512.61 L147.9,512.64 L147.9,512.8 L119.9,512.8 Z" fill="#0000ff" stroke="none"/>
<path d="M108.3,512.65 L108.7,512.64 L109.1,512.64 L109.5,512.64 L109.9,512.63 L110.3,512.63 L110.7,512.62 L111.1,512.62 L111.5,512.61 L111.9,512.61 L112.3,512.6 L112.7,512.59 L113.1,512.59 L113.5,512.58 L113.9,512.58 L114.3,512.57 L114.7,512.56 L115.1,512.55 L115.5,512.55 L115.9,512.54 L116.3,512.53 L116.7,512.52 L117.1,512.51 L117.5,512.5 L117.9,512.49 L118.3,512.48 L118.7,512.46 L119.1,512.45 L119.5,512.44 L119.9,512.42 L120.3,512.4 L120.7,512.38 L121.1,512.36 L121.5,512.34 L121.9,512.31 L122.3,512.28 L122.7,512.25 L123.1,512.2 L123.5,512.15 L123.9,512.09 L124.3,512.02 L124.7,511.92 L125.1,511.81 L125.5,511.67 L125.9,511.49 L126.3,511.28 L126.7,511.02 L127.1,510.7 L127.5,510.31 L127.9,509.84 L128.3,509.28 L128.7,508.61 L129.1,507.82 L129.5,506.89 L129.9,505.81 L130.3,504.58 L130.7,503.17 L131.1,501.57 L131.5,499.79 L131.9,497.81 L132.3,495.64 L132.7,493.29 L133.1,490.77 L133.5,488.1 L133.9,485.3 L134.3,482.41 L134.7,479.46 L135.1,476.5 L135.5,473.57 L135.9,470.74 L136.3,468.05 L136.7,465.56 L137.1,463.33 L137.5,461.42 L137.9,459.87 L138.3,458.73 L138.7,458.03 L139.1,457.8 L139.5,457.92 L139.9,458.29 L140.3,458.89 L140.7,459.72 L141.1,460.77 L141.5,462.02 L141.9,463.45 L142.3,465.04 L142.7,466.78 L143.1,468.63 L143.5,470.58 L143.9,472.62 L144.3,474.7 L144.7,476.83 L145.1,478.97 L145.5,481.1 L145.9,483.22 L146.3,485.3 L146.7,487.33 L147.1,489.3 L147.5,491.2 L147.9,493.02 L148.3,494.75 L148.7,496.38 L149.1,497.92 L149.5,499.36 L149.9,500.7 L150.3,501.94 L150.7,503.08 L151.1,504.13 L151.5,505.08 L151.9,505.94 L152.3,506.72 L152.7,507.42 L153.1,508.05 L153.5,508.61 L153.9,509.1 L154.3,509.54 L154.7,509.92 L155.1,510.26 L155.5,510.55 L155.9,510.81 L156.3,511.03 L156.7,511.22 L157.1,511.39 L157.5,511.53 L157.9,511.66 L158.3,511.76 L158.7,511.86 L159.1,511.93 L159.5,512 L159.9,512.06 L160.3,512.11 L160.7,512.15 L161.1,512.19 L161.5,512.22 L161.9,512.25 L162.3,512.28 L162.7,512.3 L163.1,512.32 L163.5,512.34 L163.9,512.36 L164.3,512.37 L164.7,512.39 L165.1,512.4 L165.5,512.41 L165.9,512.43 L166.3,512.44 L166.7,512.45 L167.1,512.46 L167.5,512.47 L167.9,512.48 L168.3,512.48 L168.7,512.49 L169.1,512.5 L169.5,512.51 L169.9,512.51 L170.3,512.52 L170.7,512.53 L171.1,512.53 L171.5,512.54 L171.9,512.55 L172.3,512.55 L172.7,512.56 L173.1,512.56 L173.5,512.57 L173.9,512.57 L174.3,512.58 L174.7,512.58 L175.1,512.59 L175.5,512.59 L175.9,512.6 L176.3,512.6 L176.7,512.61 L177.1,512.61 L177.5,512.61 L177.9,512.62 L178.3,512.62 L178.7,512.62 L179.1,512.63 L179.5,512.63 L179.9,512.63 L180.3,512.64 L180.7,512.64 L181.1,512.64 L181.5,512.65 L181.9,512.65" fill="none" stroke="#222" stroke-width="0.7"/>
<path d="M93.5,512.65 L93.9,512.64 L94.3,512.64 L94.7,512.64 L95.1,512.63 L95.5,512.63 L95.9,512.62 L96.3,512.62 L96.7,512.61 L97.1,512.61 L97.5,512.6 L97.9,512.59 L98.3,512.59 L98.7,512.58 L99.1,512.57 L99.5,512.56 L99.9,512.55 L100.3,512.53 L100.7,512.52 L101.1,512.5 L101.5,512.48 L101.9,512.46 L102.3,512.43 L102.7,512.4 L103.1,512.37 L103.5,512.33 L103.9,512.28 L104.3,512.23 L104.7,512.16 L105.1,512.08 L105.5,512 L105.9,511.89 L106.3,511.78 L106.7,511.64 L107.1,511.48 L107.5,511.3 L107.9,511.09 L108.3,510.85 L108.7,510.58 L109.1,510.27 L109.5,509.92 L109.9,509.52 L110.3,509.08 L110.7,508.58 L111.1,508.02 L111.5,507.4 L111.9,506.72 L112.3,505.97 L112.7,505.14 L113.1,504.24 L113.5,503.25 L113.9,502.18 L114.3,501.03 L114.7,499.8 L115.1,498.47 L115.5,497.07 L115.9,495.57 L116.3,494 L116.7,492.35 L117.1,490.63 L117.5,488.84 L117.9,487 L118.3,485.1 L118.7,483.16 L119.1,481.2 L119.5,479.22 L119.9,477.24 L120.3,475.27 L120.7,473.32 L121.1,471.42 L121.5,469.57 L121.9,467.8 L122.3,466.12 L122.7,464.55 L123.1,463.1 L123.5,461.78 L123.9,460.62 L124.3,459.62 L124.7,458.8 L125.1,458.16 L125.5,457.71 L125.9,457.46 L126.3,457.41 L126.7,457.56 L127.1,457.91 L127.5,458.45 L127.9,459.19 L128.3,460.1 L128.7,461.18 L129.1,462.42 L129.5,463.81 L129.9,465.32 L130.3,466.95 L130.7,468.68 L131.1,470.49 L131.5,472.36 L131.9,474.29 L132.3,476.25 L132.7,478.23 L133.1,480.21 L133.5,482.19 L133.9,484.14 L134.3,486.05 L134.7,487.93 L135.1,489.74 L135.5,491.5 L135.9,493.19 L136.3,494.8 L136.7,496.33 L137.1,497.78 L137.5,499.15 L137.9,500.43 L138.3,501.62 L138.7,502.73 L139.1,503.75 L139.5,504.7 L139.9,505.56 L140.3,506.35 L140.7,507.07 L141.1,507.72 L141.5,508.31 L141.9,508.83 L142.3,509.3 L142.7,509.72 L143.1,510.1 L143.5,510.43 L143.9,510.72 L144.3,510.97 L144.7,511.2 L145.1,511.39 L145.5,511.56 L145.9,511.71 L146.3,511.84 L146.7,511.95 L147.1,512.04 L147.5,512.12 L147.9,512.19 L148.3,512.25 L148.7,512.31 L149.1,512.35 L149.5,512.39 L149.9,512.42 L150.3,512.45 L150.7,512.47 L151.1,512.49 L151.5,512.51 L151.9,512.53 L152.3,512.54 L152.7,512.55 L153.1,512.56 L153.5,512.57 L153.9,512.58 L154.3,512.59 L154.7,512.6 L155.1,512.6 L155.5,512.61 L155.9,512.61 L156.3,512.62 L156.7,512.62 L157.1,512.63 L157.5,512.63 L157.9,512.64 L158.3,512.64 L158.7,512.65 L159.1,512.65" fill="none" stroke="#222" stroke-width="0.7"/>
<path d="M105.9,512.6 L106.3,512.51 L106.7,512.4 L107.1,512.25 L107.5,512.06 L107.9,511.81 L108.3,511.5 L108.7,511.11 L109.1,510.62 L109.5,510.03 L109.9,509.33 L110.3,508.5 L110.7,507.54 L111.1,506.45 L111.5,505.23 L111.9,503.89 L112.3,502.44 L112.7,500.9 L113.1,499.31 L113.5,497.69 L113.9,496.09 L114.3,494.55 L114.7,493.12 L115.1,491.85 L115.5,490.76 L115.9,489.92 L116.3,489.33 L116.7,489.04 L117.1,489.04 L117.5,489.33 L117.9,489.92 L118.3,490.76 L118.7,491.85 L119.1,493.12 L119.5,494.55 L119.9,496.09 L120.3,497.69 L120.7,499.31 L121.1,500.9 L121.5,502.44 L121.9,503.89 L122.3,505.23 L122.7,506.45 L123.1,507.54 L123.5,508.5 L123.9,509.33 L124.3,510.03 L124.7,510.62 L125.1,511.11 L125.5,511.5 L125.9,511.81 L126.3,512.06 L126.7,512.25 L127.1,512.4 L127.5,512.51 L127.9,512.6" fill="none" stroke="#222" stroke-width="0.7"/>
<path d="M119.9,512.64 L120.3,512.61 L120.7,512.57 L121.1,512.53 L121.5,512.48 L121.9,512.42 L122.3,512.36 L122.7,512.29 L123.1,512.21 L123.5,512.12 L123.9,512.02 L124.3,511.92 L124.7,511.8 L125.1,511.68 L125.5,511.54 L125.9,511.4 L126.3,511.25 L126.7,511.09 L127.1,510.93 L127.5,510.76 L127.9,510.58 L128.3,510.41 L128.7,510.23 L129.1,510.06 L129.5,509.89 L129.9,509.72 L130.3,509.57 L130.7,509.42 L131.1,509.28 L131.5,509.16 L131.9,509.05 L132.3,508.96 L132.7,508.89 L133.1,508.84 L133.5,508.81 L133.9,508.8 L134.3,508.81 L134.7,508.84 L135.1,508.89 L135.5,508.96 L135.9,509.05 L136.3,509.16 L136.7,509.28 L137.1,509.42 L137.5,509.57 L137.9,509.72 L138.3,509.89 L138.7,510.06 L139.1,510.23 L139.5,510.41 L139.9,510.58 L140.3,510.76 L140.7,510.93 L141.1,511.09 L141.5,511.25 L141.9,511.4 L142.3,511.54 L142.7,511.68 L143.1,511.8 L143.5,511.92 L143.9,512.02 L144.3,512.12 L144.7,512.21 L145.1,512.29 L145.5,512.36 L145.9,512.42 L146.3,512.48 L146.7,512.53 L147.1,512.57 L147.5,512.61 L147.9,512.64" fill="none" stroke="#222" stroke-width="0.7"/>
<path d="M72.3,512.52 L72.7,512.5 L73.1,512.48 L73.5,512.45 L73.9,512.42 L74.3,512.39 L74.7,512.34 L75.1,512.27 L75.5,512.18 L75.9,512.07 L76.3,511.91 L76.7,511.7 L77.1,511.41 L77.5,511.03 L77.9,510.53 L78.3,509.89 L78.7,509.06 L79.1,508.02 L79.5,506.74 L79.9,505.2 L80.3,503.36 L80.7,501.23 L81.1,498.81 L81.5,496.12 L81.9,493.21 L82.3,490.13 L82.7,486.97 L83.1,483.83 L83.5,480.83 L83.9,478.09 L84.3,475.74 L84.7,473.89 L85.1,472.66 L85.5,472.12 L85.9,472.3 L86.3,473.2 L86.7,474.74 L87.1,476.86 L87.5,479.42 L87.9,482.31 L88.3,485.39 L88.7,488.55 L89.1,491.68 L89.5,494.69 L89.9,497.5 L90.3,500.06 L90.7,502.33 L91.1,504.31 L91.5,506 L91.9,507.41 L92.3,508.57 L92.7,509.5 L93.1,510.23 L93.5,510.8 L93.9,511.24 L94.3,511.57 L94.7,511.81 L95.1,512 L95.5,512.13 L95.9,512.23 L96.3,512.31 L96.7,512.36 L97.1,512.41 L97.5,512.44 L97.9,512.47 L98.3,512.49 L98.7,512.51 L99.1,512.53 L99.5,512.54 L99.9,512.56 L100.3,512.57 L100.7,512.58 L101.1,512.59 L101.5,512.6 L101.9,512.61 L102.3,512.62 L102.7,512.63 L103.1,512.63 L103.5,512.64 L103.9,512.65" fill="none" stroke="#333" stroke-width="0.7"/>
<path d="M95.1,512.6 L95.5,512.52 L95.9,512.41 L96.3,512.27 L96.7,512.08 L97.1,511.84 L97.5,511.55 L97.9,511.18 L98.3,510.74 L98.7,510.21 L99.1,509.58 L99.5,508.87 L99.9,508.06 L100.3,507.16 L100.7,506.19 L101.1,505.15 L101.5,504.07 L101.9,502.98 L102.3,501.91 L102.7,500.88 L103.1,499.93 L103.5,499.11 L103.9,498.43 L104.3,497.92 L104.7,497.61 L105.1,497.5 L105.5,497.61 L105.9,497.92 L106.3,498.43 L106.7,499.11 L107.1,499.93 L107.5,500.88 L107.9,501.91 L108.3,502.98 L108.7,504.07 L109.1,505.15 L109.5,506.19 L109.9,507.16 L110.3,508.06 L110.7,508.87 L111.1,509.58 L111.5,510.21 L111.9,510.74 L112.3,511.18 L112.7,511.55 L113.1,511.84 L113.5,512.08 L113.9,512.27 L114.3,512.41 L114.7,512.52 L115.1,512.6" fill="none" stroke="#333" stroke-width="0.7"/>
<path d="M138.3,512.6 L138.7,512.5 L139.1,512.35 L139.5,512.14 L139.9,511.85 L140.3,511.45 L140.7,510.92 L141.1,510.23 L141.5,509.35 L141.9,508.25 L142.3,506.91 L142.7,505.32 L143.1,503.46 L143.5,501.35 L143.9,499.01 L144.3,496.5 L144.7,493.87 L145.1,491.22 L145.5,488.63 L145.9,486.22 L146.3,484.1 L146.7,482.36 L147.1,481.09 L147.5,480.37 L147.9,480.22 L148.3,480.66 L148.7,481.66 L149.1,483.17 L149.5,485.12 L149.9,487.4 L150.3,489.91 L150.7,492.54 L151.1,495.2 L151.5,497.78 L151.9,500.21 L152.3,502.43 L152.7,504.42 L153.1,506.15 L153.5,507.61 L153.9,508.83 L154.3,509.81 L154.7,510.6 L155.1,511.2 L155.5,511.66 L155.9,512 L156.3,512.25 L156.7,512.43 L157.1,512.56 L157.5,512.64" fill="none" stroke="#333" stroke-width="0.7"/>
<path d="M131.5,512.65 L131.9,512.64 L132.3,512.64 L132.7,512.63 L133.1,512.63 L133.5,512.62 L133.9,512.61 L134.3,512.61 L134.7,512.6 L135.1,512.59 L135.5,512.58 L135.9,512.56 L136.3,512.55 L136.7,512.53 L137.1,512.51 L137.5,512.49 L137.9,512.46 L138.3,512.42 L138.7,512.38 L139.1,512.33 L139.5,512.26 L139.9,512.18 L140.3,512.08 L140.7,511.97 L141.1,511.82 L141.5,511.64 L141.9,511.43 L142.3,511.18 L142.7,510.87 L143.1,510.51 L143.5,510.08 L143.9,509.58 L144.3,508.99 L144.7,508.31 L145.1,507.53 L145.5,506.63 L145.9,505.62 L146.3,504.47 L146.7,503.18 L147.1,501.76 L147.5,500.19 L147.9,498.47 L148.3,496.6 L148.7,494.59 L149.1,492.45 L149.5,490.19 L149.9,487.81 L150.3,485.35 L150.7,482.82 L151.1,480.24 L151.5,477.66 L151.9,475.09 L152.3,472.57 L152.7,470.14 L153.1,467.84 L153.5,465.7 L153.9,463.75 L154.3,462.04 L154.7,460.59 L155.1,459.43 L155.5,458.59 L155.9,458.07 L156.3,457.9 L156.7,458.07 L157.1,458.59 L157.5,459.43 L157.9,460.59 L158.3,462.04 L158.7,463.75 L159.1,465.7 L159.5,467.84 L159.9,470.14 L160.3,472.57 L160.7,475.09 L161.1,477.66 L161.5,480.24 L161.9,482.82 L162.3,485.35 L162.7,487.81 L163.1,490.19 L163.5,492.45 L163.9,494.59 L164.3,496.6 L164.7,498.47 L165.1,500.19 L165.5,501.76 L165.9,503.18 L166.3,504.47 L166.7,505.62 L167.1,506.63 L167.5,507.53 L167.9,508.31 L168.3,508.99 L168.7,509.58 L169.1,510.08 L169.5,510.51 L169.9,510.87 L170.3,511.18 L170.7,511.43 L171.1,511.64 L171.5,511.82 L171.9,511.97 L172.3,512.08 L172.7,512.18 L173.1,512.26 L173.5,512.33 L173.9,512.38 L174.3,512.42 L174.7,512.46 L175.1,512.49 L175.5,512.51 L175.9,512.53 L176.3,512.55 L176.7,512.56 L177.1,512.58 L177.5,512.59 L177.9,512.6 L178.3,512.61 L178.7,512.61 L179.1,512.62 L179.5,512.63 L179.9,512.63 L180.3,512.64 L180.7,512.64 L181.1,512.65" fill="none" stroke="#333" stroke-width="0.7"/>
<path d="M185.5,512.62 L185.9,512.57 L186.3,512.51 L186.7,512.43 L187.1,512.34 L187.5,512.23 L187.9,512.09 L188.3,511.93 L188.7,511.73 L189.1,511.51 L189.5,511.24 L189.9,510.93 L190.3,510.57 L190.7,510.15 L191.1,509.68 L191.5,509.15 L191.9,508.56 L192.3,507.9 L192.7,507.17 L193.1,506.37 L193.5,505.51 L193.9,504.58 L194.3,503.59 L194.7,502.54 L195.1,501.44 L195.5,500.3 L195.9,499.13 L196.3,497.95 L196.7,496.76 L197.1,495.58 L197.5,494.43 L197.9,493.32 L198.3,492.27 L198.7,491.3 L199.1,490.42 L199.5,489.65 L199.9,489 L200.3,488.48 L200.7,488.11 L201.1,487.88 L201.5,487.8 L201.9,487.88 L202.3,488.11 L202.7,488.48 L203.1,489 L203.5,489.65 L203.9,490.42 L204.3,491.3 L204.7,492.27 L205.1,493.32 L205.5,494.43 L205.9,495.58 L206.3,496.76 L206.7,497.95 L207.1,499.13 L207.5,500.3 L207.9,501.44 L208.3,502.54 L208.7,503.59 L209.1,504.58 L209.5,505.51 L209.9,506.37 L210.3,507.17 L210.7,507.9 L211.1,508.56 L211.5,509.15 L211.9,509.68 L212.3,510.15 L212.7,510.57 L213.1,510.93 L213.5,511.24 L213.9,511.51 L214.3,511.73 L214.7,511.93 L215.1,512.09 L215.5,512.23 L215.9,512.34 L216.3,512.43 L216.7,512.51 L217.1,512.57 L217.5,512.62" fill="none" stroke="#333" stroke-width="0.7"/>
<path d="M191.1,512.65 L191.5,512.64 L191.9,512.64 L192.3,512.63 L192.7,512.63 L193.1,512.62 L193.5,512.62 L193.9,512.61 L194.3,512.61 L194.7,512.6 L195.1,512.6 L195.5,512.59 L195.9,512.58 L196.3,512.58 L196.7,512.57 L197.1,512.56 L197.5,512.55 L197.9,512.55 L198.3,512.54 L198.7,512.53 L199.1,512.52 L199.5,512.51 L199.9,512.5 L200.3,512.48 L200.7,512.47 L201.1,512.46 L201.5,512.44 L201.9,512.43 L202.3,512.41 L202.7,512.39 L203.1,512.37 L203.5,512.35 L203.9,512.32 L204.3,512.29 L204.7,512.25 L205.1,512.21 L205.5,512.15 L205.9,512.08 L206.3,512 L206.7,511.9 L207.1,511.77 L207.5,511.61 L207.9,511.42 L208.3,511.17 L208.7,510.87 L209.1,510.51 L209.5,510.06 L209.9,509.52 L210.3,508.86 L210.7,508.09 L211.1,507.17 L211.5,506.1 L211.9,504.86 L212.3,503.43 L212.7,501.81 L213.1,499.98 L213.5,497.96 L213.9,495.73 L214.3,493.31 L214.7,490.71 L215.1,487.95 L215.5,485.07 L215.9,482.1 L216.3,479.08 L216.7,476.06 L217.1,473.1 L217.5,470.27 L217.9,467.61 L218.3,465.2 L218.7,463.1 L219.1,461.37 L219.5,460.05 L219.9,459.19 L220.3,458.82 L220.7,458.94 L221.1,459.56 L221.5,460.65 L221.9,462.19 L222.3,464.11 L222.7,466.37 L223.1,468.91 L223.5,471.67 L223.9,474.57 L224.3,477.56 L224.7,480.59 L225.1,483.59 L225.5,486.52 L225.9,489.35" fill="none" stroke="#333" stroke-width="0.7"/>
<line x1="117.1" y1="398.3" x2="117.1" y2="513.2" stroke="#b0b0b0" stroke-width="0.9" stroke-dasharray="2,2"/>
<line x1="147.8" y1="398.3" x2="147.8" y2="513.2" stroke="#b0b0b0" stroke-width="0.9" stroke-dasharray="2,2"/>
<line x1="157" y1="398.3" x2="157" y2="513.2" stroke="#b0b0b0" stroke-width="0.9" stroke-dasharray="2,2"/>
<line x1="125.8" y1="398.3" x2="125.8" y2="513.2" stroke="#ff33ff" stroke-width="1.3" stroke-dasharray="2,1.8"/>
<line x1="134.3" y1="398.3" x2="134.3" y2="513.2" stroke="#ff33ff" stroke-width="1.3" stroke-dasharray="2,1.8"/>
<line x1="139" y1="398.3" x2="139" y2="513.2" stroke="#ff33ff" stroke-width="1.3" stroke-dasharray="2,1.8"/>
<line x1="72.3" y1="512.8" x2="226.2" y2="512.8" stroke="#111" stroke-width="1.4"/>
<path d="M72.3,512.67 L73.2,508.32 L74.1,507.26 L75,507.72 L75.9,503.53 L76.8,498.31 L77.7,496.68 L78.6,491.76 L79.5,483.01 L80.4,481.3 L81.3,483.34 L82.2,479.13 L83.1,478.57 L84,474.23 L84.9,470.83 L85.8,469.24 L86.7,467.69 L87.6,475.86 L88.5,478.42 L89.4,479.34 L90.3,489.4 L91.2,488.72 L92.1,495.06 L93,498.22 L93.9,503.23 L94.8,501.23 L95.7,503.47 L96.6,499.59 L97.5,498.99 L98.4,498.77 L99.3,499.31 L100.2,495.88 L101.1,493.98 L102,493.1 L102.9,493.47 L103.8,489.26 L104.7,489.27 L105.6,486.62 L106.5,488.32 L107.4,487.62 L108.3,489.66 L109.2,483.97 L110.1,485.19 L111,483.52 L111.9,482.26 L112.8,477.23 L113.7,476.04 L114.6,475.26 L115.5,468.13 L116.4,463.55 L117.3,460.38 L118.2,461.07 L119.1,457.9 L120,453.18 L120.9,453.03 L121.8,448.1 L122.7,449.73 L123.6,443.89 L124.5,449.25 L125.4,443.49 L126.3,440.27 L127.2,439.42 L128.1,436.51 L129,431.66 L129.9,434.7 L130.8,429.4 L131.7,433.14 L132.6,428.95 L133.5,430.38 L134.4,426.56 L135.3,429.48 L136.2,427 L137.1,427.63 L138,424.82 L138.9,424.92 L139.8,427.17 L140.7,432.57 L141.6,428.75 L142.5,431.24 L143.4,430.56 L144.3,436.79 L145.2,435.28 L146.1,438.51 L147,439.03 L147.9,443.29 L148.8,441.76 L149.7,444.88 L150.6,439.35 L151.5,441.21 L152.4,443.77 L153.3,446.03 L154.2,444.77 L155.1,445.68 L156,448.76 L156.9,452.28 L157.8,454.59 L158.7,455.05 L159.6,457.2 L160.5,464.69 L161.4,466.91 L162.3,472.54 L163.2,474.02 L164.1,478.12 L165,480.56 L165.9,486.15 L166.8,488.49 L167.7,494.81 L168.6,496.16 L169.5,496.67 L170.4,497.58 L171.3,501.91 L172.2,499.56 L173.1,501.8 L174,503.85 L174.9,506.38 L175.8,505.72 L176.7,508.33 L177.6,511.87 L178.5,510.25 L179.4,510.92 L180.3,511.27 L181.2,509.57 L182.1,507.93 L183,506.46 L183.9,509.13 L184.8,507.31 L185.7,509.02 L186.6,504.82 L187.5,507.37 L188.4,505.89 L189.3,507.35 L190.2,506.5 L191.1,503.49 L192,498.09 L192.9,499.73 L193.8,497.42 L194.7,496.1 L195.6,493.44 L196.5,495.64 L197.4,490.53 L198.3,489.92 L199.2,486.59 L200.1,486.45 L201,484.75 L201.9,483.09 L202.8,483.35 L203.7,485.2 L204.6,485.5 L205.5,488 L206.4,483.08 L207.3,488.18 L208.2,487.04 L209.1,488.31 L210,484.25 L210.9,484.08 L211.8,479.7 L212.7,479.93 L213.6,474.14 L214.5,475.72 L215.4,471.23 L216.3,466.09 L217.2,465.48 L218.1,464.52 L219,461.21 L219.9,459.35 L220.8,454.82 L221.7,460.39 L222.6,459.4 L223.5,464.63 L224.4,465.49 L225.3,470.47" fill="none" stroke="#222" stroke-width="0.8"/>
<path d="M72.3,510.3 C72.75,509.48 73.7,509.43 75,505.4 C76.3,501.37 78.33,492.02 80.1,486.1 C81.87,480.18 83.92,469.9 85.6,469.9 C87.28,469.9 88.58,480.35 90.2,486.1 C91.82,491.85 93.6,502.7 95.3,504.4 C97,506.1 98.7,499 100.4,496.3 C102.1,493.6 104.23,489.63 105.5,488.2 C106.77,486.77 106.9,488.92 108,487.7 C109.1,486.48 110.73,484.77 112.1,480.9 C113.47,477.03 114.62,469.62 116.2,464.5 C117.78,459.38 120.02,454.17 121.6,450.2 C123.18,446.23 124.3,443.57 125.7,440.7 C127.1,437.83 128.28,435.25 130,433 C131.72,430.75 134.17,428.03 136,427.2 C137.83,426.37 139.08,425.87 141,428 C142.92,430.13 145.5,437.1 147.5,440 C149.5,442.9 151.25,443.47 153,445.4 C154.75,447.33 156.43,447.18 158,451.6 C159.57,456.02 160.65,464.45 162.4,471.9 C164.15,479.35 166.57,490.78 168.5,496.3 C170.43,501.82 172.37,502.67 174,505 C175.63,507.33 176.63,509.63 178.3,510.3 C179.97,510.97 182.17,509.73 184,509 C185.83,508.27 187.47,508.07 189.3,505.9 C191.13,503.73 193.15,499.33 195,496 C196.85,492.67 198.73,487.4 200.4,485.9 C202.07,484.4 203.52,486.63 205,487 C206.48,487.37 207.63,490.6 209.3,488.1 C210.97,485.6 213.15,477.17 215,472 C216.85,466.83 218.98,458.77 220.4,457.1 C221.82,455.43 222.53,459.18 223.5,462 C224.47,464.82 225.75,472 226.2,474" fill="none" stroke="#ee1111" stroke-width="1.2"/>
<path d="M72.3,410.85 L72.8,408.84 L73.3,409.81 L73.8,412.41 L74.3,406.1 L74.8,418.1 L75.3,412.45 L75.8,414.18 L76.3,412.66 L76.8,414.75 L77.3,411.87 L77.8,414.56 L78.3,414.54 L78.8,414.2 L79.3,411.58 L79.8,415.83 L80.3,413.09 L80.8,413.72 L81.3,413.73 L81.8,415.81 L82.3,409.67 L82.8,415.44 L83.3,413.65 L83.8,410.34 L84.3,416.1 L84.8,415.18 L85.3,412.89 L85.8,410.27 L86.3,411.64 L86.8,411.02 L87.3,416.91 L87.8,410.37 L88.3,414.43 L88.8,406.76 L89.3,413.14 L89.8,415.95 L90.3,412.27 L90.8,408.3 L91.3,411.74 L91.8,413.68 L92.3,411.97 L92.8,411.96 L93.3,412.72 L93.8,412.51 L94.3,410.04 L94.8,413.61 L95.3,414.9 L95.8,414.77 L96.3,410.38 L96.8,412.8 L97.3,416.82 L97.8,409.73 L98.3,414.26 L98.8,411.6 L99.3,415.22 L99.8,413.2 L100.3,415.78 L100.8,415.38 L101.3,412.69 L101.8,414.12 L102.3,412.26 L102.8,415.3 L103.3,412.54 L103.8,410.01 L104.3,411.6 L104.8,416.4 L105.3,414.46 L105.8,413.29 L106.3,411.19 L106.8,408.91 L107.3,413.55 L107.8,413.36 L108.3,409.12 L108.8,412.67 L109.3,415.49 L109.8,413.07 L110.3,412.64 L110.8,413.85 L111.3,413.78 L111.8,414.62 L112.3,411.6 L112.8,413.05 L113.3,409.03 L113.8,409.25 L114.3,412.42 L114.8,411.93 L115.3,410.67 L115.8,409.93 L116.3,415.28 L116.8,412.94 L117.3,409.25 L117.8,407.75 L118.3,415.75 L118.8,411.39 L119.3,407.41 L119.8,409.43 L120.3,413.54 L120.8,415.71 L121.3,416.83 L121.8,414.44 L122.3,411.81 L122.8,411.38 L123.3,413.8 L123.8,415.7 L124.3,412.81 L124.8,411.44 L125.3,411.46 L125.8,415.51 L126.3,412.43 L126.8,418.02 L127.3,411.82 L127.8,406.59 L128.3,410.39 L128.8,409.85 L129.3,412.14 L129.8,415.71 L130.3,410.2 L130.8,414.04 L131.3,417.33 L131.8,414.68 L132.3,414.38 L132.8,415.1 L133.3,415.54 L133.8,411.51 L134.3,414.13 L134.8,411.36 L135.3,410.39 L135.8,413.31 L136.3,411.71 L136.8,414.96 L137.3,408.24 L137.8,414.43 L138.3,413.9 L138.8,412.6 L139.3,411.27 L139.8,410.11 L140.3,412.18 L140.8,413.18 L141.3,411.38 L141.8,414.48 L142.3,410.53 L142.8,415.31 L143.3,411.38 L143.8,414.36 L144.3,411.75 L144.8,419.65 L145.3,407.53 L145.8,417.05 L146.3,414.68 L146.8,416.01 L147.3,409.07 L147.8,411.47 L148.3,407.69 L148.8,412.34 L149.3,412.14 L149.8,412.39 L150.3,411.37 L150.8,409.63 L151.3,412.92 L151.8,416.88 L152.3,413.84 L152.8,411.06 L153.3,414.04 L153.8,414.47 L154.3,410.49 L154.8,411.34 L155.3,415.28 L155.8,414.01 L156.3,409.63 L156.8,411.83 L157.3,410.12 L157.8,416.31 L158.3,411.94 L158.8,411.05 L159.3,409.53 L159.8,417.52 L160.3,413.3 L160.8,415.5 L161.3,411.69 L161.8,415.94 L162.3,413.16 L162.8,411.56 L163.3,413.14 L163.8,413.65 L164.3,414.95 L164.8,414.97 L165.3,406.74 L165.8,413.22 L166.3,409.86 L166.8,413.69 L167.3,414.58 L167.8,413.1 L168.3,412.11 L168.8,414.55 L169.3,413.42 L169.8,410.26 L170.3,414.84 L170.8,415.15 L171.3,413.7 L171.8,414.14 L172.3,411.97 L172.8,412.13 L173.3,412.91 L173.8,410.09 L174.3,416.27 L174.8,414.29 L175.3,416.81 L175.8,411.81 L176.3,416.04 L176.8,407.79 L177.3,412.41 L177.8,415.68 L178.3,412.66 L178.8,410.27 L179.3,415.39 L179.8,412.25 L180.3,413.92 L180.8,412.95 L181.3,412.36 L181.8,413.02 L182.3,406.53 L182.8,407.62 L183.3,419.56 L183.8,409.77 L184.3,412.81 L184.8,414.39 L185.3,418.06 L185.8,415.3 L186.3,413.76 L186.8,412.96 L187.3,409.76 L187.8,407.49 L188.3,411.91 L188.8,412.61 L189.3,417.35 L189.8,413.82 L190.3,411.98 L190.8,410.79 L191.3,414.84 L191.8,412.6 L192.3,416.71 L192.8,418.07 L193.3,415.05 L193.8,413.62 L194.3,414.34 L194.8,416.06 L195.3,410.88 L195.8,412.94 L196.3,411.97 L196.8,411.94 L197.3,417.18 L197.8,412.34 L198.3,413.67 L198.8,416.08 L199.3,412.36 L199.8,416.07 L200.3,412.11 L200.8,414.39 L201.3,411.83 L201.8,412.86 L202.3,417.23 L202.8,412.6 L203.3,413.28 L203.8,416.17 L204.3,413.48 L204.8,414.16 L205.3,409.83 L205.8,415.48 L206.3,418.16 L206.8,415.29 L207.3,412.79 L207.8,414.31 L208.3,407.35 L208.8,413.23 L209.3,410.1 L209.8,414.38 L210.3,415.87 L210.8,412.55 L211.3,411.86 L211.8,414.14 L212.3,409.27 L212.8,412.32 L213.3,411.42 L213.8,411.9 L214.3,419.32 L214.8,413.31 L215.3,410.98 L215.8,408.29 L216.3,414.24 L216.8,410.57 L217.3,415.31 L217.8,418.78 L218.3,413.54 L218.8,412.24 L219.3,410.77 L219.8,410.64 L220.3,416.03 L220.8,413.3 L221.3,411.2 L221.8,410.58 L222.3,412.63 L222.8,418.05 L223.3,411.84 L223.8,411.01 L224.3,413.77 L224.8,407.36 L225.3,410.29 L225.8,414.93" fill="none" stroke="#1010ff" stroke-width="1.0"/>
</g>
<line x1="69.3" y1="410" x2="72.3" y2="410" stroke="#6e6e6e" stroke-width="1"/>
<text x="62.8" y="413.6" font-size="12.9" text-anchor="end">5.6x10<tspan font-size="7" dy="-7.3">3</tspan></text>
<line x1="69.3" y1="435.8" x2="72.3" y2="435.8" stroke="#6e6e6e" stroke-width="1"/>
<text x="62.8" y="439.4" font-size="12.9" text-anchor="end">4.2x10<tspan font-size="7" dy="-7.3">3</tspan></text>
<line x1="69.3" y1="461.6" x2="72.3" y2="461.6" stroke="#6e6e6e" stroke-width="1"/>
<text x="62.8" y="466.2" font-size="12.9" text-anchor="end">2.8x10<tspan font-size="7" dy="-7.3">3</tspan></text>
<line x1="69.3" y1="487.4" x2="72.3" y2="487.4" stroke="#6e6e6e" stroke-width="1"/>
<text x="62.8" y="491" font-size="12.9" text-anchor="end">1.4x10<tspan font-size="7" dy="-7.3">3</tspan></text>
<line x1="69.3" y1="513.2" x2="72.3" y2="513.2" stroke="#6e6e6e" stroke-width="1"/>
<text x="62.8" y="516.8" font-size="12.9" text-anchor="end">0.0</text>
<line x1="70.3" y1="422.9" x2="72.3" y2="422.9" stroke="#6e6e6e" stroke-width="1"/>
<line x1="70.3" y1="448.7" x2="72.3" y2="448.7" stroke="#6e6e6e" stroke-width="1"/>
<line x1="70.3" y1="474.5" x2="72.3" y2="474.5" stroke="#6e6e6e" stroke-width="1"/>
<line x1="70.3" y1="500.3" x2="72.3" y2="500.3" stroke="#6e6e6e" stroke-width="1"/>
<rect x="72.3" y="286" width="153.9" height="227.2" fill="none" stroke="#6e6e6e" stroke-width="1.3"/>
<line x1="72.3" y1="398.3" x2="226.2" y2="398.3" stroke="#6e6e6e" stroke-width="1"/>
<line x1="72.3" y1="513.2" x2="72.3" y2="516.2" stroke="#6e6e6e" stroke-width="1"/>
<text x="72.3" y="529" font-size="12.3" text-anchor="middle">1400</text>
<line x1="87.69" y1="513.2" x2="87.69" y2="515.2" stroke="#6e6e6e" stroke-width="1"/>
<line x1="103.08" y1="513.2" x2="103.08" y2="516.2" stroke="#6e6e6e" stroke-width="1"/>
<text x="103.08" y="529" font-size="12.3" text-anchor="middle">1350</text>
<line x1="118.47" y1="513.2" x2="118.47" y2="515.2" stroke="#6e6e6e" stroke-width="1"/>
<line x1="133.86" y1="513.2" x2="133.86" y2="516.2" stroke="#6e6e6e" stroke-width="1"/>
<text x="133.86" y="529" font-size="12.3" text-anchor="middle">1300</text>
<line x1="149.25" y1="513.2" x2="149.25" y2="515.2" stroke="#6e6e6e" stroke-width="1"/>
<line x1="164.64" y1="513.2" x2="164.64" y2="516.2" stroke="#6e6e6e" stroke-width="1"/>
<text x="164.64" y="529" font-size="12.3" text-anchor="middle">1250</text>
<line x1="180.03" y1="513.2" x2="180.03" y2="515.2" stroke="#6e6e6e" stroke-width="1"/>
<line x1="195.42" y1="513.2" x2="195.42" y2="516.2" stroke="#6e6e6e" stroke-width="1"/>
<text x="195.42" y="529" font-size="12.3" text-anchor="middle">1200</text>
<line x1="210.81" y1="513.2" x2="210.81" y2="515.2" stroke="#6e6e6e" stroke-width="1"/>
<line x1="226.2" y1="513.2" x2="226.2" y2="516.2" stroke="#6e6e6e" stroke-width="1"/>
<text x="226.2" y="529" font-size="12.3" text-anchor="middle">1150</text>
<text x="149.25" y="546.4" font-size="13.2" text-anchor="middle">Wavenumber (cm<tspan font-size="7" dy="-6">-1</tspan><tspan dy="6">)</tspan></text>
<text transform="translate(11.3,340.6) rotate(-90)" font-size="13" text-anchor="middle">Absorbance</text>
<text transform="translate(10.4,457.4) rotate(-90)" font-size="13" text-anchor="middle">Intensity (counts)</text>
<text x="2" y="296.5" font-size="24.7" style="font-family:'Liberation Sans', sans-serif" fill="#000" stroke="#000" stroke-width="0.35">C</text>
<clipPath id="clipDT"><rect x="322.6" y="284" width="153.4" height="111.8"/></clipPath>
<g clip-path="url(#clipDT)">
<path d="M353.8,391.04 L354.2,391.02 L354.6,390.99 L355,390.96 L355.4,390.92 L355.8,390.88 L356.2,390.83 L356.6,390.78 L357,390.72 L357.4,390.65 L357.8,390.57 L358.2,390.49 L358.6,390.39 L359,390.29 L359.4,390.17 L359.8,390.05 L360.2,389.91 L360.6,389.75 L361,389.58 L361.4,389.4 L361.8,389.2 L362.2,388.98 L362.6,388.74 L363,388.49 L363.4,388.21 L363.8,387.91 L364.2,387.59 L364.6,387.25 L365,386.89 L365.4,386.5 L365.8,386.09 L366.2,385.66 L366.6,385.2 L367,384.72 L367.4,384.22 L367.8,383.69 L368.2,383.14 L368.6,382.57 L369,381.98 L369.4,381.38 L369.8,380.75 L370.2,380.12 L370.6,379.46 L371,378.8 L371.4,378.13 L371.8,377.46 L372.2,376.78 L372.6,376.1 L373,375.42 L373.4,374.75 L373.8,374.09 L374.2,373.44 L374.6,372.81 L375,372.2 L375.4,371.61 L375.8,371.05 L376.2,370.52 L376.6,370.02 L377,369.55 L377.4,369.13 L377.8,368.75 L378.2,368.41 L378.6,368.12 L379,367.87 L379.4,367.68 L379.8,367.53 L380.2,367.44 L380.6,367.4 L381,367.41 L381.4,367.48 L381.8,367.6 L382.2,367.77 L382.6,367.99 L383,368.26 L383.4,368.57 L383.8,368.93 L384.2,369.34 L384.6,369.78 L385,370.26 L385.4,370.78 L385.8,371.33 L386.2,371.9 L386.6,372.5 L387,373.12 L387.4,373.76 L387.8,374.42 L388.2,375.08 L388.6,375.76 L389,376.44 L389.4,377.12 L389.8,377.79 L390.2,378.47 L390.6,379.13 L391,379.79 L391.4,380.44 L391.8,381.07 L392.2,381.68 L392.6,382.28 L393,382.86 L393.4,383.42 L393.8,383.96 L394.2,384.47 L394.6,384.96 L395,385.43 L395.4,385.88 L395.8,386.3 L396.2,386.7 L396.6,387.07 L397,387.43 L397.4,387.76 L397.8,388.06 L398.2,388.35 L398.6,388.62 L399,388.86 L399.4,389.09 L399.8,389.3 L400.2,389.49 L400.6,389.67 L401,389.83 L401.4,389.98 L401.8,390.11 L402.2,390.23 L402.6,390.34 L403,390.44 L403.4,390.53 L403.8,390.61 L404.2,390.68 L404.6,390.75 L405,390.8 L405.4,390.85 L405.8,390.9 L406.2,390.94 L406.6,390.97 L407,391 L407.4,391.03 L407.4,391.2 L353.8,391.2 Z" fill="#c3c3c3" stroke="none"/>
<path d="M375.8,391.05 L376.2,391.03 L376.6,391.02 L377,391 L377.4,390.97 L377.8,390.95 L378.2,390.91 L378.6,390.87 L379,390.82 L379.4,390.76 L379.8,390.7 L380.2,390.61 L380.6,390.52 L381,390.41 L381.4,390.28 L381.8,390.13 L382.2,389.95 L382.6,389.75 L383,389.52 L383.4,389.26 L383.8,388.96 L384.2,388.63 L384.6,388.25 L385,387.83 L385.4,387.37 L385.8,386.86 L386.2,386.29 L386.6,385.68 L387,385.02 L387.4,384.31 L387.8,383.55 L388.2,382.74 L388.6,381.88 L389,380.99 L389.4,380.06 L389.8,379.1 L390.2,378.12 L390.6,377.12 L391,376.11 L391.4,375.11 L391.8,374.12 L392.2,373.15 L392.6,372.21 L393,371.32 L393.4,370.49 L393.8,369.72 L394.2,369.04 L394.6,368.43 L395,367.93 L395.4,367.53 L395.8,367.24 L396.2,367.06 L396.6,367 L397,367.03 L397.4,367.12 L397.8,367.27 L398.2,367.48 L398.6,367.75 L399,368.07 L399.4,368.44 L399.8,368.86 L400.2,369.33 L400.6,369.84 L401,370.39 L401.4,370.97 L401.8,371.59 L402.2,372.23 L402.6,372.9 L403,373.58 L403.4,374.28 L403.8,374.99 L404.2,375.71 L404.6,376.43 L405,377.15 L405.4,377.87 L405.8,378.57 L406.2,379.27 L406.6,379.96 L407,380.63 L407.4,381.29 L407.8,381.92 L408.2,382.54 L408.6,383.13 L409,383.69 L409.4,384.24 L409.8,384.76 L410.2,385.25 L410.6,385.72 L411,386.16 L411.4,386.57 L411.8,386.96 L412.2,387.33 L412.6,387.67 L413,387.98 L413.4,388.28 L413.8,388.55 L414.2,388.8 L414.6,389.03 L415,389.24 L415.4,389.43 L415.8,389.61 L416.2,389.77 L416.6,389.91 L417,390.04 L417.4,390.16 L417.8,390.27 L418.2,390.37 L418.6,390.45 L419,390.53 L419.4,390.6 L419.8,390.66 L420.2,390.71 L420.6,390.76 L421,390.8 L421.4,390.84 L421.8,390.87 L422.2,390.9 L422.6,390.93 L423,390.95 L423.4,390.97 L423.8,390.99 L424.2,391.01 L424.6,391.02 L425,391.03 L425.4,391.04 L425.4,391.2 L375.8,391.2 Z" fill="#ff0000" stroke="none"/>
<path d="M379,391.03 L379.4,390.96 L379.8,390.87 L380.2,390.76 L380.6,390.62 L381,390.47 L381.4,390.29 L381.8,390.1 L382.2,389.9 L382.6,389.7 L383,389.52 L383.4,389.36 L383.8,389.23 L384.2,389.14 L384.6,389.1 L385,389.11 L385.4,389.18 L385.8,389.29 L386.2,389.43 L386.6,389.61 L387,389.8 L387.4,390 L387.8,390.2 L388.2,390.38 L388.6,390.55 L389,390.69 L389.4,390.82 L389.8,390.92 L390.2,391 L390.2,391.2 L379,391.2 Z" fill="#0000ff" stroke="none"/>
<path d="M353.8,391.04 L354.2,391.02 L354.6,390.99 L355,390.96 L355.4,390.92 L355.8,390.88 L356.2,390.83 L356.6,390.78 L357,390.72 L357.4,390.65 L357.8,390.57 L358.2,390.49 L358.6,390.39 L359,390.29 L359.4,390.17 L359.8,390.05 L360.2,389.91 L360.6,389.75 L361,389.58 L361.4,389.4 L361.8,389.2 L362.2,388.98 L362.6,388.74 L363,388.49 L363.4,388.21 L363.8,387.91 L364.2,387.59 L364.6,387.25 L365,386.89 L365.4,386.5 L365.8,386.09 L366.2,385.66 L366.6,385.2 L367,384.72 L367.4,384.22 L367.8,383.69 L368.2,383.14 L368.6,382.57 L369,381.98 L369.4,381.38 L369.8,380.75 L370.2,380.12 L370.6,379.46 L371,378.8 L371.4,378.13 L371.8,377.46 L372.2,376.78 L372.6,376.1 L373,375.42 L373.4,374.75 L373.8,374.09 L374.2,373.44 L374.6,372.81 L375,372.2 L375.4,371.61 L375.8,371.05 L376.2,370.52 L376.6,370.02 L377,369.55 L377.4,369.13 L377.8,368.75 L378.2,368.41 L378.6,368.12 L379,367.87 L379.4,367.68 L379.8,367.53 L380.2,367.44 L380.6,367.4 L381,367.41 L381.4,367.48 L381.8,367.6 L382.2,367.77 L382.6,367.99 L383,368.26 L383.4,368.57 L383.8,368.93 L384.2,369.34 L384.6,369.78 L385,370.26 L385.4,370.78 L385.8,371.33 L386.2,371.9 L386.6,372.5 L387,373.12 L387.4,373.76 L387.8,374.42 L388.2,375.08 L388.6,375.76 L389,376.44 L389.4,377.12 L389.8,377.79 L390.2,378.47 L390.6,379.13 L391,379.79 L391.4,380.44 L391.8,381.07 L392.2,381.68 L392.6,382.28 L393,382.86 L393.4,383.42 L393.8,383.96 L394.2,384.47 L394.6,384.96 L395,385.43 L395.4,385.88 L395.8,386.3 L396.2,386.7 L396.6,387.07 L397,387.43 L397.4,387.76 L397.8,388.06 L398.2,388.35 L398.6,388.62 L399,388.86 L399.4,389.09 L399.8,389.3 L400.2,389.49 L400.6,389.67 L401,389.83 L401.4,389.98 L401.8,390.11 L402.2,390.23 L402.6,390.34 L403,390.44 L403.4,390.53 L403.8,390.61 L404.2,390.68 L404.6,390.75 L405,390.8 L405.4,390.85 L405.8,390.9 L406.2,390.94 L406.6,390.97 L407,391 L407.4,391.03" fill="none" stroke="#222" stroke-width="0.7"/>
<path d="M375.8,391.05 L376.2,391.03 L376.6,391.02 L377,391 L377.4,390.97 L377.8,390.95 L378.2,390.91 L378.6,390.87 L379,390.82 L379.4,390.76 L379.8,390.7 L380.2,390.61 L380.6,390.52 L381,390.41 L381.4,390.28 L381.8,390.13 L382.2,389.95 L382.6,389.75 L383,389.52 L383.4,389.26 L383.8,388.96 L384.2,388.63 L384.6,388.25 L385,387.83 L385.4,387.37 L385.8,386.86 L386.2,386.29 L386.6,385.68 L387,385.02 L387.4,384.31 L387.8,383.55 L388.2,382.74 L388.6,381.88 L389,380.99 L389.4,380.06 L389.8,379.1 L390.2,378.12 L390.6,377.12 L391,376.11 L391.4,375.11 L391.8,374.12 L392.2,373.15 L392.6,372.21 L393,371.32 L393.4,370.49 L393.8,369.72 L394.2,369.04 L394.6,368.43 L395,367.93 L395.4,367.53 L395.8,367.24 L396.2,367.06 L396.6,367 L397,367.03 L397.4,367.12 L397.8,367.27 L398.2,367.48 L398.6,367.75 L399,368.07 L399.4,368.44 L399.8,368.86 L400.2,369.33 L400.6,369.84 L401,370.39 L401.4,370.97 L401.8,371.59 L402.2,372.23 L402.6,372.9 L403,373.58 L403.4,374.28 L403.8,374.99 L404.2,375.71 L404.6,376.43 L405,377.15 L405.4,377.87 L405.8,378.57 L406.2,379.27 L406.6,379.96 L407,380.63 L407.4,381.29 L407.8,381.92 L408.2,382.54 L408.6,383.13 L409,383.69 L409.4,384.24 L409.8,384.76 L410.2,385.25 L410.6,385.72 L411,386.16 L411.4,386.57 L411.8,386.96 L412.2,387.33 L412.6,387.67 L413,387.98 L413.4,388.28 L413.8,388.55 L414.2,388.8 L414.6,389.03 L415,389.24 L415.4,389.43 L415.8,389.61 L416.2,389.77 L416.6,389.91 L417,390.04 L417.4,390.16 L417.8,390.27 L418.2,390.37 L418.6,390.45 L419,390.53 L419.4,390.6 L419.8,390.66 L420.2,390.71 L420.6,390.76 L421,390.8 L421.4,390.84 L421.8,390.87 L422.2,390.9 L422.6,390.93 L423,390.95 L423.4,390.97 L423.8,390.99 L424.2,391.01 L424.6,391.02 L425,391.03 L425.4,391.04" fill="none" stroke="#222" stroke-width="0.7"/>
<path d="M379,391.03 L379.4,390.96 L379.8,390.87 L380.2,390.76 L380.6,390.62 L381,390.47 L381.4,390.29 L381.8,390.1 L382.2,389.9 L382.6,389.7 L383,389.52 L383.4,389.36 L383.8,389.23 L384.2,389.14 L384.6,389.1 L385,389.11 L385.4,389.18 L385.8,389.29 L386.2,389.43 L386.6,389.61 L387,389.8 L387.4,390 L387.8,390.2 L388.2,390.38 L388.6,390.55 L389,390.69 L389.4,390.82 L389.8,390.92 L390.2,391" fill="none" stroke="#222" stroke-width="0.7"/>
<path d="M322.6,378.84 L323,377.25 L323.4,375.48 L323.8,373.51 L324.2,371.34 L324.6,368.95 L325,366.35 L325.4,363.53 L325.8,360.5 L326.2,357.26 L326.6,353.81 L327,350.18 L327.4,346.39 L327.8,342.45 L328.2,338.41 L328.6,334.28 L329,330.11 L329.4,325.95 L329.8,321.83 L330.2,317.82 L330.6,313.97 L331,310.34 L331.4,306.99 L331.8,303.97 L332.2,301.34 L332.6,299.17 L333,297.49 L333.4,296.35 L333.8,295.77 L334.2,295.77 L334.6,296.35 L335,297.49 L335.4,299.17 L335.8,301.34 L336.2,303.97 L336.6,306.99 L337,310.34 L337.4,313.97 L337.8,317.82 L338.2,321.83 L338.6,325.95 L339,330.11 L339.4,334.28 L339.8,338.41 L340.2,342.45 L340.6,346.39 L341,350.18 L341.4,353.81 L341.8,357.26 L342.2,360.5 L342.6,363.53 L343,366.35 L343.4,368.95 L343.8,371.34 L344.2,373.51 L344.6,375.48 L345,377.25 L345.4,378.84 L345.8,380.25 L346.2,381.5 L346.6,382.6 L347,383.57 L347.4,384.42 L347.8,385.16 L348.2,385.8 L348.6,386.36 L349,386.83 L349.4,387.25 L349.8,387.6 L350.2,387.91 L350.6,388.17 L351,388.4 L351.4,388.6 L351.8,388.77 L352.2,388.92 L352.6,389.05 L353,389.17 L353.4,389.27 L353.8,389.36 L354.2,389.45 L354.6,389.52 L355,389.59 L355.4,389.65 L355.8,389.71 L356.2,389.76 L356.6,389.81 L357,389.86 L357.4,389.9 L357.8,389.95 L358.2,389.98 L358.6,390.02 L359,390.06 L359.4,390.09 L359.8,390.12 L360.2,390.16 L360.6,390.19 L361,390.21 L361.4,390.24 L361.8,390.27 L362.2,390.29 L362.6,390.32 L363,390.34 L363.4,390.36 L363.8,390.38 L364.2,390.4 L364.6,390.42 L365,390.44 L365.4,390.46 L365.8,390.48 L366.2,390.5 L366.6,390.51 L367,390.53 L367.4,390.54 L367.8,390.56 L368.2,390.57 L368.6,390.59 L369,390.6 L369.4,390.61 L369.8,390.63 L370.2,390.64 L370.6,390.65 L371,390.66 L371.4,390.67 L371.8,390.68 L372.2,390.69 L372.6,390.7 L373,390.71 L373.4,390.72 L373.8,390.73 L374.2,390.74 L374.6,390.75 L375,390.76 L375.4,390.77 L375.8,390.78 L376.2,390.78 L376.6,390.79 L377,390.8 L377.4,390.81 L377.8,390.81 L378.2,390.82 L378.6,390.83 L379,390.83 L379.4,390.84 L379.8,390.85 L380.2,390.85 L380.6,390.86 L381,390.86 L381.4,390.87 L381.8,390.87 L382.2,390.88 L382.6,390.88 L383,390.89 L383.4,390.89 L383.8,390.9 L384.2,390.9 L384.6,390.91 L385,390.91 L385.4,390.92 L385.8,390.92 L386.2,390.93 L386.6,390.93 L387,390.93 L387.4,390.94 L387.8,390.94 L388.2,390.95 L388.6,390.95 L389,390.95 L389.4,390.96 L389.8,390.96 L390.2,390.96 L390.6,390.97 L391,390.97 L391.4,390.97 L391.8,390.98 L392.2,390.98 L392.6,390.98 L393,390.98 L393.4,390.99 L393.8,390.99 L394.2,390.99 L394.6,391 L395,391 L395.4,391 L395.8,391 L396.2,391.01 L396.6,391.01 L397,391.01 L397.4,391.01 L397.8,391.02 L398.2,391.02 L398.6,391.02 L399,391.02 L399.4,391.02 L399.8,391.03 L400.2,391.03 L400.6,391.03 L401,391.03 L401.4,391.03 L401.8,391.04 L402.2,391.04 L402.6,391.04 L403,391.04 L403.4,391.04 L403.8,391.05 L404.2,391.05 L404.6,391.05" fill="none" stroke="#333" stroke-width="0.7"/>
<path d="M341.8,391.03 L342.2,390.96 L342.6,390.88 L343,390.76 L343.4,390.62 L343.8,390.44 L344.2,390.22 L344.6,389.95 L345,389.62 L345.4,389.24 L345.8,388.81 L346.2,388.32 L346.6,387.77 L347,387.18 L347.4,386.55 L347.8,385.9 L348.2,385.23 L348.6,384.58 L349,383.95 L349.4,383.38 L349.8,382.88 L350.2,382.46 L350.6,382.15 L351,381.96 L351.4,381.9 L351.8,381.96 L352.2,382.15 L352.6,382.46 L353,382.88 L353.4,383.38 L353.8,383.95 L354.2,384.58 L354.6,385.23 L355,385.9 L355.4,386.55 L355.8,387.18 L356.2,387.77 L356.6,388.32 L357,388.81 L357.4,389.24 L357.8,389.62 L358.2,389.95 L358.6,390.22 L359,390.44 L359.4,390.62 L359.8,390.76 L360.2,390.88 L360.6,390.96 L361,391.03" fill="none" stroke="#333" stroke-width="0.7"/>
<path d="M349.4,391.05 L349.8,391.04 L350.2,391.02 L350.6,391.01 L351,390.99 L351.4,390.97 L351.8,390.94 L352.2,390.92 L352.6,390.88 L353,390.85 L353.4,390.81 L353.8,390.76 L354.2,390.7 L354.6,390.64 L355,390.57 L355.4,390.49 L355.8,390.39 L356.2,390.29 L356.6,390.17 L357,390.04 L357.4,389.89 L357.8,389.73 L358.2,389.55 L358.6,389.34 L359,389.12 L359.4,388.87 L359.8,388.6 L360.2,388.31 L360.6,387.99 L361,387.64 L361.4,387.26 L361.8,386.85 L362.2,386.42 L362.6,385.95 L363,385.45 L363.4,384.93 L363.8,384.37 L364.2,383.79 L364.6,383.18 L365,382.54 L365.4,381.88 L365.8,381.19 L366.2,380.49 L366.6,379.77 L367,379.04 L367.4,378.29 L367.8,377.55 L368.2,376.8 L368.6,376.05 L369,375.32 L369.4,374.59 L369.8,373.89 L370.2,373.21 L370.6,372.56 L371,371.95 L371.4,371.37 L371.8,370.84 L372.2,370.36 L372.6,369.93 L373,369.56 L373.4,369.26 L373.8,369.02 L374.2,368.84 L374.6,368.74 L375,368.7 L375.4,368.74 L375.8,368.84 L376.2,369.02 L376.6,369.26 L377,369.56 L377.4,369.93 L377.8,370.36 L378.2,370.84 L378.6,371.37 L379,371.95 L379.4,372.56 L379.8,373.21 L380.2,373.89 L380.6,374.59 L381,375.32 L381.4,376.05 L381.8,376.8 L382.2,377.55 L382.6,378.29 L383,379.04 L383.4,379.77 L383.8,380.49 L384.2,381.19 L384.6,381.88 L385,382.54 L385.4,383.18 L385.8,383.79 L386.2,384.37 L386.6,384.93 L387,385.45 L387.4,385.95 L387.8,386.42 L388.2,386.85 L388.6,387.26 L389,387.64 L389.4,387.99 L389.8,388.31 L390.2,388.6 L390.6,388.87 L391,389.12 L391.4,389.34 L391.8,389.55 L392.2,389.73 L392.6,389.89 L393,390.04 L393.4,390.17 L393.8,390.29 L394.2,390.39 L394.6,390.49 L395,390.57 L395.4,390.64 L395.8,390.7 L396.2,390.76 L396.6,390.81 L397,390.85 L397.4,390.88 L397.8,390.92 L398.2,390.94 L398.6,390.97 L399,390.99 L399.4,391.01 L399.8,391.02 L400.2,391.04 L400.6,391.05" fill="none" stroke="#333" stroke-width="0.7"/>
<path d="M386.6,391.04 L387,391.01 L387.4,390.97 L387.8,390.93 L388.2,390.87 L388.6,390.8 L389,390.71 L389.4,390.6 L389.8,390.47 L390.2,390.3 L390.6,390.09 L391,389.85 L391.4,389.55 L391.8,389.21 L392.2,388.8 L392.6,388.33 L393,387.78 L393.4,387.17 L393.8,386.48 L394.2,385.72 L394.6,384.88 L395,383.97 L395.4,383 L395.8,381.98 L396.2,380.91 L396.6,379.82 L397,378.72 L397.4,377.62 L397.8,376.56 L398.2,375.55 L398.6,374.62 L399,373.78 L399.4,373.06 L399.8,372.48 L400.2,372.05 L400.6,371.79 L401,371.7 L401.4,371.79 L401.8,372.05 L402.2,372.48 L402.6,373.06 L403,373.78 L403.4,374.62 L403.8,375.55 L404.2,376.56 L404.6,377.62 L405,378.72 L405.4,379.82 L405.8,380.91 L406.2,381.98 L406.6,383 L407,383.97 L407.4,384.88 L407.8,385.72 L408.2,386.48 L408.6,387.17 L409,387.78 L409.4,388.33 L409.8,388.8 L410.2,389.21 L410.6,389.55 L411,389.85 L411.4,390.09 L411.8,390.3 L412.2,390.47 L412.6,390.6 L413,390.71 L413.4,390.8 L413.8,390.87 L414.2,390.93 L414.6,390.97 L415,391.01 L415.4,391.04" fill="none" stroke="#333" stroke-width="0.7"/>
<path d="M408.2,391.05 L408.6,390.98 L409,390.89 L409.4,390.76 L409.8,390.59 L410.2,390.38 L410.6,390.1 L411,389.77 L411.4,389.36 L411.8,388.89 L412.2,388.34 L412.6,387.72 L413,387.05 L413.4,386.34 L413.8,385.61 L414.2,384.88 L414.6,384.19 L415,383.56 L415.4,383.02 L415.8,382.6 L416.2,382.33 L416.6,382.21 L417,382.25 L417.4,382.45 L417.8,382.8 L418.2,383.28 L418.6,383.86 L419,384.53 L419.4,385.24 L419.8,385.97 L420.2,386.7 L420.6,387.39 L421,388.04 L421.4,388.62 L421.8,389.13 L422.2,389.57 L422.6,389.94 L423,390.25 L423.4,390.49 L423.8,390.68 L424.2,390.83 L424.6,390.94 L425,391.02" fill="none" stroke="#333" stroke-width="0.7"/>
<path d="M410.2,391.03 L410.6,391 L411,390.96 L411.4,390.92 L411.8,390.88 L412.2,390.82 L412.6,390.77 L413,390.7 L413.4,390.63 L413.8,390.55 L414.2,390.46 L414.6,390.36 L415,390.25 L415.4,390.13 L415.8,390 L416.2,389.86 L416.6,389.7 L417,389.54 L417.4,389.36 L417.8,389.17 L418.2,388.97 L418.6,388.76 L419,388.54 L419.4,388.3 L419.8,388.06 L420.2,387.81 L420.6,387.55 L421,387.28 L421.4,387.01 L421.8,386.74 L422.2,386.46 L422.6,386.19 L423,385.92 L423.4,385.65 L423.8,385.39 L424.2,385.14 L424.6,384.9 L425,384.67 L425.4,384.46 L425.8,384.26 L426.2,384.08 L426.6,383.93 L427,383.8 L427.4,383.69 L427.8,383.6 L428.2,383.54 L428.6,383.51 L429,383.5 L429.4,383.52 L429.8,383.57 L430.2,383.64 L430.6,383.74 L431,383.86 L431.4,384 L431.8,384.17 L432.2,384.36 L432.6,384.56 L433,384.78 L433.4,385.02 L433.8,385.26 L434.2,385.52 L434.6,385.78 L435,386.05 L435.4,386.33 L435.8,386.6 L436.2,386.88 L436.6,387.15 L437,387.42 L437.4,387.68 L437.8,387.93 L438.2,388.18 L438.6,388.42 L439,388.65 L439.4,388.87 L439.8,389.07 L440.2,389.27 L440.6,389.45 L441,389.62 L441.4,389.78 L441.8,389.93 L442.2,390.07 L442.6,390.19 L443,390.31 L443.4,390.41 L443.8,390.5 L444.2,390.59 L444.6,390.67 L445,390.74 L445.4,390.8 L445.8,390.85 L446.2,390.9 L446.6,390.94 L447,390.98 L447.4,391.01 L447.8,391.04" fill="none" stroke="#333" stroke-width="0.7"/>
<path d="M444.2,391.01 L444.6,390.93 L445,390.82 L445.4,390.68 L445.8,390.49 L446.2,390.27 L446.6,390.02 L447,389.72 L447.4,389.4 L447.8,389.06 L448.2,388.72 L448.6,388.4 L449,388.1 L449.4,387.87 L449.8,387.7 L450.2,387.61 L450.6,387.61 L451,387.7 L451.4,387.87 L451.8,388.1 L452.2,388.4 L452.6,388.72 L453,389.06 L453.4,389.4 L453.8,389.72 L454.2,390.02 L454.6,390.27 L455,390.49 L455.4,390.68 L455.8,390.82 L456.2,390.93 L456.6,391.01" fill="none" stroke="#333" stroke-width="0.7"/>
<path d="M409.4,391.05 L409.8,391.05 L410.2,391.05 L410.6,391.04 L411,391.04 L411.4,391.04 L411.8,391.04 L412.2,391.03 L412.6,391.03 L413,391.03 L413.4,391.03 L413.8,391.02 L414.2,391.02 L414.6,391.02 L415,391.02 L415.4,391.01 L415.8,391.01 L416.2,391.01 L416.6,391.01 L417,391 L417.4,391 L417.8,391 L418.2,390.99 L418.6,390.99 L419,390.99 L419.4,390.98 L419.8,390.98 L420.2,390.98 L420.6,390.97 L421,390.97 L421.4,390.96 L421.8,390.96 L422.2,390.96 L422.6,390.95 L423,390.95 L423.4,390.94 L423.8,390.94 L424.2,390.93 L424.6,390.93 L425,390.92 L425.4,390.92 L425.8,390.91 L426.2,390.91 L426.6,390.9 L427,390.9 L427.4,390.89 L427.8,390.89 L428.2,390.88 L428.6,390.87 L429,390.87 L429.4,390.86 L429.8,390.85 L430.2,390.85 L430.6,390.84 L431,390.83 L431.4,390.82 L431.8,390.81 L432.2,390.81 L432.6,390.8 L433,390.79 L433.4,390.78 L433.8,390.77 L434.2,390.76 L434.6,390.75 L435,390.74 L435.4,390.73 L435.8,390.72 L436.2,390.71 L436.6,390.69 L437,390.68 L437.4,390.67 L437.8,390.66 L438.2,390.64 L438.6,390.63 L439,390.61 L439.4,390.59 L439.8,390.58 L440.2,390.56 L440.6,390.54 L441,390.52 L441.4,390.5 L441.8,390.48 L442.2,390.45 L442.6,390.43 L443,390.4 L443.4,390.37 L443.8,390.33 L444.2,390.29 L444.6,390.25 L445,390.2 L445.4,390.15 L445.8,390.09 L446.2,390.03 L446.6,389.95 L447,389.87 L447.4,389.77 L447.8,389.66 L448.2,389.54 L448.6,389.39 L449,389.23 L449.4,389.04 L449.8,388.83 L450.2,388.59 L450.6,388.31 L451,388 L451.4,387.65 L451.8,387.25 L452.2,386.81 L452.6,386.31 L453,385.74 L453.4,385.12 L453.8,384.43 L454.2,383.66 L454.6,382.81 L455,381.88 L455.4,380.87 L455.8,379.76 L456.2,378.56 L456.6,377.26 L457,375.87 L457.4,374.38 L457.8,372.8 L458.2,371.12 L458.6,369.35 L459,367.5 L459.4,365.56 L459.8,363.55 L460.2,361.48 L460.6,359.35 L461,357.18 L461.4,354.99 L461.8,352.78 L462.2,350.57 L462.6,348.38 L463,346.24 L463.4,344.15 L463.8,342.14 L464.2,340.23 L464.6,338.44 L465,336.79 L465.4,335.3 L465.8,333.99 L466.2,332.89 L466.6,331.99 L467,331.32 L467.4,330.89 L467.8,330.71 L468.2,330.77 L468.6,331.08 L469,331.63 L469.4,332.41 L469.8,333.41 L470.2,334.62 L470.6,336.02 L471,337.6 L471.4,339.32 L471.8,341.17 L472.2,343.13 L472.6,345.19 L473,347.31 L473.4,349.47 L473.8,351.67 L474.2,353.88 L474.6,356.09 L475,358.27 L475.4,360.42 L475.8,362.52" fill="none" stroke="#333" stroke-width="0.7"/>
<line x1="374.6" y1="284" x2="374.6" y2="395.8" stroke="#b0b0b0" stroke-width="0.9" stroke-dasharray="2,2"/>
<line x1="400.5" y1="284" x2="400.5" y2="395.8" stroke="#b0b0b0" stroke-width="0.9" stroke-dasharray="2,2"/>
<line x1="416.7" y1="284" x2="416.7" y2="395.8" stroke="#b0b0b0" stroke-width="0.9" stroke-dasharray="2,2"/>
<line x1="381.1" y1="284" x2="381.1" y2="395.8" stroke="#ff33ff" stroke-width="1.3" stroke-dasharray="2,1.8"/>
<line x1="385.9" y1="284" x2="385.9" y2="395.8" stroke="#ff33ff" stroke-width="1.3" stroke-dasharray="2,1.8"/>
<line x1="396.6" y1="284" x2="396.6" y2="395.8" stroke="#ff33ff" stroke-width="1.3" stroke-dasharray="2,1.8"/>
<line x1="322.6" y1="391.2" x2="476" y2="391.2" stroke="#111" stroke-width="1.6"/>
<path d="M322.6,375.4 C323.17,372 324.85,363.9 326,355 C327.15,346.1 328.5,330.83 329.5,322 C330.5,313.17 331.25,306.55 332,302 C332.75,297.45 333.33,295.03 334,294.7 C334.67,294.37 335.25,295.78 336,300 C336.75,304.22 337.83,315 338.5,320 C339.17,325 339.35,324.27 340,330 C340.65,335.73 341.58,347.9 342.4,354.4 C343.22,360.9 343.67,365.35 344.9,369 C346.13,372.65 348.18,374.4 349.8,376.3 C351.42,378.2 352.98,379.32 354.6,380.4 C356.22,381.48 358.1,383.03 359.5,382.8 C360.9,382.57 361.92,380.75 363,379 C364.08,377.25 364.68,375.87 366,372.3 C367.32,368.73 369.27,361.8 370.9,357.6 C372.53,353.4 374.17,349.58 375.8,347.1 C377.43,344.62 379.08,342.57 380.7,342.7 C382.32,342.83 383.88,345.82 385.5,347.9 C387.12,349.98 388.9,354.12 390.4,355.2 C391.9,356.28 393.02,355.57 394.5,354.4 C395.98,353.23 397.95,347.93 399.3,348.2 C400.65,348.47 401.37,352.53 402.6,356 C403.83,359.47 405.35,365.2 406.7,369 C408.05,372.8 409.35,377.03 410.7,378.8 C412.05,380.57 413.72,379.87 414.8,379.6 C415.88,379.33 416.33,377.2 417.2,377.2 C418.07,377.2 418.87,378.72 420,379.6 C421.13,380.48 422.52,382.27 424,382.5 C425.48,382.73 427.23,381 428.9,381 C430.57,381 432.12,382.07 434,382.5 C435.88,382.93 438.03,383.68 440.2,383.6 C442.37,383.52 444.95,382.85 447,382 C449.05,381.15 450.92,380.5 452.5,378.5 C454.08,376.5 455.13,374.1 456.5,370 C457.87,365.9 459.45,359.07 460.7,353.9 C461.95,348.73 462.8,342.93 464,339 C465.2,335.07 466.65,330.47 467.9,330.3 C469.15,330.13 470.48,334.88 471.5,338 C472.52,341.12 473.25,345.67 474,349 C474.75,352.33 475.67,356.5 476,358" fill="none" stroke="#ee2222" stroke-width="1.3"/>
<path d="M322.6,291.69 L323.6,291.7 L324.6,291.81 L325.6,291.93 L326.6,291.93 L327.6,291.77 L328.6,291.55 L329.6,291.46 L330.6,291.61 L331.6,291.93 L332.6,292.26 L333.6,292.4 L334.6,292.29 L335.6,292.01 L336.6,291.74 L337.6,291.61 L338.6,291.61 L339.6,291.63 L340.6,291.58 L341.6,291.45 L342.6,291.38 L343.6,291.47 L344.6,291.74 L345.6,292.06 L346.6,292.24 L347.6,292.17 L348.6,291.91 L349.6,291.64 L350.6,291.53 L351.6,291.64 L352.6,291.87 L353.6,292.04 L354.6,292.07 L355.6,291.97 L356.6,291.87 L357.6,291.87 L358.6,291.94 L359.6,291.97 L360.6,291.84 L361.6,291.55 L362.6,291.26 L363.6,291.14 L364.6,291.3 L365.6,291.66 L366.6,292.02 L367.6,292.21 L368.6,292.17 L369.6,292.01 L370.6,291.89 L371.6,291.88 L372.6,291.95 L373.6,291.96 L374.6,291.85 L375.6,291.67 L376.6,291.55 L377.6,291.61 L378.6,291.83 L379.6,292.07 L380.6,292.15 L381.6,291.98 L382.6,291.65 L383.6,291.36 L384.6,291.27 L385.6,291.4 L386.6,291.64 L387.6,291.83 L388.6,291.89 L389.6,291.89 L390.6,291.93 L391.6,292.07 L392.6,292.25 L393.6,292.32 L394.6,292.17 L395.6,291.84 L396.6,291.49 L397.6,291.33 L398.6,291.42 L399.6,291.68 L400.6,291.92 L401.6,291.99 L402.6,291.88 L403.6,291.71 L404.6,291.62 L405.6,291.67 L406.6,291.76 L407.6,291.79 L408.6,291.71 L409.6,291.58 L410.6,291.56 L411.6,291.74 L412.6,292.07 L413.6,292.37 L414.6,292.45 L415.6,292.27 L416.6,291.92 L417.6,291.6 L418.6,291.46 L419.6,291.5 L420.6,291.61 L421.6,291.64 L422.6,291.59 L423.6,291.54 L424.6,291.6 L425.6,291.8 L426.6,292.04 L427.6,292.15 L428.6,292.04 L429.6,291.77 L430.6,291.52 L431.6,291.47 L432.6,291.65 L433.6,291.95 L434.6,292.19 L435.6,292.23 L436.6,292.09 L437.6,291.92 L438.6,291.82 L439.6,291.81 L440.6,291.81 L441.6,291.7 L442.6,291.48 L443.6,291.26 L444.6,291.22 L445.6,291.42 L446.6,291.79 L447.6,292.14 L448.6,292.27 L449.6,292.16 L450.6,291.93 L451.6,291.74 L452.6,291.72 L453.6,291.82 L454.6,291.92 L455.6,291.9 L456.6,291.8 L457.6,291.71 L458.6,291.75 L459.6,291.92 L460.6,292.09 L461.6,292.09 L462.6,291.87 L463.6,291.52 L464.6,291.23 L465.6,291.18 L466.6,291.39 L467.6,291.71 L468.6,291.96 L469.6,292.05 L470.6,292.02 L471.6,291.98 L472.6,292.03 L473.6,292.13 L474.6,292.17 L475.6,292.03" fill="none" stroke="#5a5aff" stroke-width="1.2"/>
</g>
<line x1="319.6" y1="295" x2="322.6" y2="295" stroke="#6e6e6e" stroke-width="1"/>
<text x="318.2" y="299.6" font-size="12.9" text-anchor="end">3.6x10<tspan font-size="7" dy="-7.3">-4</tspan></text>
<line x1="319.6" y1="319.1" x2="322.6" y2="319.1" stroke="#6e6e6e" stroke-width="1"/>
<text x="318.2" y="323.7" font-size="12.9" text-anchor="end">2.7x10<tspan font-size="7" dy="-7.3">-4</tspan></text>
<line x1="319.6" y1="343.2" x2="322.6" y2="343.2" stroke="#6e6e6e" stroke-width="1"/>
<text x="318.2" y="347.8" font-size="12.9" text-anchor="end">1.8x10<tspan font-size="7" dy="-7.3">-4</tspan></text>
<line x1="319.6" y1="367.2" x2="322.6" y2="367.2" stroke="#6e6e6e" stroke-width="1"/>
<text x="318.2" y="371.8" font-size="12.9" text-anchor="end">9.0x10<tspan font-size="7" dy="-7.3">-5</tspan></text>
<line x1="319.6" y1="391.3" x2="322.6" y2="391.3" stroke="#6e6e6e" stroke-width="1"/>
<text x="318.2" y="394.9" font-size="12.9" text-anchor="end">0.0</text>
<line x1="320.6" y1="307.05" x2="322.6" y2="307.05" stroke="#6e6e6e" stroke-width="1"/>
<line x1="320.6" y1="331.15" x2="322.6" y2="331.15" stroke="#6e6e6e" stroke-width="1"/>
<line x1="320.6" y1="355.25" x2="322.6" y2="355.25" stroke="#6e6e6e" stroke-width="1"/>
<line x1="320.6" y1="379.25" x2="322.6" y2="379.25" stroke="#6e6e6e" stroke-width="1"/>
<clipPath id="clipDB"><rect x="322.6" y="395.8" width="153.4" height="115.7"/></clipPath>
<g clip-path="url(#clipDB)">
<path d="M374.2,511.05 L374.6,511.04 L375,511.03 L375.4,511.03 L375.8,511.02 L376.2,511.01 L376.6,510.99 L377,510.98 L377.4,510.96 L377.8,510.94 L378.2,510.91 L378.6,510.87 L379,510.83 L379.4,510.78 L379.8,510.72 L380.2,510.64 L380.6,510.55 L381,510.44 L381.4,510.3 L381.8,510.14 L382.2,509.94 L382.6,509.7 L383,509.42 L383.4,509.09 L383.8,508.7 L384.2,508.24 L384.6,507.72 L385,507.11 L385.4,506.41 L385.8,505.62 L386.2,504.73 L386.6,503.74 L387,502.63 L387.4,501.41 L387.8,500.08 L388.2,498.63 L388.6,497.07 L389,495.41 L389.4,493.65 L389.8,491.81 L390.2,489.9 L390.6,487.94 L391,485.94 L391.4,483.93 L391.8,481.94 L392.2,479.99 L392.6,478.1 L393,476.31 L393.4,474.65 L393.8,473.14 L394.2,471.81 L394.6,470.69 L395,469.79 L395.4,469.13 L395.8,468.73 L396.2,468.6 L396.6,468.67 L397,468.87 L397.4,469.2 L397.8,469.65 L398.2,470.24 L398.6,470.93 L399,471.74 L399.4,472.65 L399.8,473.66 L400.2,474.75 L400.6,475.91 L401,477.14 L401.4,478.43 L401.8,479.76 L402.2,481.13 L402.6,482.52 L403,483.93 L403.4,485.35 L403.8,486.76 L404.2,488.17 L404.6,489.56 L405,490.92 L405.4,492.25 L405.8,493.55 L406.2,494.8 L406.6,496.01 L407,497.17 L407.4,498.27 L407.8,499.33 L408.2,500.32 L408.6,501.26 L409,502.14 L409.4,502.97 L409.8,503.74 L410.2,504.45 L410.6,505.11 L411,505.72 L411.4,506.28 L411.8,506.79 L412.2,507.26 L412.6,507.68 L413,508.07 L413.4,508.41 L413.8,508.72 L414.2,509 L414.6,509.25 L415,509.48 L415.4,509.67 L415.8,509.85 L416.2,510 L416.6,510.14 L417,510.26 L417.4,510.36 L417.8,510.45 L418.2,510.53 L418.6,510.6 L419,510.66 L419.4,510.72 L419.8,510.76 L420.2,510.8 L420.6,510.84 L421,510.87 L421.4,510.89 L421.8,510.91 L422.2,510.93 L422.6,510.95 L423,510.96 L423.4,510.98 L423.8,510.99 L424.2,511 L424.6,511.01 L425,511.02 L425.4,511.02 L425.8,511.03 L426.2,511.03 L426.6,511.04 L427,511.04 L427.4,511.05 L427.4,511.2 L374.2,511.2 Z" fill="#ff0000" stroke="none"/>
<path d="M361.4,511.05 L361.8,510.99 L362.2,510.92 L362.6,510.83 L363,510.7 L363.4,510.55 L363.8,510.36 L364.2,510.13 L364.6,509.84 L365,509.5 L365.4,509.1 L365.8,508.62 L366.2,508.08 L366.6,507.46 L367,506.77 L367.4,506 L367.8,505.18 L368.2,504.29 L368.6,503.36 L369,502.41 L369.4,501.45 L369.8,500.49 L370.2,499.58 L370.6,498.72 L371,497.94 L371.4,497.28 L371.8,496.73 L372.2,496.33 L372.6,496.08 L373,496 L373.4,496.08 L373.8,496.33 L374.2,496.73 L374.6,497.28 L375,497.94 L375.4,498.72 L375.8,499.58 L376.2,500.49 L376.6,501.45 L377,502.41 L377.4,503.36 L377.8,504.29 L378.2,505.18 L378.6,506 L379,506.77 L379.4,507.46 L379.8,508.08 L380.2,508.62 L380.6,509.1 L381,509.5 L381.4,509.84 L381.8,510.13 L382.2,510.36 L382.6,510.55 L383,510.7 L383.4,510.83 L383.8,510.92 L384.2,510.99 L384.6,511.05 L384.6,511.2 L361.4,511.2 Z" fill="#c3c3c3" stroke="none"/>
<path d="M353.8,511.04 L354.2,511.03 L354.6,511.02 L355,511 L355.4,510.99 L355.8,510.97 L356.2,510.94 L356.6,510.91 L357,510.88 L357.4,510.84 L357.8,510.79 L358.2,510.74 L358.6,510.67 L359,510.6 L359.4,510.52 L359.8,510.42 L360.2,510.3 L360.6,510.17 L361,510.02 L361.4,509.85 L361.8,509.65 L362.2,509.43 L362.6,509.17 L363,508.88 L363.4,508.56 L363.8,508.2 L364.2,507.79 L364.6,507.34 L365,506.84 L365.4,506.29 L365.8,505.68 L366.2,505.02 L366.6,504.29 L367,503.49 L367.4,502.64 L367.8,501.71 L368.2,500.71 L368.6,499.65 L369,498.51 L369.4,497.31 L369.8,496.04 L370.2,494.7 L370.6,493.31 L371,491.85 L371.4,490.35 L371.8,488.79 L372.2,487.2 L372.6,485.58 L373,483.93 L373.4,482.27 L373.8,480.61 L374.2,478.96 L374.6,477.32 L375,475.72 L375.4,474.17 L375.8,472.67 L376.2,471.24 L376.6,469.89 L377,468.64 L377.4,467.5 L377.8,466.47 L378.2,465.56 L378.6,464.8 L379,464.17 L379.4,463.7 L379.8,463.38 L380.2,463.22 L380.6,463.22 L381,463.38 L381.4,463.7 L381.8,464.17 L382.2,464.8 L382.6,465.56 L383,466.47 L383.4,467.5 L383.8,468.64 L384.2,469.89 L384.6,471.24 L385,472.67 L385.4,474.17 L385.8,475.72 L386.2,477.32 L386.6,478.96 L387,480.61 L387.4,482.27 L387.8,483.93 L388.2,485.58 L388.6,487.2 L389,488.79 L389.4,490.35 L389.8,491.85 L390.2,493.31 L390.6,494.7 L391,496.04 L391.4,497.31 L391.8,498.51 L392.2,499.65 L392.6,500.71 L393,501.71 L393.4,502.64 L393.8,503.49 L394.2,504.29 L394.6,505.02 L395,505.68 L395.4,506.29 L395.8,506.84 L396.2,507.34 L396.6,507.79 L397,508.2 L397.4,508.56 L397.8,508.88 L398.2,509.17 L398.6,509.43 L399,509.65 L399.4,509.85 L399.8,510.02 L400.2,510.17 L400.6,510.3 L401,510.42 L401.4,510.52 L401.8,510.6 L402.2,510.67 L402.6,510.74 L403,510.79 L403.4,510.84 L403.8,510.88 L404.2,510.91 L404.6,510.94 L405,510.97 L405.4,510.99 L405.8,511 L406.2,511.02 L406.6,511.03 L407,511.04 L407,511.2 L353.8,511.2 Z" fill="#c3c3c3" stroke="none"/>
<path d="M374.2,511.02 L374.6,510.98 L375,510.93 L375.4,510.88 L375.8,510.81 L376.2,510.74 L376.6,510.67 L377,510.58 L377.4,510.49 L377.8,510.39 L378.2,510.28 L378.6,510.17 L379,510.06 L379.4,509.95 L379.8,509.83 L380.2,509.72 L380.6,509.62 L381,509.52 L381.4,509.43 L381.8,509.35 L382.2,509.29 L382.6,509.24 L383,509.21 L383.4,509.2 L383.8,509.2 L384.2,509.23 L384.6,509.27 L385,509.32 L385.4,509.39 L385.8,509.47 L386.2,509.57 L386.6,509.67 L387,509.78 L387.4,509.89 L387.8,510 L388.2,510.12 L388.6,510.23 L389,510.34 L389.4,510.44 L389.8,510.53 L390.2,510.62 L390.6,510.71 L391,510.78 L391.4,510.85 L391.8,510.9 L392.2,510.95 L392.6,511 L393,511.04 L393,511.2 L374.2,511.2 Z" fill="#0000ff" stroke="none"/>
<path d="M374.2,511.05 L374.6,511.04 L375,511.03 L375.4,511.03 L375.8,511.02 L376.2,511.01 L376.6,510.99 L377,510.98 L377.4,510.96 L377.8,510.94 L378.2,510.91 L378.6,510.87 L379,510.83 L379.4,510.78 L379.8,510.72 L380.2,510.64 L380.6,510.55 L381,510.44 L381.4,510.3 L381.8,510.14 L382.2,509.94 L382.6,509.7 L383,509.42 L383.4,509.09 L383.8,508.7 L384.2,508.24 L384.6,507.72 L385,507.11 L385.4,506.41 L385.8,505.62 L386.2,504.73 L386.6,503.74 L387,502.63 L387.4,501.41 L387.8,500.08 L388.2,498.63 L388.6,497.07 L389,495.41 L389.4,493.65 L389.8,491.81 L390.2,489.9 L390.6,487.94 L391,485.94 L391.4,483.93 L391.8,481.94 L392.2,479.99 L392.6,478.1 L393,476.31 L393.4,474.65 L393.8,473.14 L394.2,471.81 L394.6,470.69 L395,469.79 L395.4,469.13 L395.8,468.73 L396.2,468.6 L396.6,468.67 L397,468.87 L397.4,469.2 L397.8,469.65 L398.2,470.24 L398.6,470.93 L399,471.74 L399.4,472.65 L399.8,473.66 L400.2,474.75 L400.6,475.91 L401,477.14 L401.4,478.43 L401.8,479.76 L402.2,481.13 L402.6,482.52 L403,483.93 L403.4,485.35 L403.8,486.76 L404.2,488.17 L404.6,489.56 L405,490.92 L405.4,492.25 L405.8,493.55 L406.2,494.8 L406.6,496.01 L407,497.17 L407.4,498.27 L407.8,499.33 L408.2,500.32 L408.6,501.26 L409,502.14 L409.4,502.97 L409.8,503.74 L410.2,504.45 L410.6,505.11 L411,505.72 L411.4,506.28 L411.8,506.79 L412.2,507.26 L412.6,507.68 L413,508.07 L413.4,508.41 L413.8,508.72 L414.2,509 L414.6,509.25 L415,509.48 L415.4,509.67 L415.8,509.85 L416.2,510 L416.6,510.14 L417,510.26 L417.4,510.36 L417.8,510.45 L418.2,510.53 L418.6,510.6 L419,510.66 L419.4,510.72 L419.8,510.76 L420.2,510.8 L420.6,510.84 L421,510.87 L421.4,510.89 L421.8,510.91 L422.2,510.93 L422.6,510.95 L423,510.96 L423.4,510.98 L423.8,510.99 L424.2,511 L424.6,511.01 L425,511.02 L425.4,511.02 L425.8,511.03 L426.2,511.03 L426.6,511.04 L427,511.04 L427.4,511.05" fill="none" stroke="#222" stroke-width="0.7"/>
<path d="M361.4,511.05 L361.8,510.99 L362.2,510.92 L362.6,510.83 L363,510.7 L363.4,510.55 L363.8,510.36 L364.2,510.13 L364.6,509.84 L365,509.5 L365.4,509.1 L365.8,508.62 L366.2,508.08 L366.6,507.46 L367,506.77 L367.4,506 L367.8,505.18 L368.2,504.29 L368.6,503.36 L369,502.41 L369.4,501.45 L369.8,500.49 L370.2,499.58 L370.6,498.72 L371,497.94 L371.4,497.28 L371.8,496.73 L372.2,496.33 L372.6,496.08 L373,496 L373.4,496.08 L373.8,496.33 L374.2,496.73 L374.6,497.28 L375,497.94 L375.4,498.72 L375.8,499.58 L376.2,500.49 L376.6,501.45 L377,502.41 L377.4,503.36 L377.8,504.29 L378.2,505.18 L378.6,506 L379,506.77 L379.4,507.46 L379.8,508.08 L380.2,508.62 L380.6,509.1 L381,509.5 L381.4,509.84 L381.8,510.13 L382.2,510.36 L382.6,510.55 L383,510.7 L383.4,510.83 L383.8,510.92 L384.2,510.99 L384.6,511.05" fill="none" stroke="#222" stroke-width="0.7"/>
<path d="M353.8,511.04 L354.2,511.03 L354.6,511.02 L355,511 L355.4,510.99 L355.8,510.97 L356.2,510.94 L356.6,510.91 L357,510.88 L357.4,510.84 L357.8,510.79 L358.2,510.74 L358.6,510.67 L359,510.6 L359.4,510.52 L359.8,510.42 L360.2,510.3 L360.6,510.17 L361,510.02 L361.4,509.85 L361.8,509.65 L362.2,509.43 L362.6,509.17 L363,508.88 L363.4,508.56 L363.8,508.2 L364.2,507.79 L364.6,507.34 L365,506.84 L365.4,506.29 L365.8,505.68 L366.2,505.02 L366.6,504.29 L367,503.49 L367.4,502.64 L367.8,501.71 L368.2,500.71 L368.6,499.65 L369,498.51 L369.4,497.31 L369.8,496.04 L370.2,494.7 L370.6,493.31 L371,491.85 L371.4,490.35 L371.8,488.79 L372.2,487.2 L372.6,485.58 L373,483.93 L373.4,482.27 L373.8,480.61 L374.2,478.96 L374.6,477.32 L375,475.72 L375.4,474.17 L375.8,472.67 L376.2,471.24 L376.6,469.89 L377,468.64 L377.4,467.5 L377.8,466.47 L378.2,465.56 L378.6,464.8 L379,464.17 L379.4,463.7 L379.8,463.38 L380.2,463.22 L380.6,463.22 L381,463.38 L381.4,463.7 L381.8,464.17 L382.2,464.8 L382.6,465.56 L383,466.47 L383.4,467.5 L383.8,468.64 L384.2,469.89 L384.6,471.24 L385,472.67 L385.4,474.17 L385.8,475.72 L386.2,477.32 L386.6,478.96 L387,480.61 L387.4,482.27 L387.8,483.93 L388.2,485.58 L388.6,487.2 L389,488.79 L389.4,490.35 L389.8,491.85 L390.2,493.31 L390.6,494.7 L391,496.04 L391.4,497.31 L391.8,498.51 L392.2,499.65 L392.6,500.71 L393,501.71 L393.4,502.64 L393.8,503.49 L394.2,504.29 L394.6,505.02 L395,505.68 L395.4,506.29 L395.8,506.84 L396.2,507.34 L396.6,507.79 L397,508.2 L397.4,508.56 L397.8,508.88 L398.2,509.17 L398.6,509.43 L399,509.65 L399.4,509.85 L399.8,510.02 L400.2,510.17 L400.6,510.3 L401,510.42 L401.4,510.52 L401.8,510.6 L402.2,510.67 L402.6,510.74 L403,510.79 L403.4,510.84 L403.8,510.88 L404.2,510.91 L404.6,510.94 L405,510.97 L405.4,510.99 L405.8,511 L406.2,511.02 L406.6,511.03 L407,511.04" fill="none" stroke="#222" stroke-width="0.7"/>
<path d="M374.2,511.02 L374.6,510.98 L375,510.93 L375.4,510.88 L375.8,510.81 L376.2,510.74 L376.6,510.67 L377,510.58 L377.4,510.49 L377.8,510.39 L378.2,510.28 L378.6,510.17 L379,510.06 L379.4,509.95 L379.8,509.83 L380.2,509.72 L380.6,509.62 L381,509.52 L381.4,509.43 L381.8,509.35 L382.2,509.29 L382.6,509.24 L383,509.21 L383.4,509.2 L383.8,509.2 L384.2,509.23 L384.6,509.27 L385,509.32 L385.4,509.39 L385.8,509.47 L386.2,509.57 L386.6,509.67 L387,509.78 L387.4,509.89 L387.8,510 L388.2,510.12 L388.6,510.23 L389,510.34 L389.4,510.44 L389.8,510.53 L390.2,510.62 L390.6,510.71 L391,510.78 L391.4,510.85 L391.8,510.9 L392.2,510.95 L392.6,511 L393,511.04" fill="none" stroke="#222" stroke-width="0.7"/>
<path d="M322.6,510.02 L323,509.78 L323.4,509.49 L323.8,509.14 L324.2,508.72 L324.6,508.24 L325,507.67 L325.4,507.02 L325.8,506.27 L326.2,505.41 L326.6,504.45 L327,503.38 L327.4,502.19 L327.8,500.89 L328.2,499.48 L328.6,497.97 L329,496.36 L329.4,494.66 L329.8,492.9 L330.2,491.1 L330.6,489.27 L331,487.43 L331.4,485.63 L331.8,483.89 L332.2,482.23 L332.6,480.69 L333,479.31 L333.4,478.1 L333.8,477.1 L334.2,476.33 L334.6,475.8 L335,475.53 L335.4,475.53 L335.8,475.8 L336.2,476.33 L336.6,477.1 L337,478.1 L337.4,479.31 L337.8,480.69 L338.2,482.23 L338.6,483.89 L339,485.63 L339.4,487.43 L339.8,489.27 L340.2,491.1 L340.6,492.9 L341,494.66 L341.4,496.36 L341.8,497.97 L342.2,499.48 L342.6,500.89 L343,502.19 L343.4,503.38 L343.8,504.45 L344.2,505.41 L344.6,506.27 L345,507.02 L345.4,507.67 L345.8,508.24 L346.2,508.72 L346.6,509.14 L347,509.49 L347.4,509.78 L347.8,510.02 L348.2,510.22 L348.6,510.39 L349,510.52 L349.4,510.63 L349.8,510.72 L350.2,510.79 L350.6,510.85 L351,510.9 L351.4,510.93 L351.8,510.96 L352.2,510.99 L352.6,511 L353,511.02 L353.4,511.03 L353.8,511.04" fill="none" stroke="#333" stroke-width="0.7"/>
<path d="M339,511.04 L339.4,511.01 L339.8,510.97 L340.2,510.94 L340.6,510.9 L341,510.85 L341.4,510.79 L341.8,510.73 L342.2,510.66 L342.6,510.58 L343,510.5 L343.4,510.4 L343.8,510.29 L344.2,510.17 L344.6,510.04 L345,509.89 L345.4,509.73 L345.8,509.55 L346.2,509.35 L346.6,509.14 L347,508.92 L347.4,508.67 L347.8,508.4 L348.2,508.12 L348.6,507.81 L349,507.49 L349.4,507.14 L349.8,506.77 L350.2,506.39 L350.6,505.98 L351,505.56 L351.4,505.12 L351.8,504.66 L352.2,504.19 L352.6,503.7 L353,503.2 L353.4,502.69 L353.8,502.18 L354.2,501.66 L354.6,501.13 L355,500.61 L355.4,500.09 L355.8,499.58 L356.2,499.07 L356.6,498.58 L357,498.11 L357.4,497.65 L357.8,497.22 L358.2,496.81 L358.6,496.43 L359,496.08 L359.4,495.77 L359.8,495.49 L360.2,495.26 L360.6,495.06 L361,494.9 L361.4,494.79 L361.8,494.72 L362.2,494.7 L362.6,494.72 L363,494.79 L363.4,494.9 L363.8,495.06 L364.2,495.26 L364.6,495.49 L365,495.77 L365.4,496.08 L365.8,496.43 L366.2,496.81 L366.6,497.22 L367,497.65 L367.4,498.11 L367.8,498.58 L368.2,499.07 L368.6,499.58 L369,500.09 L369.4,500.61 L369.8,501.13 L370.2,501.66 L370.6,502.18 L371,502.69 L371.4,503.2 L371.8,503.7 L372.2,504.19 L372.6,504.66 L373,505.12 L373.4,505.56 L373.8,505.98 L374.2,506.39 L374.6,506.77 L375,507.14 L375.4,507.49 L375.8,507.81 L376.2,508.12 L376.6,508.4 L377,508.67 L377.4,508.92 L377.8,509.14 L378.2,509.35 L378.6,509.55 L379,509.73 L379.4,509.89 L379.8,510.04 L380.2,510.17 L380.6,510.29 L381,510.4 L381.4,510.5 L381.8,510.58 L382.2,510.66 L382.6,510.73 L383,510.79 L383.4,510.85 L383.8,510.9 L384.2,510.94 L384.6,510.97 L385,511.01 L385.4,511.04" fill="none" stroke="#333" stroke-width="0.7"/>
<path d="M386.6,511.05 L387,511.03 L387.4,511.02 L387.8,511 L388.2,510.98 L388.6,510.95 L389,510.91 L389.4,510.86 L389.8,510.8 L390.2,510.72 L390.6,510.62 L391,510.49 L391.4,510.33 L391.8,510.13 L392.2,509.89 L392.6,509.59 L393,509.23 L393.4,508.79 L393.8,508.26 L394.2,507.64 L394.6,506.91 L395,506.07 L395.4,505.11 L395.8,504.01 L396.2,502.78 L396.6,501.42 L397,499.92 L397.4,498.3 L397.8,496.57 L398.2,494.74 L398.6,492.84 L399,490.89 L399.4,488.92 L399.8,486.97 L400.2,485.08 L400.6,483.27 L401,481.61 L401.4,480.11 L401.8,478.83 L402.2,477.79 L402.6,477.02 L403,476.56 L403.4,476.4 L403.8,476.56 L404.2,477.02 L404.6,477.79 L405,478.83 L405.4,480.11 L405.8,481.61 L406.2,483.27 L406.6,485.08 L407,486.97 L407.4,488.92 L407.8,490.89 L408.2,492.84 L408.6,494.74 L409,496.57 L409.4,498.3 L409.8,499.92 L410.2,501.42 L410.6,502.78 L411,504.01 L411.4,505.11 L411.8,506.07 L412.2,506.91 L412.6,507.64 L413,508.26 L413.4,508.79 L413.8,509.23 L414.2,509.59 L414.6,509.89 L415,510.13 L415.4,510.33 L415.8,510.49 L416.2,510.62 L416.6,510.72 L417,510.8 L417.4,510.86 L417.8,510.91 L418.2,510.95 L418.6,510.98 L419,511 L419.4,511.02 L419.8,511.03 L420.2,511.05" fill="none" stroke="#333" stroke-width="0.7"/>
<path d="M391.8,511.04 L392.2,511.01 L392.6,510.97 L393,510.94 L393.4,510.9 L393.8,510.85 L394.2,510.79 L394.6,510.73 L395,510.66 L395.4,510.58 L395.8,510.5 L396.2,510.4 L396.6,510.29 L397,510.17 L397.4,510.04 L397.8,509.89 L398.2,509.73 L398.6,509.55 L399,509.35 L399.4,509.14 L399.8,508.92 L400.2,508.67 L400.6,508.4 L401,508.12 L401.4,507.81 L401.8,507.49 L402.2,507.14 L402.6,506.77 L403,506.39 L403.4,505.98 L403.8,505.56 L404.2,505.12 L404.6,504.66 L405,504.19 L405.4,503.7 L405.8,503.2 L406.2,502.69 L406.6,502.18 L407,501.66 L407.4,501.13 L407.8,500.61 L408.2,500.09 L408.6,499.58 L409,499.07 L409.4,498.58 L409.8,498.11 L410.2,497.65 L410.6,497.22 L411,496.81 L411.4,496.43 L411.8,496.08 L412.2,495.77 L412.6,495.49 L413,495.26 L413.4,495.06 L413.8,494.9 L414.2,494.79 L414.6,494.72 L415,494.7 L415.4,494.72 L415.8,494.79 L416.2,494.9 L416.6,495.06 L417,495.26 L417.4,495.49 L417.8,495.77 L418.2,496.08 L418.6,496.43 L419,496.81 L419.4,497.22 L419.8,497.65 L420.2,498.11 L420.6,498.58 L421,499.07 L421.4,499.58 L421.8,500.09 L422.2,500.61 L422.6,501.13 L423,501.66 L423.4,502.18 L423.8,502.69 L424.2,503.2 L424.6,503.7 L425,504.19 L425.4,504.66 L425.8,505.12 L426.2,505.56 L426.6,505.98 L427,506.39 L427.4,506.77 L427.8,507.14 L428.2,507.49 L428.6,507.81 L429,508.12 L429.4,508.4 L429.8,508.67 L430.2,508.92 L430.6,509.14 L431,509.35 L431.4,509.55 L431.8,509.73 L432.2,509.89 L432.6,510.04 L433,510.17 L433.4,510.29 L433.8,510.4 L434.2,510.5 L434.6,510.58 L435,510.66 L435.4,510.73 L435.8,510.79 L436.2,510.85 L436.6,510.9 L437,510.94 L437.4,510.97 L437.8,511.01 L438.2,511.04" fill="none" stroke="#333" stroke-width="0.7"/>
<path d="M453.8,511.05 L454.2,511.03 L454.6,511.02 L455,511 L455.4,510.97 L455.8,510.94 L456.2,510.9 L456.6,510.85 L457,510.78 L457.4,510.7 L457.8,510.59 L458.2,510.46 L458.6,510.29 L459,510.08 L459.4,509.82 L459.8,509.51 L460.2,509.13 L460.6,508.67 L461,508.13 L461.4,507.49 L461.8,506.75 L462.2,505.89 L462.6,504.92 L463,503.81 L463.4,502.58 L463.8,501.23 L464.2,499.75 L464.6,498.16 L465,496.47 L465.4,494.7 L465.8,492.87 L466.2,491.01 L466.6,489.15 L467,487.32 L467.4,485.56 L467.8,483.91 L468.2,482.4 L468.6,481.08 L469,479.98 L469.4,479.12 L469.8,478.53 L470.2,478.24 L470.6,478.24 L471,478.53 L471.4,479.12 L471.8,479.98 L472.2,481.08 L472.6,482.4 L473,483.91 L473.4,485.56 L473.8,487.32 L474.2,489.15 L474.6,491.01 L475,492.87 L475.4,494.7 L475.8,496.47" fill="none" stroke="#333" stroke-width="0.7"/>
<path d="M438.6,511.05 L439,511.03 L439.4,511 L439.8,510.97 L440.2,510.94 L440.6,510.91 L441,510.87 L441.4,510.82 L441.8,510.78 L442.2,510.72 L442.6,510.66 L443,510.59 L443.4,510.52 L443.8,510.44 L444.2,510.35 L444.6,510.25 L445,510.15 L445.4,510.03 L445.8,509.9 L446.2,509.76 L446.6,509.61 L447,509.45 L447.4,509.27 L447.8,509.08 L448.2,508.87 L448.6,508.65 L449,508.42 L449.4,508.16 L449.8,507.89 L450.2,507.61 L450.6,507.3 L451,506.98 L451.4,506.63 L451.8,506.27 L452.2,505.89 L452.6,505.49 L453,505.08 L453.4,504.64 L453.8,504.19 L454.2,503.72 L454.6,503.23 L455,502.72 L455.4,502.2 L455.8,501.67 L456.2,501.12 L456.6,500.56 L457,499.99 L457.4,499.41 L457.8,498.82 L458.2,498.23 L458.6,497.63 L459,497.04 L459.4,496.44 L459.8,495.85 L460.2,495.26 L460.6,494.68 L461,494.11 L461.4,493.55 L461.8,493.01 L462.2,492.49 L462.6,491.98 L463,491.5 L463.4,491.04 L463.8,490.61 L464.2,490.21 L464.6,489.85 L465,489.51 L465.4,489.21 L465.8,488.95 L466.2,488.72 L466.6,488.53 L467,488.39 L467.4,488.28 L467.8,488.22 L468.2,488.2 L468.6,488.22 L469,488.28 L469.4,488.39 L469.8,488.53 L470.2,488.72 L470.6,488.95 L471,489.21 L471.4,489.51 L471.8,489.85 L472.2,490.21 L472.6,490.61 L473,491.04 L473.4,491.5 L473.8,491.98 L474.2,492.49 L474.6,493.01 L475,493.55 L475.4,494.11 L475.8,494.68" fill="none" stroke="#333" stroke-width="0.7"/>
<line x1="373.6" y1="395.8" x2="373.6" y2="511.5" stroke="#b0b0b0" stroke-width="0.9" stroke-dasharray="2,2"/>
<line x1="402.4" y1="395.8" x2="402.4" y2="511.5" stroke="#b0b0b0" stroke-width="0.9" stroke-dasharray="2,2"/>
<line x1="415.4" y1="395.8" x2="415.4" y2="511.5" stroke="#b0b0b0" stroke-width="0.9" stroke-dasharray="2,2"/>
<line x1="380.9" y1="395.8" x2="380.9" y2="511.5" stroke="#ff33ff" stroke-width="1.3" stroke-dasharray="2,1.8"/>
<line x1="385.1" y1="395.8" x2="385.1" y2="511.5" stroke="#ff33ff" stroke-width="1.3" stroke-dasharray="2,1.8"/>
<line x1="396" y1="395.8" x2="396" y2="511.5" stroke="#ff33ff" stroke-width="1.3" stroke-dasharray="2,1.8"/>
<line x1="322.6" y1="511.2" x2="476" y2="511.2" stroke="#111" stroke-width="1.4"/>
<path d="M322.6,507.66 L323.2,502.53 L323.8,500.33 L324.4,497.84 L325,492.97 L325.6,489.27 L326.2,493.08 L326.8,489.9 L327.4,494.74 L328,487.77 L328.6,486.86 L329.2,479.48 L329.8,486.43 L330.4,480.8 L331,485.02 L331.6,481.77 L332.2,484.63 L332.8,476.98 L333.4,475.76 L334,474.71 L334.6,474.91 L335.2,478.36 L335.8,479.54 L336.4,476.32 L337,479.36 L337.6,475.04 L338.2,480.53 L338.8,485.87 L339.4,483.86 L340,489.82 L340.6,493.44 L341.2,484.25 L341.8,482.79 L342.4,480.29 L343,496.83 L343.6,490.42 L344.2,495.61 L344.8,485.48 L345.4,495.02 L346,492.59 L346.6,496.7 L347.2,497.85 L347.8,488.79 L348.4,500.68 L349,499.57 L349.6,497.34 L350.2,498.11 L350.8,494.62 L351.4,502.63 L352,491.61 L352.6,498.69 L353.2,493.26 L353.8,497.76 L354.4,493.41 L355,495.48 L355.6,489.66 L356.2,497.62 L356.8,489.79 L357.4,493.82 L358,494.18 L358.6,486.96 L359.2,489.04 L359.8,494.31 L360.4,490.67 L361,484.87 L361.6,484.57 L362.2,487.06 L362.8,482.88 L363.4,489.18 L364,486.69 L364.6,488.71 L365.2,481.66 L365.8,481.39 L366.4,473.83 L367,482.29 L367.6,473.77 L368.2,477.49 L368.8,470.79 L369.4,473.75 L370,459.65 L370.6,473.96 L371.2,462.73 L371.8,464.74 L372.4,466.65 L373,462.73 L373.6,468.43 L374.2,461.24 L374.8,457.39 L375.4,458.99 L376,458.89 L376.6,450.24 L377.2,454.74 L377.8,454.19 L378.4,450.47 L379,459.27 L379.6,449.57 L380.2,453.02 L380.8,451.06 L381.4,458.65 L382,463.64 L382.6,449.12 L383.2,454.63 L383.8,462.16 L384.4,455.4 L385,459.66 L385.6,453.11 L386.2,459.92 L386.8,460.79 L387.4,463.33 L388,459.4 L388.6,464.37 L389.2,459.12 L389.8,462.93 L390.4,452.78 L391,449.8 L391.6,458.93 L392.2,458.32 L392.8,451.19 L393.4,458.95 L394,463.74 L394.6,457.43 L395.2,454.61 L395.8,456.44 L396.4,457.58 L397,453.82 L397.6,455.65 L398.2,451.09 L398.8,442.62 L399.4,449.33 L400,442.04 L400.6,449.94 L401.2,443.48 L401.8,444.74 L402.4,447.57 L403,449.68 L403.6,446.66 L404.2,452.2 L404.8,459.6 L405.4,457.94 L406,458.18 L406.6,459.38 L407.2,463.07 L407.8,469.32 L408.4,463.68 L409,470.38 L409.6,477.92 L410.2,480.98 L410.8,467.9 L411.4,482.56 L412,478.72 L412.6,480.88 L413.2,481.08 L413.8,484.21 L414.4,482.35 L415,485.47 L415.6,483.81 L416.2,480.86 L416.8,491.53 L417.4,489.55 L418,483.06 L418.6,492.49 L419.2,490.17 L419.8,486.7 L420.4,486.04 L421,492.86 L421.6,494.8 L422.2,494.4 L422.8,496.12 L423.4,495.61 L424,496.3 L424.6,501.25 L425.2,495.73 L425.8,502.34 L426.4,493.98 L427,507.06 L427.6,499.41 L428.2,503.31 L428.8,499.63 L429.4,502.92 L430,500.25 L430.6,503.99 L431.2,501.33 L431.8,505.61 L432.4,500.45 L433,507.14 L433.6,502.29 L434.2,504.98 L434.8,496.63 L435.4,505.4 L436,498.02 L436.6,505.86 L437.2,505.93 L437.8,512.79 L438.4,502.76 L439,502.64 L439.6,499.12 L440.2,499.97 L440.8,505.93 L441.4,511.02 L442,496.09 L442.6,504.42 L443.2,498.05 L443.8,502.69 L444.4,500.58 L445,500.62 L445.6,495.76 L446.2,502.2 L446.8,496.37 L447.4,502.15 L448,494.15 L448.6,499.92 L449.2,502.48 L449.8,499.21 L450.4,499.51 L451,494.67 L451.6,487.06 L452.2,497.42 L452.8,493.51 L453.4,492.43 L454,486.04 L454.6,492.99 L455.2,485.01 L455.8,493.08 L456.4,483.86 L457,485.56 L457.6,484.14 L458.2,485.72 L458.8,483.04 L459.4,489.46 L460,478.87 L460.6,480.34 L461.2,480.14 L461.8,480.51 L462.4,475.09 L463,477.45 L463.6,468.12 L464.2,478.79 L464.8,462.91 L465.4,468.09 L466,463.95 L466.6,462.91 L467.2,457.2 L467.8,459.88 L468.4,456.37 L469,455.22 L469.6,456 L470.2,455.6 L470.8,449.32 L471.4,457.69 L472,449.88 L472.6,454.14 L473.2,450.24 L473.8,459.49 L474.4,450.75 L475,458 L475.6,453.2" fill="none" stroke="#222" stroke-width="0.8"/>
<path d="M322.6,500 C323.42,498.08 326.1,491.83 327.5,488.5 C328.9,485.17 329.78,482.13 331,480 C332.22,477.87 333.72,476.03 334.8,475.7 C335.88,475.37 336.58,476.48 337.5,478 C338.42,479.52 338.92,481.83 340.3,484.8 C341.68,487.77 343.97,493.5 345.8,495.8 C347.63,498.1 349.17,499.37 351.3,498.6 C353.43,497.83 356.32,493.18 358.6,491.2 C360.88,489.22 363.18,490.2 365,486.7 C366.82,483.2 367.83,475.08 369.5,470.2 C371.17,465.32 373.17,460.38 375,457.4 C376.83,454.42 378.82,452.3 380.5,452.3 C382.18,452.3 383.58,455.63 385.1,457.4 C386.62,459.17 387.93,463.2 389.6,462.9 C391.27,462.6 393.53,458.25 395.1,455.6 C396.67,452.95 397.92,449.27 399,447 C400.08,444.73 400.85,442 401.6,442 C402.35,442 402.88,444.6 403.5,447 C404.12,449.4 404.6,453.32 405.3,456.4 C406,459.48 406.83,462.23 407.7,465.5 C408.57,468.77 409.35,472.92 410.5,476 C411.65,479.08 413.02,481.42 414.6,484 C416.18,486.58 418.27,489.25 420,491.5 C421.73,493.75 423.25,495.62 425,497.5 C426.75,499.38 428.5,501.88 430.5,502.8 C432.5,503.72 434.78,503.2 437,503 C439.22,502.8 441.47,503.1 443.8,501.6 C446.13,500.1 448.42,496.95 451,494 C453.58,491.05 456.97,488.4 459.3,483.9 C461.63,479.4 463.15,472.35 465,467 C466.85,461.65 468.98,453.8 470.4,451.8 C471.82,449.8 472.57,453.9 473.5,455 C474.43,456.1 475.58,457.83 476,458.4" fill="none" stroke="#ee1111" stroke-width="1.2"/>
<path d="M322.6,411.71 L323,414.8 L323.4,418.56 L323.8,412.72 L324.2,411.53 L324.6,415.9 L325,404.33 L325.4,423.17 L325.8,420.6 L326.2,419.56 L326.6,416.95 L327,420.87 L327.4,420.76 L327.8,416.16 L328.2,412.05 L328.6,412.87 L329,415.52 L329.4,410.69 L329.8,418.81 L330.2,420.97 L330.6,408.62 L331,421.14 L331.4,413.08 L331.8,414.91 L332.2,414.22 L332.6,412.39 L333,412.62 L333.4,415.93 L333.8,408.61 L334.2,420.96 L334.6,407.72 L335,415.36 L335.4,416.49 L335.8,409.42 L336.2,413.06 L336.6,412.14 L337,409.68 L337.4,410.23 L337.8,425.96 L338.2,423.21 L338.6,414.32 L339,418.27 L339.4,418.94 L339.8,419.97 L340.2,420.86 L340.6,418.37 L341,409.79 L341.4,419.99 L341.8,404.53 L342.2,418.69 L342.6,413.78 L343,412.42 L343.4,421.79 L343.8,410.61 L344.2,424.33 L344.6,414.51 L345,419.58 L345.4,415.46 L345.8,413.78 L346.2,429.64 L346.6,427.66 L347,417.79 L347.4,418.53 L347.8,414.73 L348.2,422.83 L348.6,425.41 L349,426.17 L349.4,413.62 L349.8,414.83 L350.2,407.7 L350.6,415.98 L351,416.78 L351.4,408.88 L351.8,408.61 L352.2,422.02 L352.6,414.27 L353,419.35 L353.4,416.37 L353.8,412.69 L354.2,417.36 L354.6,419.49 L355,416.78 L355.4,413.54 L355.8,416.2 L356.2,418.53 L356.6,418.2 L357,424.92 L357.4,418.07 L357.8,418.47 L358.2,413.64 L358.6,409.26 L359,408.42 L359.4,416.38 L359.8,420.79 L360.2,422.55 L360.6,410.34 L361,409.64 L361.4,409.95 L361.8,412.22 L362.2,414.24 L362.6,412.67 L363,408 L363.4,420.43 L363.8,417.74 L364.2,413.28 L364.6,426.43 L365,414.39 L365.4,423.61 L365.8,411.64 L366.2,418.18 L366.6,405.37 L367,416.2 L367.4,413.44 L367.8,411.95 L368.2,418.94 L368.6,420 L369,408.97 L369.4,417.54 L369.8,420.72 L370.2,416.16 L370.6,426.63 L371,412.08 L371.4,412.81 L371.8,417.47 L372.2,417.35 L372.6,427.64 L373,419.6 L373.4,422.74 L373.8,414.42 L374.2,413.68 L374.6,423.33 L375,417.62 L375.4,422.28 L375.8,418.3 L376.2,421.8 L376.6,415.18 L377,415.28 L377.4,418.44 L377.8,414.76 L378.2,420.45 L378.6,422.09 L379,421.53 L379.4,409.71 L379.8,411.33 L380.2,419.23 L380.6,418.61 L381,416.8 L381.4,415.89 L381.8,409.76 L382.2,423.07 L382.6,416.68 L383,419.76 L383.4,413.68 L383.8,413.25 L384.2,413.58 L384.6,420.56 L385,413.95 L385.4,423.33 L385.8,415.37 L386.2,407.61 L386.6,418.17 L387,415.96 L387.4,415.57 L387.8,431.15 L388.2,418.76 L388.6,407.97 L389,416.66 L389.4,418.83 L389.8,414.49 L390.2,426.84 L390.6,416.21 L391,411.32 L391.4,411.69 L391.8,409.22 L392.2,415.65 L392.6,418.56 L393,419.2 L393.4,408.78 L393.8,419.15 L394.2,408.33 L394.6,411.27 L395,421.76 L395.4,408.81 L395.8,424.39 L396.2,421.81 L396.6,421.73 L397,409.83 L397.4,425.39 L397.8,417.25 L398.2,413.22 L398.6,419.9 L399,416.56 L399.4,424.67 L399.8,414.1 L400.2,415.25 L400.6,412.84 L401,417.5 L401.4,421.58 L401.8,409.29 L402.2,414.76 L402.6,425.33 L403,419.81 L403.4,416.47 L403.8,424.27 L404.2,414.44 L404.6,420.1 L405,418.65 L405.4,413.61 L405.8,405.8 L406.2,415.95 L406.6,420.02 L407,409.04 L407.4,416.52 L407.8,423.36 L408.2,411.91 L408.6,416.92 L409,417.26 L409.4,408.63 L409.8,420.41 L410.2,412.88 L410.6,418.71 L411,419.39 L411.4,415.7 L411.8,408.27 L412.2,413 L412.6,412.19 L413,414.51 L413.4,415.29 L413.8,423.97 L414.2,421.18 L414.6,421.65 L415,420.78 L415.4,415.25 L415.8,419.18 L416.2,418.48 L416.6,405.87 L417,415.01 L417.4,418.87 L417.8,413.78 L418.2,416.81 L418.6,417.28 L419,415.92 L419.4,413.16 L419.8,416.02 L420.2,433.51 L420.6,416.46 L421,412.81 L421.4,408.98 L421.8,417.31 L422.2,407.3 L422.6,410.37 L423,411.44 L423.4,415.25 L423.8,418.38 L424.2,414.96 L424.6,407.98 L425,415.65 L425.4,408.86 L425.8,422.55 L426.2,419.92 L426.6,425.05 L427,421.5 L427.4,420.19 L427.8,416.42 L428.2,406.14 L428.6,414.04 L429,414.72 L429.4,413.94 L429.8,415.65 L430.2,412.76 L430.6,413.74 L431,420.34 L431.4,417.24 L431.8,412.87 L432.2,414.37 L432.6,419.92 L433,416.39 L433.4,419.75 L433.8,413.81 L434.2,418.33 L434.6,416.06 L435,418.77 L435.4,409.32 L435.8,412.36 L436.2,416.66 L436.6,421.73 L437,404.87 L437.4,407.87 L437.8,418.63 L438.2,415.68 L438.6,424.89 L439,413.07 L439.4,416.73 L439.8,419.55 L440.2,412.03 L440.6,416.16 L441,414.22 L441.4,421.03 L441.8,410.05 L442.2,414.55 L442.6,421.43 L443,417.39 L443.4,418.14 L443.8,427.38 L444.2,417.88 L444.6,418.32 L445,413.85 L445.4,419.27 L445.8,416.85 L446.2,414.91 L446.6,422.5 L447,413.22 L447.4,415.94 L447.8,412.27 L448.2,412.63 L448.6,415.85 L449,416.62 L449.4,409.85 L449.8,415.95 L450.2,420.6 L450.6,418.36 L451,416.43 L451.4,399.51 L451.8,405.57 L452.2,419.93 L452.6,413.53 L453,411.97 L453.4,422.25 L453.8,407.19 L454.2,416.91 L454.6,417.73 L455,420.97 L455.4,420.11 L455.8,414.69 L456.2,414.03 L456.6,411.09 L457,406.56 L457.4,416.4 L457.8,422.71 L458.2,415.03 L458.6,420.23 L459,416 L459.4,414.09 L459.8,420.42 L460.2,408.15 L460.6,428.91 L461,421.92 L461.4,424.35 L461.8,414.7 L462.2,409.35 L462.6,406.31 L463,416.99 L463.4,427.85 L463.8,418.16 L464.2,413.67 L464.6,418.96 L465,425.25 L465.4,416.2 L465.8,425.66 L466.2,417.83 L466.6,418.01 L467,430.1 L467.4,404.83 L467.8,406.52 L468.2,420.64 L468.6,417.59 L469,417.61 L469.4,416.19 L469.8,414.62 L470.2,420.73 L470.6,408.6 L471,417.22 L471.4,412.59 L471.8,419.48 L472.2,413.73 L472.6,420.49 L473,412.19 L473.4,406.32 L473.8,412.27 L474.2,414.92 L474.6,420.28 L475,415.34 L475.4,413.52 L475.8,408.27" fill="none" stroke="#1010ff" stroke-width="1.0"/>
</g>
<line x1="319.6" y1="407.5" x2="322.6" y2="407.5" stroke="#6e6e6e" stroke-width="1"/>
<text x="318.2" y="412.1" font-size="12.9" text-anchor="end">2.4x10<tspan font-size="7" dy="-7.3">3</tspan></text>
<line x1="319.6" y1="433.5" x2="322.6" y2="433.5" stroke="#6e6e6e" stroke-width="1"/>
<text x="318.2" y="438.1" font-size="12.9" text-anchor="end">1.8x10<tspan font-size="7" dy="-7.3">3</tspan></text>
<line x1="319.6" y1="459.5" x2="322.6" y2="459.5" stroke="#6e6e6e" stroke-width="1"/>
<text x="318.2" y="464.1" font-size="12.9" text-anchor="end">1.2x10<tspan font-size="7" dy="-7.3">3</tspan></text>
<line x1="319.6" y1="485.5" x2="322.6" y2="485.5" stroke="#6e6e6e" stroke-width="1"/>
<text x="318.2" y="490.1" font-size="12.9" text-anchor="end">6.0x10<tspan font-size="7" dy="-7.3">2</tspan></text>
<line x1="319.6" y1="511.5" x2="322.6" y2="511.5" stroke="#6e6e6e" stroke-width="1"/>
<text x="318.2" y="514.1" font-size="12.9" text-anchor="end">0.0</text>
<line x1="320.6" y1="420.5" x2="322.6" y2="420.5" stroke="#6e6e6e" stroke-width="1"/>
<line x1="320.6" y1="446.5" x2="322.6" y2="446.5" stroke="#6e6e6e" stroke-width="1"/>
<line x1="320.6" y1="472.5" x2="322.6" y2="472.5" stroke="#6e6e6e" stroke-width="1"/>
<line x1="320.6" y1="498.5" x2="322.6" y2="498.5" stroke="#6e6e6e" stroke-width="1"/>
<rect x="322.6" y="284" width="153.4" height="227.5" fill="none" stroke="#6e6e6e" stroke-width="1.3"/>
<line x1="322.6" y1="395.8" x2="476" y2="395.8" stroke="#6e6e6e" stroke-width="1"/>
<line x1="322.6" y1="511.5" x2="322.6" y2="514.5" stroke="#6e6e6e" stroke-width="1"/>
<text x="322.6" y="527.5" font-size="12.3" text-anchor="middle">1400</text>
<line x1="337.94" y1="511.5" x2="337.94" y2="513.5" stroke="#6e6e6e" stroke-width="1"/>
<line x1="353.28" y1="511.5" x2="353.28" y2="514.5" stroke="#6e6e6e" stroke-width="1"/>
<text x="353.28" y="527.5" font-size="12.3" text-anchor="middle">1350</text>
<line x1="368.62" y1="511.5" x2="368.62" y2="513.5" stroke="#6e6e6e" stroke-width="1"/>
<line x1="383.96" y1="511.5" x2="383.96" y2="514.5" stroke="#6e6e6e" stroke-width="1"/>
<text x="383.96" y="527.5" font-size="12.3" text-anchor="middle">1300</text>
<line x1="399.3" y1="511.5" x2="399.3" y2="513.5" stroke="#6e6e6e" stroke-width="1"/>
<line x1="414.64" y1="511.5" x2="414.64" y2="514.5" stroke="#6e6e6e" stroke-width="1"/>
<text x="414.64" y="527.5" font-size="12.3" text-anchor="middle">1250</text>
<line x1="429.98" y1="511.5" x2="429.98" y2="513.5" stroke="#6e6e6e" stroke-width="1"/>
<line x1="445.32" y1="511.5" x2="445.32" y2="514.5" stroke="#6e6e6e" stroke-width="1"/>
<text x="445.32" y="527.5" font-size="12.3" text-anchor="middle">1200</text>
<line x1="460.66" y1="511.5" x2="460.66" y2="513.5" stroke="#6e6e6e" stroke-width="1"/>
<line x1="476" y1="511.5" x2="476" y2="514.5" stroke="#6e6e6e" stroke-width="1"/>
<text x="476" y="527.5" font-size="12.3" text-anchor="middle">1150</text>
<text x="399" y="544.3" font-size="13.2" text-anchor="middle">Wavenumber (cm<tspan font-size="7" dy="-6">-1</tspan><tspan dy="6">)</tspan></text>
<text transform="translate(266.6,335) rotate(-90)" font-size="13" text-anchor="middle">Absorbance</text>
<text transform="translate(265.4,459) rotate(-90)" font-size="13" text-anchor="middle">Intensity (counts)</text>
<text x="255.7" y="295.8" font-size="24.7" style="font-family:'Liberation Sans', sans-serif" fill="#000" stroke="#000" stroke-width="0.35">D</text>
</svg>
</body></html>
